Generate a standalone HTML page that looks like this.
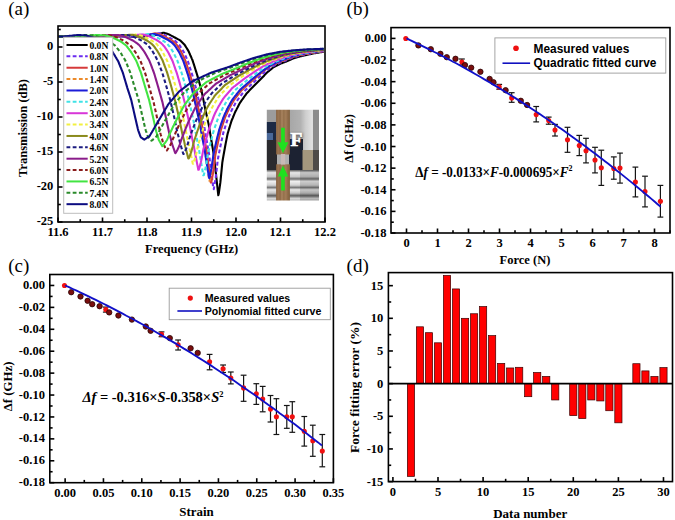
<!DOCTYPE html>
<html><head><meta charset="utf-8"><style>
html,body{margin:0;padding:0;background:#fff;}
svg{display:block;}
</style></head><body>
<svg width="675" height="520" viewBox="0 0 675 520">
<rect width="675" height="520" fill="#fff"/>
<defs><clipPath id="ca"><rect x="58" y="26" width="267" height="196"/></clipPath></defs>
<g clip-path="url(#ca)" fill="none" stroke-width="2.1" stroke-linejoin="round">
<path d="M58.8,36.5 L59.3,36.5 L59.8,36.5 L60.3,36.5 L60.8,36.5 L61.3,36.5 L61.8,36.5 L62.3,36.5 L62.8,36.5 L63.3,36.5 L63.8,36.5 L64.3,36.5 L64.8,36.5 L65.3,36.5 L65.8,36.5 L66.3,36.5 L66.8,36.5 L67.3,36.5 L67.8,36.5 L68.3,36.5 L68.8,36.5 L69.3,36.5 L69.8,36.5 L70.3,36.5 L70.8,36.5 L71.3,36.5 L71.8,36.5 L72.3,36.5 L72.8,36.5 L73.3,36.5 L73.8,36.5 L74.3,36.5 L74.8,36.5 L75.3,36.5 L75.8,36.5 L76.3,36.5 L76.8,36.5 L77.3,36.5 L77.8,36.5 L78.3,36.5 L78.8,36.5 L79.3,36.5 L79.8,36.5 L80.3,36.5 L80.8,36.5 L81.3,36.5 L81.8,36.5 L82.3,36.5 L82.8,36.5 L83.3,36.5 L83.8,36.5 L84.3,36.5 L84.8,36.5 L85.3,36.5 L85.8,36.5 L86.3,36.5 L86.8,36.5 L87.3,36.5 L87.8,36.5 L88.3,36.5 L88.8,36.5 L89.3,36.5 L89.8,36.5 L90.3,36.5 L90.8,36.5 L91.3,36.5 L91.8,36.5 L92.3,36.5 L92.8,36.5 L93.3,36.5 L93.8,36.5 L94.3,36.5 L94.8,36.5 L95.3,36.5 L95.8,36.5 L96.3,36.5 L96.8,36.5 L97.3,36.5 L97.8,36.5 L98.3,36.5 L98.8,36.5 L99.3,36.5 L99.8,36.5 L100.3,36.5 L100.8,36.5 L101.3,36.5 L101.8,36.5 L102.3,36.5 L102.8,36.5 L103.3,36.5 L103.8,36.5 L104.3,36.5 L104.8,36.5 L105.3,36.5 L105.8,36.5 L106.3,36.5 L106.8,36.5 L107.3,36.5 L107.8,36.5 L108.3,36.5 L108.8,36.5 L109.3,36.5 L109.8,36.5 L110.3,36.5 L110.8,36.5 L111.3,36.5 L111.8,36.5 L112.3,36.5 L112.8,36.5 L113.3,36.5 L113.8,36.5 L114.3,36.5 L114.8,36.5 L115.3,36.5 L115.8,36.5 L116.3,36.5 L116.8,36.5 L117.3,36.5 L117.8,36.5 L118.3,36.5 L118.8,36.5 L119.3,36.5 L119.8,36.5 L120.3,36.5 L120.8,36.5 L121.3,36.5 L121.8,36.5 L122.3,36.5 L122.8,36.5 L123.3,36.5 L123.8,36.5 L124.3,36.5 L124.8,36.5 L125.3,36.5 L125.8,36.5 L126.3,36.5 L126.8,36.5 L127.3,36.5 L127.8,36.5 L128.3,36.5 L128.8,36.5 L129.3,36.5 L129.8,36.5 L130.3,36.5 L130.8,36.5 L131.3,36.5 L131.8,36.5 L132.3,36.5 L132.8,36.5 L133.3,36.5 L133.8,36.5 L134.3,36.5 L134.8,36.5 L135.3,36.5 L135.8,36.5 L136.3,36.5 L136.8,36.5 L137.3,36.5 L137.8,36.5 L138.3,36.5 L138.8,36.5 L139.3,36.5 L139.8,36.5 L140.3,36.5 L140.8,36.5 L141.3,36.5 L141.8,36.5 L142.3,36.5 L142.8,36.5 L143.3,36.5 L143.8,36.5 L144.3,36.4 L144.8,36.3 L145.3,36.3 L145.8,36.2 L146.3,36.1 L146.8,36.1 L147.3,36.0 L147.8,36.0 L148.3,35.9 L148.8,35.8 L149.3,35.8 L149.8,35.7 L150.3,35.7 L150.8,35.6 L151.3,35.5 L151.8,35.5 L152.3,35.4 L152.8,35.3 L153.3,35.3 L153.8,35.2 L154.3,35.2 L154.8,35.1 L155.3,35.0 L155.8,35.0 L156.3,34.9 L156.8,34.8 L157.3,34.6 L157.8,34.5 L158.3,34.3 L158.8,34.1 L159.3,34.0 L159.8,33.8 L160.3,33.7 L160.8,33.5 L161.3,33.3 L161.8,33.2 L162.3,33.0 L162.8,32.9 L163.3,32.7 L163.8,32.8 L164.3,32.9 L164.8,33.1 L165.3,33.2 L165.8,33.4 L166.3,33.5 L166.8,33.6 L167.3,33.8 L167.8,33.9 L168.3,34.1 L168.8,34.3 L169.3,34.6 L169.8,34.8 L170.3,35.1 L170.8,35.4 L171.3,35.6 L171.8,35.9 L172.3,36.2 L172.8,36.4 L173.3,36.7 L173.8,37.0 L174.3,37.2 L174.8,37.5 L175.3,37.8 L175.8,38.0 L176.3,38.3 L176.8,38.6 L177.3,38.8 L177.8,39.1 L178.3,39.4 L178.8,39.6 L179.3,39.9 L179.8,40.2 L180.3,40.4 L180.8,40.9 L181.3,41.4 L181.8,41.9 L182.3,42.4 L182.8,42.9 L183.3,43.4 L183.8,43.9 L184.3,44.4 L184.8,45.1 L185.3,45.9 L185.8,46.7 L186.3,47.5 L186.8,48.3 L187.3,49.1 L187.8,49.9 L188.3,50.7 L188.8,51.8 L189.3,52.9 L189.8,54.0 L190.3,55.2 L190.8,56.3 L191.3,57.4 L191.8,58.6 L192.3,59.7 L192.8,61.1 L193.3,62.7 L193.8,64.2 L194.3,65.8 L194.8,67.4 L195.3,69.0 L195.8,70.6 L196.3,72.1 L196.8,73.7 L197.3,75.4 L197.8,77.1 L198.3,78.9 L198.8,80.6 L199.3,82.4 L199.8,84.2 L200.3,86.1 L200.8,87.9 L201.3,89.7 L201.8,92.0 L202.3,94.5 L202.8,97.0 L203.3,99.4 L203.8,101.9 L204.3,104.4 L204.8,106.9 L205.3,109.2 L205.8,111.5 L206.3,113.8 L206.8,116.0 L207.3,118.3 L207.8,120.6 L208.3,122.9 L208.8,125.1 L209.3,128.1 L209.8,131.1 L210.3,134.1 L210.8,137.0 L211.3,140.0 L211.8,143.0 L212.3,146.0 L212.8,148.9 L213.3,151.9 L213.8,154.9 L214.3,159.1 L214.8,163.6 L215.3,168.1 L215.8,172.7 L216.3,177.2 L216.8,181.7 L217.3,186.2 L217.8,190.8 L218.3,195.3 L218.8,193.4 L219.3,189.9 L219.8,186.4 L220.3,182.9 L220.8,178.2 L221.3,173.0 L221.8,167.9 L222.3,162.7 L222.8,159.5 L223.3,156.6 L223.8,153.8 L224.3,151.0 L224.8,148.2 L225.3,145.5 L225.8,142.9 L226.3,140.4 L226.8,137.8 L227.3,135.3 L227.8,133.1 L228.3,131.5 L228.8,129.8 L229.3,128.1 L229.8,126.5 L230.3,124.8 L230.8,123.2 L231.3,121.5 L231.8,120.2 L232.3,119.0 L232.8,117.8 L233.3,116.5 L233.8,115.3 L234.3,114.1 L234.8,112.9 L235.3,111.8 L235.8,110.8 L236.3,109.9 L236.8,108.9 L237.3,107.9 L237.8,107.0 L238.3,106.0 L238.8,105.0 L239.3,104.1 L239.8,103.1 L240.3,102.3 L240.8,101.6 L241.3,100.9 L241.8,100.2 L242.3,99.5 L242.8,98.8 L243.3,98.1 L243.8,97.4 L244.3,96.7 L244.8,96.0 L245.3,95.3 L245.8,94.6 L246.3,93.9 L246.8,93.2 L247.3,92.7 L247.8,92.2 L248.3,91.7 L248.8,91.2 L249.3,90.6 L249.8,90.1 L250.3,89.6 L250.8,89.1 L251.3,88.6 L251.8,88.1 L252.3,87.6 L252.8,87.0 L253.3,86.5 L253.8,86.0 L254.3,85.5 L254.8,85.0 L255.3,84.5 L255.8,84.0 L256.3,83.5 L256.8,83.0 L257.3,82.5 L257.8,82.0 L258.3,81.5 L258.8,81.0 L259.3,80.5 L259.8,80.0 L260.3,79.5 L260.8,79.0 L261.3,78.5 L261.8,78.0 L262.3,77.4 L262.8,76.9 L263.3,76.4 L263.8,75.9 L264.3,75.4 L264.8,74.8 L265.3,74.3 L265.8,73.8 L266.3,73.3 L266.8,72.8 L267.3,72.3 L267.8,71.9 L268.3,71.5 L268.8,71.1 L269.3,70.7 L269.8,70.3 L270.3,69.9 L270.8,69.5 L271.3,69.0 L271.8,68.6 L272.3,68.2 L272.8,67.8 L273.3,67.4 L273.8,67.1 L274.3,66.8 L274.8,66.5 L275.3,66.3 L275.8,66.0 L276.3,65.8 L276.8,65.5 L277.3,65.3 L277.8,65.0 L278.3,64.8 L278.8,64.5 L279.3,64.3 L279.8,64.0 L280.3,63.8 L280.8,63.6 L281.3,63.4 L281.8,63.2 L282.3,63.0 L282.8,62.8 L283.3,62.6 L283.8,62.4 L284.3,62.3 L284.8,62.1 L285.3,61.9 L285.8,61.7 L286.3,61.5 L286.8,61.3 L287.3,61.1 L287.8,60.9 L288.3,60.7 L288.8,60.4 L289.3,60.2 L289.8,60.0 L290.3,59.8 L290.8,59.6 L291.3,59.3 L291.8,59.1 L292.3,58.9 L292.8,58.7 L293.3,58.4 L293.8,58.2 L294.3,58.1 L294.8,57.9 L295.3,57.8 L295.8,57.6 L296.3,57.5 L296.8,57.3 L297.3,57.2 L297.8,57.0 L298.3,56.9 L298.8,56.7 L299.3,56.6 L299.8,56.5 L300.3,56.3 L300.8,56.2 L301.3,56.1 L301.8,56.0 L302.3,55.9 L302.8,55.7 L303.3,55.6 L303.8,55.5 L304.3,55.4 L304.8,55.3 L305.3,55.2 L305.8,55.1 L306.3,55.0 L306.8,54.9 L307.3,54.8 L307.8,54.6 L308.3,54.5 L308.8,54.4 L309.3,54.3 L309.8,54.2 L310.3,54.1 L310.8,54.0 L311.3,53.9 L311.8,53.8 L312.3,53.6 L312.8,53.5 L313.3,53.4 L313.8,53.3 L314.3,53.2 L314.8,53.1 L315.3,53.1 L315.8,53.0 L316.3,52.9 L316.8,52.8 L317.3,52.7 L317.8,52.7 L318.3,52.6 L318.8,52.5 L319.3,52.4 L319.8,52.3 L320.3,52.2 L320.8,52.2 L321.3,52.1 L321.8,52.0 L322.3,51.9 L322.8,51.8 L323.3,51.8 L323.8,51.7" stroke="#000000"/>
<path d="M58.8,36.5 L59.3,36.5 L59.8,36.5 L60.3,36.5 L60.8,36.5 L61.3,36.5 L61.8,36.5 L62.3,36.5 L62.8,36.5 L63.3,36.5 L63.8,36.5 L64.3,36.5 L64.8,36.5 L65.3,36.5 L65.8,36.5 L66.3,36.5 L66.8,36.5 L67.3,36.5 L67.8,36.5 L68.3,36.5 L68.8,36.5 L69.3,36.5 L69.8,36.5 L70.3,36.5 L70.8,36.5 L71.3,36.5 L71.8,36.5 L72.3,36.5 L72.8,36.5 L73.3,36.5 L73.8,36.5 L74.3,36.5 L74.8,36.5 L75.3,36.5 L75.8,36.5 L76.3,36.5 L76.8,36.5 L77.3,36.5 L77.8,36.5 L78.3,36.5 L78.8,36.5 L79.3,36.5 L79.8,36.5 L80.3,36.5 L80.8,36.5 L81.3,36.5 L81.8,36.5 L82.3,36.5 L82.8,36.5 L83.3,36.5 L83.8,36.5 L84.3,36.5 L84.8,36.5 L85.3,36.5 L85.8,36.5 L86.3,36.5 L86.8,36.5 L87.3,36.5 L87.8,36.5 L88.3,36.5 L88.8,36.5 L89.3,36.5 L89.8,36.5 L90.3,36.5 L90.8,36.5 L91.3,36.5 L91.8,36.5 L92.3,36.5 L92.8,36.5 L93.3,36.5 L93.8,36.5 L94.3,36.5 L94.8,36.5 L95.3,36.5 L95.8,36.5 L96.3,36.5 L96.8,36.5 L97.3,36.5 L97.8,36.5 L98.3,36.5 L98.8,36.5 L99.3,36.5 L99.8,36.5 L100.3,36.5 L100.8,36.5 L101.3,36.5 L101.8,36.5 L102.3,36.5 L102.8,36.5 L103.3,36.5 L103.8,36.5 L104.3,36.5 L104.8,36.5 L105.3,36.5 L105.8,36.5 L106.3,36.5 L106.8,36.5 L107.3,36.5 L107.8,36.5 L108.3,36.5 L108.8,36.5 L109.3,36.5 L109.8,36.5 L110.3,36.5 L110.8,36.5 L111.3,36.5 L111.8,36.5 L112.3,36.5 L112.8,36.5 L113.3,36.5 L113.8,36.5 L114.3,36.5 L114.8,36.5 L115.3,36.5 L115.8,36.5 L116.3,36.5 L116.8,36.5 L117.3,36.5 L117.8,36.5 L118.3,36.5 L118.8,36.5 L119.3,36.5 L119.8,36.5 L120.3,36.5 L120.8,36.5 L121.3,36.5 L121.8,36.5 L122.3,36.5 L122.8,36.5 L123.3,36.5 L123.8,36.5 L124.3,36.5 L124.8,36.5 L125.3,36.5 L125.8,36.5 L126.3,36.5 L126.8,36.5 L127.3,36.5 L127.8,36.5 L128.3,36.5 L128.8,36.5 L129.3,36.5 L129.8,36.5 L130.3,36.5 L130.8,36.5 L131.3,36.5 L131.8,36.5 L132.3,36.5 L132.8,36.5 L133.3,36.5 L133.8,36.5 L134.3,36.5 L134.8,36.5 L135.3,36.5 L135.8,36.5 L136.3,36.5 L136.8,36.4 L137.3,36.4 L137.8,36.4 L138.3,36.4 L138.8,36.4 L139.3,36.3 L139.8,36.3 L140.3,36.2 L140.8,36.1 L141.3,36.1 L141.8,36.0 L142.3,36.0 L142.8,35.9 L143.3,35.8 L143.8,35.8 L144.3,35.7 L144.8,35.7 L145.3,35.6 L145.8,35.5 L146.3,35.5 L146.8,35.4 L147.3,35.3 L147.8,35.3 L148.3,35.2 L148.8,35.2 L149.3,35.1 L149.8,35.1 L150.3,35.0 L150.8,35.0 L151.3,35.0 L151.8,34.9 L152.3,34.7 L152.8,34.6 L153.3,34.5 L153.8,34.3 L154.3,34.2 L154.8,34.1 L155.3,33.9 L155.8,33.8 L156.3,33.7 L156.8,33.6 L157.3,33.5 L157.8,33.3 L158.3,33.2 L158.8,33.2 L159.3,33.4 L159.8,33.5 L160.3,33.7 L160.8,33.8 L161.3,34.0 L161.8,34.1 L162.3,34.3 L162.8,34.4 L163.3,34.6 L163.8,34.8 L164.3,35.0 L164.8,35.3 L165.3,35.6 L165.8,35.8 L166.3,36.1 L166.8,36.3 L167.3,36.6 L167.8,36.9 L168.3,37.1 L168.8,37.4 L169.3,37.7 L169.8,37.9 L170.3,38.2 L170.8,38.5 L171.3,38.7 L171.8,39.0 L172.3,39.3 L172.8,39.6 L173.3,39.9 L173.8,40.2 L174.3,40.4 L174.8,40.7 L175.3,41.0 L175.8,41.4 L176.3,41.9 L176.8,42.4 L177.3,42.9 L177.8,43.4 L178.3,43.9 L178.8,44.4 L179.3,45.0 L179.8,45.6 L180.3,46.4 L180.8,47.2 L181.3,48.0 L181.8,48.8 L182.3,49.6 L182.8,50.4 L183.3,51.2 L183.8,52.1 L184.3,53.2 L184.8,54.3 L185.3,55.4 L185.8,56.5 L186.3,57.6 L186.8,58.7 L187.3,59.8 L187.8,61.0 L188.3,62.6 L188.8,64.1 L189.3,65.7 L189.8,67.3 L190.3,68.8 L190.8,70.4 L191.3,71.9 L191.8,73.5 L192.3,75.1 L192.8,76.8 L193.3,78.6 L193.8,80.3 L194.3,82.1 L194.8,84.0 L195.3,85.8 L195.8,87.6 L196.3,89.5 L196.8,91.4 L197.3,93.8 L197.8,96.2 L198.3,98.6 L198.8,101.0 L199.3,103.4 L199.8,105.8 L200.3,108.1 L200.8,110.3 L201.3,112.6 L201.8,114.9 L202.3,117.2 L202.8,119.5 L203.3,121.8 L203.8,124.1 L204.3,126.8 L204.8,129.7 L205.3,132.6 L205.8,135.5 L206.3,138.4 L206.8,141.3 L207.3,144.2 L207.8,147.1 L208.3,149.8 L208.8,152.6 L209.3,155.9 L209.8,160.1 L210.3,164.1 L210.8,168.1 L211.3,172.1 L211.8,176.1 L212.3,180.1 L212.8,184.0 L213.3,188.0 L213.8,189.2 L214.3,186.2 L214.8,183.2 L215.3,180.3 L215.8,177.1 L216.3,172.7 L216.8,168.4 L217.3,163.9 L217.8,159.5 L218.3,157.0 L218.8,154.4 L219.3,151.9 L219.8,149.3 L220.3,146.8 L220.8,144.3 L221.3,142.0 L221.8,139.7 L222.3,137.4 L222.8,135.1 L223.3,132.9 L223.8,131.3 L224.3,129.7 L224.8,128.1 L225.3,126.5 L225.8,125.0 L226.3,123.4 L226.8,121.8 L227.3,120.3 L227.8,119.1 L228.3,117.8 L228.8,116.7 L229.3,115.5 L229.8,114.3 L230.3,113.2 L230.8,112.0 L231.3,111.0 L231.8,110.0 L232.3,109.1 L232.8,108.1 L233.3,107.2 L233.8,106.3 L234.3,105.3 L234.8,104.4 L235.3,103.4 L235.8,102.6 L236.3,101.7 L236.8,101.0 L237.3,100.4 L237.8,99.7 L238.3,99.0 L238.8,98.3 L239.3,97.7 L239.8,97.0 L240.3,96.3 L240.8,95.6 L241.3,95.0 L241.8,94.3 L242.3,93.6 L242.8,92.9 L243.3,92.3 L243.8,91.8 L244.3,91.3 L244.8,90.8 L245.3,90.3 L245.8,89.8 L246.3,89.3 L246.8,88.9 L247.3,88.4 L247.8,87.9 L248.3,87.4 L248.8,86.9 L249.3,86.5 L249.8,86.0 L250.3,85.5 L250.8,85.0 L251.3,84.5 L251.8,84.1 L252.3,83.6 L252.8,83.1 L253.3,82.7 L253.8,82.2 L254.3,81.7 L254.8,81.2 L255.3,80.8 L255.8,80.3 L256.3,79.9 L256.8,79.4 L257.3,79.0 L257.8,78.5 L258.3,78.0 L258.8,77.6 L259.3,77.1 L259.8,76.6 L260.3,76.2 L260.8,75.7 L261.3,75.2 L261.8,74.7 L262.3,74.3 L262.8,73.8 L263.3,73.3 L263.8,72.9 L264.3,72.4 L264.8,72.0 L265.3,71.6 L265.8,71.2 L266.3,70.9 L266.8,70.5 L267.3,70.1 L267.8,69.7 L268.3,69.3 L268.8,68.9 L269.3,68.5 L269.8,68.1 L270.3,67.8 L270.8,67.4 L271.3,67.0 L271.8,66.7 L272.3,66.5 L272.8,66.2 L273.3,66.0 L273.8,65.7 L274.3,65.5 L274.8,65.2 L275.3,65.0 L275.8,64.7 L276.3,64.5 L276.8,64.2 L277.3,64.0 L277.8,63.7 L278.3,63.5 L278.8,63.2 L279.3,63.0 L279.8,62.8 L280.3,62.6 L280.8,62.4 L281.3,62.3 L281.8,62.1 L282.3,61.9 L282.8,61.7 L283.3,61.5 L283.8,61.3 L284.3,61.1 L284.8,60.9 L285.3,60.7 L285.8,60.5 L286.3,60.3 L286.8,60.1 L287.3,59.9 L287.8,59.6 L288.3,59.4 L288.8,59.2 L289.3,59.0 L289.8,58.8 L290.3,58.6 L290.8,58.4 L291.3,58.2 L291.8,57.9 L292.3,57.7 L292.8,57.6 L293.3,57.4 L293.8,57.3 L294.3,57.1 L294.8,57.0 L295.3,56.8 L295.8,56.7 L296.3,56.6 L296.8,56.4 L297.3,56.3 L297.8,56.1 L298.3,56.0 L298.8,55.9 L299.3,55.7 L299.8,55.6 L300.3,55.5 L300.8,55.4 L301.3,55.3 L301.8,55.2 L302.3,55.1 L302.8,55.0 L303.3,54.9 L303.8,54.8 L304.3,54.7 L304.8,54.6 L305.3,54.5 L305.8,54.4 L306.3,54.3 L306.8,54.2 L307.3,54.1 L307.8,54.0 L308.3,53.9 L308.8,53.8 L309.3,53.7 L309.8,53.6 L310.3,53.5 L310.8,53.4 L311.3,53.3 L311.8,53.1 L312.3,53.0 L312.8,52.9 L313.3,52.8 L313.8,52.8 L314.3,52.7 L314.8,52.6 L315.3,52.5 L315.8,52.5 L316.3,52.4 L316.8,52.3 L317.3,52.3 L317.8,52.2 L318.3,52.1 L318.8,52.0 L319.3,52.0 L319.8,51.9 L320.3,51.8 L320.8,51.7 L321.3,51.7 L321.8,51.6 L322.3,51.5 L322.8,51.5 L323.3,51.4 L323.8,51.3" stroke="#6b2cf0" stroke-dasharray="3.8,2.4"/>
<path d="M58.8,36.5 L59.3,36.5 L59.8,36.5 L60.3,36.5 L60.8,36.5 L61.3,36.5 L61.8,36.5 L62.3,36.5 L62.8,36.5 L63.3,36.5 L63.8,36.5 L64.3,36.5 L64.8,36.5 L65.3,36.5 L65.8,36.5 L66.3,36.5 L66.8,36.5 L67.3,36.5 L67.8,36.5 L68.3,36.5 L68.8,36.5 L69.3,36.5 L69.8,36.5 L70.3,36.5 L70.8,36.5 L71.3,36.5 L71.8,36.5 L72.3,36.5 L72.8,36.5 L73.3,36.5 L73.8,36.5 L74.3,36.5 L74.8,36.5 L75.3,36.5 L75.8,36.5 L76.3,36.5 L76.8,36.5 L77.3,36.5 L77.8,36.5 L78.3,36.5 L78.8,36.5 L79.3,36.5 L79.8,36.5 L80.3,36.5 L80.8,36.5 L81.3,36.5 L81.8,36.5 L82.3,36.5 L82.8,36.5 L83.3,36.5 L83.8,36.5 L84.3,36.5 L84.8,36.5 L85.3,36.5 L85.8,36.5 L86.3,36.5 L86.8,36.5 L87.3,36.5 L87.8,36.5 L88.3,36.5 L88.8,36.5 L89.3,36.5 L89.8,36.5 L90.3,36.5 L90.8,36.5 L91.3,36.5 L91.8,36.5 L92.3,36.5 L92.8,36.5 L93.3,36.5 L93.8,36.5 L94.3,36.5 L94.8,36.5 L95.3,36.5 L95.8,36.5 L96.3,36.5 L96.8,36.5 L97.3,36.5 L97.8,36.5 L98.3,36.5 L98.8,36.5 L99.3,36.5 L99.8,36.5 L100.3,36.5 L100.8,36.5 L101.3,36.5 L101.8,36.5 L102.3,36.5 L102.8,36.5 L103.3,36.5 L103.8,36.5 L104.3,36.5 L104.8,36.5 L105.3,36.5 L105.8,36.5 L106.3,36.5 L106.8,36.5 L107.3,36.5 L107.8,36.5 L108.3,36.5 L108.8,36.5 L109.3,36.5 L109.8,36.5 L110.3,36.5 L110.8,36.5 L111.3,36.5 L111.8,36.5 L112.3,36.5 L112.8,36.5 L113.3,36.5 L113.8,36.5 L114.3,36.5 L114.8,36.5 L115.3,36.5 L115.8,36.5 L116.3,36.5 L116.8,36.5 L117.3,36.5 L117.8,36.5 L118.3,36.5 L118.8,36.5 L119.3,36.5 L119.8,36.5 L120.3,36.5 L120.8,36.5 L121.3,36.5 L121.8,36.5 L122.3,36.5 L122.8,36.5 L123.3,36.5 L123.8,36.5 L124.3,36.5 L124.8,36.5 L125.3,36.5 L125.8,36.5 L126.3,36.5 L126.8,36.5 L127.3,36.5 L127.8,36.5 L128.3,36.5 L128.8,36.5 L129.3,36.5 L129.8,36.5 L130.3,36.5 L130.8,36.5 L131.3,36.5 L131.8,36.5 L132.3,36.5 L132.8,36.5 L133.3,36.5 L133.8,36.4 L134.3,36.4 L134.8,36.4 L135.3,36.4 L135.8,36.4 L136.3,36.4 L136.8,36.3 L137.3,36.2 L137.8,36.2 L138.3,36.1 L138.8,36.1 L139.3,36.0 L139.8,35.9 L140.3,35.9 L140.8,35.8 L141.3,35.8 L141.8,35.7 L142.3,35.7 L142.8,35.6 L143.3,35.5 L143.8,35.5 L144.3,35.4 L144.8,35.4 L145.3,35.3 L145.8,35.3 L146.3,35.2 L146.8,35.2 L147.3,35.1 L147.8,35.1 L148.3,35.0 L148.8,35.0 L149.3,34.9 L149.8,34.8 L150.3,34.7 L150.8,34.5 L151.3,34.4 L151.8,34.3 L152.3,34.2 L152.8,34.0 L153.3,33.9 L153.8,33.8 L154.3,33.7 L154.8,33.6 L155.3,33.5 L155.8,33.4 L156.3,33.5 L156.8,33.6 L157.3,33.8 L157.8,33.9 L158.3,34.1 L158.8,34.2 L159.3,34.3 L159.8,34.5 L160.3,34.6 L160.8,34.8 L161.3,35.0 L161.8,35.2 L162.3,35.5 L162.8,35.8 L163.3,36.0 L163.8,36.3 L164.3,36.5 L164.8,36.8 L165.3,37.0 L165.8,37.3 L166.3,37.5 L166.8,37.8 L167.3,38.1 L167.8,38.3 L168.3,38.6 L168.8,38.8 L169.3,39.1 L169.8,39.4 L170.3,39.7 L170.8,40.0 L171.3,40.2 L171.8,40.5 L172.3,40.8 L172.8,41.1 L173.3,41.5 L173.8,42.0 L174.3,42.4 L174.8,42.9 L175.3,43.4 L175.8,43.9 L176.3,44.4 L176.8,45.0 L177.3,45.6 L177.8,46.4 L178.3,47.2 L178.8,47.9 L179.3,48.7 L179.8,49.5 L180.3,50.2 L180.8,51.0 L181.3,52.0 L181.8,53.1 L182.3,54.1 L182.8,55.2 L183.3,56.2 L183.8,57.3 L184.3,58.4 L184.8,59.4 L185.3,60.7 L185.8,62.2 L186.3,63.7 L186.8,65.2 L187.3,66.7 L187.8,68.1 L188.3,69.6 L188.8,71.1 L189.3,72.6 L189.8,74.3 L190.3,75.9 L190.8,77.6 L191.3,79.3 L191.8,81.1 L192.3,82.9 L192.8,84.6 L193.3,86.4 L193.8,88.2 L194.3,90.2 L194.8,92.5 L195.3,94.8 L195.8,97.1 L196.3,99.4 L196.8,101.6 L197.3,103.9 L197.8,106.1 L198.3,108.3 L198.8,110.5 L199.3,112.8 L199.8,115.0 L200.3,117.2 L200.8,119.5 L201.3,121.7 L201.8,124.4 L202.3,127.2 L202.8,130.0 L203.3,132.7 L203.8,135.5 L204.3,138.3 L204.8,141.1 L205.3,143.8 L205.8,146.4 L206.3,149.1 L206.8,152.5 L207.3,156.4 L207.8,160.2 L208.3,163.9 L208.8,167.6 L209.3,171.3 L209.8,175.1 L210.3,178.8 L210.8,182.5 L211.3,182.4 L211.8,179.6 L212.3,176.9 L212.8,174.2 L213.3,171.1 L213.8,167.2 L214.3,163.2 L214.8,159.1 L215.3,155.1 L215.8,152.7 L216.3,150.3 L216.8,148.0 L217.3,145.6 L217.8,143.2 L218.3,140.9 L218.8,138.7 L219.3,136.6 L219.8,134.4 L220.3,132.3 L220.8,130.1 L221.3,128.6 L221.8,127.1 L222.3,125.6 L222.8,124.1 L223.3,122.6 L223.8,121.1 L224.3,119.6 L224.8,118.1 L225.3,116.9 L225.8,115.7 L226.3,114.6 L226.8,113.5 L227.3,112.4 L227.8,111.3 L228.3,110.2 L228.8,109.1 L229.3,108.2 L229.8,107.3 L230.3,106.4 L230.8,105.5 L231.3,104.6 L231.8,103.7 L232.3,102.8 L232.8,101.9 L233.3,101.1 L233.8,100.3 L234.3,99.5 L234.8,98.9 L235.3,98.2 L235.8,97.6 L236.3,96.9 L236.8,96.3 L237.3,95.7 L237.8,95.0 L238.3,94.4 L238.8,93.8 L239.3,93.1 L239.8,92.5 L240.3,91.8 L240.8,91.2 L241.3,90.6 L241.8,90.1 L242.3,89.6 L242.8,89.2 L243.3,88.7 L243.8,88.2 L244.3,87.8 L244.8,87.3 L245.3,86.9 L245.8,86.4 L246.3,86.0 L246.8,85.5 L247.3,85.1 L247.8,84.6 L248.3,84.2 L248.8,83.7 L249.3,83.3 L249.8,82.8 L250.3,82.4 L250.8,82.0 L251.3,81.5 L251.8,81.1 L252.3,80.6 L252.8,80.2 L253.3,79.8 L253.8,79.3 L254.3,78.9 L254.8,78.5 L255.3,78.1 L255.8,77.6 L256.3,77.2 L256.8,76.8 L257.3,76.3 L257.8,75.9 L258.3,75.4 L258.8,75.0 L259.3,74.6 L259.8,74.1 L260.3,73.7 L260.8,73.3 L261.3,72.8 L261.8,72.4 L262.3,71.9 L262.8,71.5 L263.3,71.1 L263.8,70.8 L264.3,70.4 L264.8,70.1 L265.3,69.7 L265.8,69.3 L266.3,69.0 L266.8,68.6 L267.3,68.2 L267.8,67.9 L268.3,67.5 L268.8,67.1 L269.3,66.8 L269.8,66.4 L270.3,66.1 L270.8,65.9 L271.3,65.6 L271.8,65.4 L272.3,65.1 L272.8,64.9 L273.3,64.7 L273.8,64.4 L274.3,64.2 L274.8,64.0 L275.3,63.7 L275.8,63.5 L276.3,63.2 L276.8,63.0 L277.3,62.8 L277.8,62.6 L278.3,62.4 L278.8,62.2 L279.3,62.0 L279.8,61.8 L280.3,61.6 L280.8,61.4 L281.3,61.2 L281.8,61.1 L282.3,60.9 L282.8,60.7 L283.3,60.5 L283.8,60.3 L284.3,60.1 L284.8,60.0 L285.3,59.7 L285.8,59.5 L286.3,59.3 L286.8,59.1 L287.3,58.9 L287.8,58.7 L288.3,58.5 L288.8,58.3 L289.3,58.1 L289.8,57.9 L290.3,57.7 L290.8,57.5 L291.3,57.3 L291.8,57.1 L292.3,57.0 L292.8,56.9 L293.3,56.7 L293.8,56.6 L294.3,56.5 L294.8,56.3 L295.3,56.2 L295.8,56.0 L296.3,55.9 L296.8,55.8 L297.3,55.6 L297.8,55.5 L298.3,55.4 L298.8,55.3 L299.3,55.2 L299.8,55.1 L300.3,55.0 L300.8,54.9 L301.3,54.8 L301.8,54.7 L302.3,54.6 L302.8,54.5 L303.3,54.4 L303.8,54.3 L304.3,54.2 L304.8,54.1 L305.3,54.0 L305.8,53.9 L306.3,53.8 L306.8,53.7 L307.3,53.6 L307.8,53.5 L308.3,53.4 L308.8,53.3 L309.3,53.2 L309.8,53.1 L310.3,53.0 L310.8,53.0 L311.3,52.9 L311.8,52.8 L312.3,52.7 L312.8,52.6 L313.3,52.5 L313.8,52.4 L314.3,52.3 L314.8,52.3 L315.3,52.2 L315.8,52.1 L316.3,52.1 L316.8,52.0 L317.3,51.9 L317.8,51.9 L318.3,51.8 L318.8,51.7 L319.3,51.7 L319.8,51.6 L320.3,51.5 L320.8,51.5 L321.3,51.4 L321.8,51.3 L322.3,51.3 L322.8,51.2 L323.3,51.1 L323.8,51.1" stroke="#d63a3a"/>
<path d="M58.8,36.5 L59.3,36.5 L59.8,36.5 L60.3,36.5 L60.8,36.5 L61.3,36.5 L61.8,36.5 L62.3,36.5 L62.8,36.5 L63.3,36.5 L63.8,36.5 L64.3,36.5 L64.8,36.5 L65.3,36.5 L65.8,36.5 L66.3,36.5 L66.8,36.5 L67.3,36.5 L67.8,36.5 L68.3,36.5 L68.8,36.5 L69.3,36.5 L69.8,36.5 L70.3,36.5 L70.8,36.5 L71.3,36.5 L71.8,36.5 L72.3,36.5 L72.8,36.5 L73.3,36.5 L73.8,36.5 L74.3,36.5 L74.8,36.5 L75.3,36.5 L75.8,36.5 L76.3,36.5 L76.8,36.5 L77.3,36.5 L77.8,36.5 L78.3,36.5 L78.8,36.5 L79.3,36.5 L79.8,36.5 L80.3,36.5 L80.8,36.5 L81.3,36.5 L81.8,36.5 L82.3,36.5 L82.8,36.5 L83.3,36.5 L83.8,36.5 L84.3,36.5 L84.8,36.5 L85.3,36.5 L85.8,36.5 L86.3,36.5 L86.8,36.5 L87.3,36.5 L87.8,36.5 L88.3,36.5 L88.8,36.5 L89.3,36.5 L89.8,36.5 L90.3,36.5 L90.8,36.5 L91.3,36.5 L91.8,36.5 L92.3,36.5 L92.8,36.5 L93.3,36.5 L93.8,36.5 L94.3,36.5 L94.8,36.5 L95.3,36.5 L95.8,36.5 L96.3,36.5 L96.8,36.5 L97.3,36.5 L97.8,36.5 L98.3,36.5 L98.8,36.5 L99.3,36.5 L99.8,36.5 L100.3,36.5 L100.8,36.5 L101.3,36.5 L101.8,36.5 L102.3,36.5 L102.8,36.5 L103.3,36.5 L103.8,36.5 L104.3,36.5 L104.8,36.5 L105.3,36.5 L105.8,36.5 L106.3,36.5 L106.8,36.5 L107.3,36.5 L107.8,36.5 L108.3,36.5 L108.8,36.5 L109.3,36.5 L109.8,36.5 L110.3,36.5 L110.8,36.5 L111.3,36.5 L111.8,36.5 L112.3,36.5 L112.8,36.5 L113.3,36.5 L113.8,36.5 L114.3,36.5 L114.8,36.5 L115.3,36.5 L115.8,36.5 L116.3,36.5 L116.8,36.5 L117.3,36.5 L117.8,36.5 L118.3,36.5 L118.8,36.5 L119.3,36.5 L119.8,36.5 L120.3,36.5 L120.8,36.5 L121.3,36.5 L121.8,36.5 L122.3,36.5 L122.8,36.5 L123.3,36.5 L123.8,36.5 L124.3,36.5 L124.8,36.5 L125.3,36.5 L125.8,36.5 L126.3,36.5 L126.8,36.5 L127.3,36.5 L127.8,36.5 L128.3,36.5 L128.8,36.5 L129.3,36.5 L129.8,36.5 L130.3,36.5 L130.8,36.5 L131.3,36.5 L131.8,36.4 L132.3,36.4 L132.8,36.4 L133.3,36.4 L133.8,36.4 L134.3,36.4 L134.8,36.3 L135.3,36.3 L135.8,36.2 L136.3,36.1 L136.8,36.1 L137.3,36.0 L137.8,36.0 L138.3,35.9 L138.8,35.8 L139.3,35.8 L139.8,35.7 L140.3,35.7 L140.8,35.6 L141.3,35.6 L141.8,35.5 L142.3,35.4 L142.8,35.4 L143.3,35.3 L143.8,35.3 L144.3,35.2 L144.8,35.2 L145.3,35.1 L145.8,35.1 L146.3,35.1 L146.8,35.0 L147.3,35.0 L147.8,34.9 L148.3,34.8 L148.8,34.7 L149.3,34.6 L149.8,34.5 L150.3,34.4 L150.8,34.2 L151.3,34.1 L151.8,34.0 L152.3,34.0 L152.8,33.9 L153.3,33.8 L153.8,33.7 L154.3,33.6 L154.8,33.7 L155.3,33.8 L155.8,34.0 L156.3,34.1 L156.8,34.3 L157.3,34.4 L157.8,34.6 L158.3,34.7 L158.8,34.9 L159.3,35.0 L159.8,35.2 L160.3,35.5 L160.8,35.7 L161.3,36.0 L161.8,36.3 L162.3,36.5 L162.8,36.8 L163.3,37.0 L163.8,37.3 L164.3,37.5 L164.8,37.8 L165.3,38.0 L165.8,38.3 L166.3,38.6 L166.8,38.8 L167.3,39.1 L167.8,39.4 L168.3,39.6 L168.8,39.9 L169.3,40.2 L169.8,40.5 L170.3,40.8 L170.8,41.1 L171.3,41.4 L171.8,41.8 L172.3,42.3 L172.8,42.8 L173.3,43.2 L173.8,43.7 L174.3,44.3 L174.8,44.8 L175.3,45.4 L175.8,46.0 L176.3,46.8 L176.8,47.6 L177.3,48.3 L177.8,49.1 L178.3,49.9 L178.8,50.7 L179.3,51.5 L179.8,52.4 L180.3,53.5 L180.8,54.5 L181.3,55.6 L181.8,56.6 L182.3,57.7 L182.8,58.7 L183.3,59.8 L183.8,61.0 L184.3,62.5 L184.8,64.0 L185.3,65.5 L185.8,67.0 L186.3,68.5 L186.8,70.0 L187.3,71.5 L187.8,73.0 L188.3,74.6 L188.8,76.3 L189.3,78.0 L189.8,79.7 L190.3,81.5 L190.8,83.3 L191.3,85.1 L191.8,86.9 L192.3,88.6 L192.8,90.6 L193.3,92.9 L193.8,95.1 L194.3,97.4 L194.8,99.6 L195.3,101.9 L195.8,104.1 L196.3,106.3 L196.8,108.5 L197.3,110.7 L197.8,113.0 L198.3,115.3 L198.8,117.5 L199.3,119.8 L199.8,122.0 L200.3,124.7 L200.8,127.5 L201.3,130.2 L201.8,133.0 L202.3,135.8 L202.8,138.5 L203.3,141.3 L203.8,143.9 L204.3,146.5 L204.8,149.1 L205.3,152.3 L205.8,156.1 L206.3,159.7 L206.8,163.1 L207.3,166.6 L207.8,170.1 L208.3,173.6 L208.8,177.1 L209.3,180.6 L209.8,180.5 L210.3,177.9 L210.8,175.4 L211.3,172.8 L211.8,170.0 L212.3,166.4 L212.8,162.7 L213.3,158.9 L213.8,155.0 L214.3,152.6 L214.8,150.3 L215.3,148.0 L215.8,145.7 L216.3,143.4 L216.8,141.2 L217.3,139.1 L217.8,137.0 L218.3,134.9 L218.8,132.8 L219.3,130.7 L219.8,129.1 L220.3,127.6 L220.8,126.1 L221.3,124.6 L221.8,123.1 L222.3,121.7 L222.8,120.2 L223.3,118.7 L223.8,117.3 L224.3,116.2 L224.8,115.0 L225.3,113.9 L225.8,112.8 L226.3,111.8 L226.8,110.7 L227.3,109.6 L227.8,108.6 L228.3,107.7 L228.8,106.8 L229.3,105.9 L229.8,105.0 L230.3,104.1 L230.8,103.2 L231.3,102.3 L231.8,101.4 L232.3,100.6 L232.8,99.8 L233.3,99.1 L233.8,98.5 L234.3,97.8 L234.8,97.2 L235.3,96.6 L235.8,95.9 L236.3,95.3 L236.8,94.7 L237.3,94.0 L237.8,93.4 L238.3,92.8 L238.8,92.1 L239.3,91.5 L239.8,90.9 L240.3,90.2 L240.8,89.7 L241.3,89.3 L241.8,88.9 L242.3,88.4 L242.8,88.0 L243.3,87.5 L243.8,87.1 L244.3,86.6 L244.8,86.2 L245.3,85.7 L245.8,85.3 L246.3,84.8 L246.8,84.4 L247.3,84.0 L247.8,83.5 L248.3,83.1 L248.8,82.6 L249.3,82.2 L249.8,81.8 L250.3,81.3 L250.8,80.9 L251.3,80.5 L251.8,80.0 L252.3,79.6 L252.8,79.2 L253.3,78.8 L253.8,78.4 L254.3,78.0 L254.8,77.6 L255.3,77.1 L255.8,76.7 L256.3,76.3 L256.8,75.9 L257.3,75.5 L257.8,75.0 L258.3,74.6 L258.8,74.2 L259.3,73.8 L259.8,73.3 L260.3,72.9 L260.8,72.5 L261.3,72.1 L261.8,71.6 L262.3,71.3 L262.8,70.9 L263.3,70.6 L263.8,70.2 L264.3,69.9 L264.8,69.5 L265.3,69.1 L265.8,68.8 L266.3,68.4 L266.8,68.1 L267.3,67.7 L267.8,67.3 L268.3,67.0 L268.8,66.6 L269.3,66.3 L269.8,66.0 L270.3,65.8 L270.8,65.5 L271.3,65.3 L271.8,65.0 L272.3,64.8 L272.8,64.5 L273.3,64.3 L273.8,64.1 L274.3,63.8 L274.8,63.6 L275.3,63.3 L275.8,63.1 L276.3,62.9 L276.8,62.6 L277.3,62.4 L277.8,62.2 L278.3,62.0 L278.8,61.8 L279.3,61.6 L279.8,61.4 L280.3,61.3 L280.8,61.1 L281.3,60.9 L281.8,60.7 L282.3,60.5 L282.8,60.3 L283.3,60.2 L283.8,60.0 L284.3,59.8 L284.8,59.6 L285.3,59.3 L285.8,59.1 L286.3,58.9 L286.8,58.7 L287.3,58.5 L287.8,58.3 L288.3,58.1 L288.8,57.9 L289.3,57.7 L289.8,57.5 L290.3,57.4 L290.8,57.2 L291.3,57.0 L291.8,56.8 L292.3,56.7 L292.8,56.6 L293.3,56.4 L293.8,56.3 L294.3,56.1 L294.8,56.0 L295.3,55.9 L295.8,55.7 L296.3,55.6 L296.8,55.4 L297.3,55.3 L297.8,55.2 L298.3,55.1 L298.8,55.0 L299.3,54.9 L299.8,54.8 L300.3,54.7 L300.8,54.6 L301.3,54.5 L301.8,54.4 L302.3,54.3 L302.8,54.2 L303.3,54.1 L303.8,54.0 L304.3,53.9 L304.8,53.8 L305.3,53.7 L305.8,53.6 L306.3,53.5 L306.8,53.4 L307.3,53.4 L307.8,53.3 L308.3,53.2 L308.8,53.1 L309.3,53.0 L309.8,52.9 L310.3,52.8 L310.8,52.7 L311.3,52.6 L311.8,52.5 L312.3,52.5 L312.8,52.4 L313.3,52.3 L313.8,52.2 L314.3,52.1 L314.8,52.1 L315.3,52.0 L315.8,52.0 L316.3,51.9 L316.8,51.8 L317.3,51.8 L317.8,51.7 L318.3,51.6 L318.8,51.6 L319.3,51.5 L319.8,51.5 L320.3,51.4 L320.8,51.3 L321.3,51.3 L321.8,51.2 L322.3,51.1 L322.8,51.1 L323.3,51.0 L323.8,50.9" stroke="#ec8a2a" stroke-dasharray="3.8,2.4"/>
<path d="M58.8,36.5 L59.3,36.5 L59.8,36.5 L60.3,36.5 L60.8,36.5 L61.3,36.5 L61.8,36.5 L62.3,36.5 L62.8,36.5 L63.3,36.5 L63.8,36.5 L64.3,36.5 L64.8,36.5 L65.3,36.5 L65.8,36.5 L66.3,36.5 L66.8,36.5 L67.3,36.5 L67.8,36.5 L68.3,36.5 L68.8,36.5 L69.3,36.5 L69.8,36.5 L70.3,36.5 L70.8,36.5 L71.3,36.5 L71.8,36.5 L72.3,36.5 L72.8,36.5 L73.3,36.5 L73.8,36.5 L74.3,36.5 L74.8,36.5 L75.3,36.5 L75.8,36.5 L76.3,36.5 L76.8,36.5 L77.3,36.5 L77.8,36.5 L78.3,36.5 L78.8,36.5 L79.3,36.5 L79.8,36.5 L80.3,36.5 L80.8,36.5 L81.3,36.5 L81.8,36.5 L82.3,36.5 L82.8,36.5 L83.3,36.5 L83.8,36.5 L84.3,36.5 L84.8,36.5 L85.3,36.5 L85.8,36.5 L86.3,36.5 L86.8,36.5 L87.3,36.5 L87.8,36.5 L88.3,36.5 L88.8,36.5 L89.3,36.5 L89.8,36.5 L90.3,36.5 L90.8,36.5 L91.3,36.5 L91.8,36.5 L92.3,36.5 L92.8,36.5 L93.3,36.5 L93.8,36.5 L94.3,36.5 L94.8,36.5 L95.3,36.5 L95.8,36.5 L96.3,36.5 L96.8,36.5 L97.3,36.5 L97.8,36.5 L98.3,36.5 L98.8,36.5 L99.3,36.5 L99.8,36.5 L100.3,36.5 L100.8,36.5 L101.3,36.5 L101.8,36.5 L102.3,36.5 L102.8,36.5 L103.3,36.5 L103.8,36.5 L104.3,36.5 L104.8,36.5 L105.3,36.5 L105.8,36.5 L106.3,36.5 L106.8,36.5 L107.3,36.5 L107.8,36.5 L108.3,36.5 L108.8,36.5 L109.3,36.5 L109.8,36.5 L110.3,36.5 L110.8,36.5 L111.3,36.5 L111.8,36.5 L112.3,36.5 L112.8,36.5 L113.3,36.5 L113.8,36.5 L114.3,36.5 L114.8,36.5 L115.3,36.5 L115.8,36.5 L116.3,36.5 L116.8,36.5 L117.3,36.5 L117.8,36.5 L118.3,36.5 L118.8,36.5 L119.3,36.5 L119.8,36.5 L120.3,36.5 L120.8,36.5 L121.3,36.5 L121.8,36.5 L122.3,36.5 L122.8,36.5 L123.3,36.5 L123.8,36.5 L124.3,36.5 L124.8,36.5 L125.3,36.5 L125.8,36.5 L126.3,36.5 L126.8,36.5 L127.3,36.5 L127.8,36.5 L128.3,36.5 L128.8,36.5 L129.3,36.5 L129.8,36.5 L130.3,36.5 L130.8,36.4 L131.3,36.4 L131.8,36.4 L132.3,36.4 L132.8,36.4 L133.3,36.3 L133.8,36.3 L134.3,36.3 L134.8,36.2 L135.3,36.2 L135.8,36.1 L136.3,36.1 L136.8,36.0 L137.3,35.9 L137.8,35.9 L138.3,35.8 L138.8,35.8 L139.3,35.7 L139.8,35.6 L140.3,35.6 L140.8,35.5 L141.3,35.5 L141.8,35.4 L142.3,35.3 L142.8,35.3 L143.3,35.2 L143.8,35.2 L144.3,35.2 L144.8,35.1 L145.3,35.1 L145.8,35.1 L146.3,35.0 L146.8,35.0 L147.3,35.0 L147.8,34.9 L148.3,34.8 L148.8,34.7 L149.3,34.6 L149.8,34.5 L150.3,34.4 L150.8,34.3 L151.3,34.2 L151.8,34.2 L152.3,34.1 L152.8,34.1 L153.3,34.0 L153.8,34.0 L154.3,33.9 L154.8,34.1 L155.3,34.2 L155.8,34.4 L156.3,34.6 L156.8,34.7 L157.3,34.9 L157.8,35.0 L158.3,35.2 L158.8,35.3 L159.3,35.5 L159.8,35.7 L160.3,36.0 L160.8,36.3 L161.3,36.5 L161.8,36.8 L162.3,37.0 L162.8,37.3 L163.3,37.5 L163.8,37.8 L164.3,38.0 L164.8,38.3 L165.3,38.6 L165.8,38.8 L166.3,39.1 L166.8,39.3 L167.3,39.6 L167.8,39.9 L168.3,40.2 L168.8,40.5 L169.3,40.8 L169.8,41.1 L170.3,41.5 L170.8,41.8 L171.3,42.1 L171.8,42.6 L172.3,43.0 L172.8,43.5 L173.3,44.0 L173.8,44.6 L174.3,45.1 L174.8,45.7 L175.3,46.3 L175.8,47.0 L176.3,47.8 L176.8,48.6 L177.3,49.3 L177.8,50.1 L178.3,50.9 L178.8,51.7 L179.3,52.6 L179.8,53.6 L180.3,54.6 L180.8,55.7 L181.3,56.7 L181.8,57.8 L182.3,58.8 L182.8,59.9 L183.3,60.9 L183.8,62.4 L184.3,63.9 L184.8,65.4 L185.3,66.8 L185.8,68.3 L186.3,69.8 L186.8,71.3 L187.3,72.8 L187.8,74.3 L188.3,76.0 L188.8,77.7 L189.3,79.5 L189.8,81.2 L190.3,83.0 L190.8,84.8 L191.3,86.6 L191.8,88.4 L192.3,90.2 L192.8,92.5 L193.3,94.6 L193.8,96.8 L194.3,99.0 L194.8,101.2 L195.3,103.4 L195.8,105.6 L196.3,107.7 L196.8,110.0 L197.3,112.3 L197.8,114.5 L198.3,116.8 L198.8,119.1 L199.3,121.4 L199.8,123.9 L200.3,126.6 L200.8,129.3 L201.3,132.1 L201.8,134.8 L202.3,137.5 L202.8,140.3 L203.3,142.9 L203.8,145.3 L204.3,147.8 L204.8,150.5 L205.3,154.0 L205.8,157.4 L206.3,160.5 L206.8,163.7 L207.3,166.8 L207.8,170.0 L208.3,173.1 L208.8,176.3 L209.3,178.3 L209.8,176.0 L210.3,173.7 L210.8,171.4 L211.3,169.0 L211.8,165.9 L212.3,162.6 L212.8,159.2 L213.3,155.6 L213.8,152.7 L214.3,150.5 L214.8,148.3 L215.3,146.1 L215.8,143.9 L216.3,141.7 L216.8,139.6 L217.3,137.6 L217.8,135.6 L218.3,133.5 L218.8,131.5 L219.3,129.6 L219.8,128.2 L220.3,126.7 L220.8,125.2 L221.3,123.7 L221.8,122.2 L222.3,120.8 L222.8,119.3 L223.3,117.8 L223.8,116.6 L224.3,115.4 L224.8,114.2 L225.3,113.1 L225.8,112.1 L226.3,111.0 L226.8,109.9 L227.3,108.8 L227.8,107.9 L228.3,107.0 L228.8,106.1 L229.3,105.2 L229.8,104.2 L230.3,103.3 L230.8,102.4 L231.3,101.5 L231.8,100.7 L232.3,99.9 L232.8,99.1 L233.3,98.5 L233.8,97.8 L234.3,97.2 L234.8,96.5 L235.3,95.9 L235.8,95.3 L236.3,94.6 L236.8,94.0 L237.3,93.4 L237.8,92.7 L238.3,92.1 L238.8,91.4 L239.3,90.8 L239.8,90.2 L240.3,89.6 L240.8,89.1 L241.3,88.7 L241.8,88.2 L242.3,87.8 L242.8,87.4 L243.3,86.9 L243.8,86.5 L244.3,86.0 L244.8,85.6 L245.3,85.2 L245.8,84.7 L246.3,84.3 L246.8,83.8 L247.3,83.4 L247.8,83.0 L248.3,82.5 L248.8,82.1 L249.3,81.7 L249.8,81.2 L250.3,80.8 L250.8,80.4 L251.3,79.9 L251.8,79.5 L252.3,79.1 L252.8,78.7 L253.3,78.3 L253.8,77.9 L254.3,77.5 L254.8,77.1 L255.3,76.7 L255.8,76.3 L256.3,75.9 L256.8,75.5 L257.3,75.1 L257.8,74.7 L258.3,74.3 L258.8,73.9 L259.3,73.5 L259.8,73.1 L260.3,72.7 L260.8,72.2 L261.3,71.8 L261.8,71.4 L262.3,71.1 L262.8,70.7 L263.3,70.4 L263.8,70.0 L264.3,69.7 L264.8,69.3 L265.3,69.0 L265.8,68.6 L266.3,68.3 L266.8,67.9 L267.3,67.6 L267.8,67.2 L268.3,66.8 L268.8,66.5 L269.3,66.2 L269.8,65.9 L270.3,65.6 L270.8,65.4 L271.3,65.1 L271.8,64.9 L272.3,64.6 L272.8,64.4 L273.3,64.1 L273.8,63.9 L274.3,63.6 L274.8,63.4 L275.3,63.2 L275.8,62.9 L276.3,62.7 L276.8,62.4 L277.3,62.2 L277.8,62.0 L278.3,61.8 L278.8,61.6 L279.3,61.4 L279.8,61.2 L280.3,61.0 L280.8,60.8 L281.3,60.6 L281.8,60.4 L282.3,60.2 L282.8,60.0 L283.3,59.8 L283.8,59.6 L284.3,59.4 L284.8,59.2 L285.3,59.0 L285.8,58.8 L286.3,58.6 L286.8,58.4 L287.3,58.2 L287.8,58.0 L288.3,57.8 L288.8,57.6 L289.3,57.4 L289.8,57.2 L290.3,57.0 L290.8,56.8 L291.3,56.6 L291.8,56.5 L292.3,56.4 L292.8,56.2 L293.3,56.1 L293.8,55.9 L294.3,55.8 L294.8,55.7 L295.3,55.5 L295.8,55.4 L296.3,55.2 L296.8,55.1 L297.3,55.0 L297.8,54.9 L298.3,54.7 L298.8,54.6 L299.3,54.5 L299.8,54.4 L300.3,54.3 L300.8,54.2 L301.3,54.1 L301.8,54.1 L302.3,54.0 L302.8,53.9 L303.3,53.8 L303.8,53.7 L304.3,53.6 L304.8,53.5 L305.3,53.4 L305.8,53.3 L306.3,53.2 L306.8,53.1 L307.3,53.0 L307.8,52.9 L308.3,52.9 L308.8,52.8 L309.3,52.7 L309.8,52.6 L310.3,52.5 L310.8,52.4 L311.3,52.3 L311.8,52.3 L312.3,52.2 L312.8,52.1 L313.3,52.0 L313.8,51.9 L314.3,51.9 L314.8,51.8 L315.3,51.8 L315.8,51.7 L316.3,51.6 L316.8,51.6 L317.3,51.5 L317.8,51.5 L318.3,51.4 L318.8,51.3 L319.3,51.3 L319.8,51.2 L320.3,51.2 L320.8,51.1 L321.3,51.0 L321.8,51.0 L322.3,50.9 L322.8,50.9 L323.3,50.8 L323.8,50.7" stroke="#1c1cd8"/>
<path d="M58.8,36.5 L59.3,36.5 L59.8,36.5 L60.3,36.5 L60.8,36.5 L61.3,36.5 L61.8,36.5 L62.3,36.5 L62.8,36.5 L63.3,36.5 L63.8,36.5 L64.3,36.5 L64.8,36.5 L65.3,36.5 L65.8,36.5 L66.3,36.5 L66.8,36.5 L67.3,36.5 L67.8,36.5 L68.3,36.5 L68.8,36.5 L69.3,36.5 L69.8,36.5 L70.3,36.5 L70.8,36.5 L71.3,36.5 L71.8,36.5 L72.3,36.5 L72.8,36.5 L73.3,36.5 L73.8,36.5 L74.3,36.5 L74.8,36.5 L75.3,36.5 L75.8,36.5 L76.3,36.5 L76.8,36.5 L77.3,36.5 L77.8,36.5 L78.3,36.5 L78.8,36.5 L79.3,36.5 L79.8,36.5 L80.3,36.5 L80.8,36.5 L81.3,36.5 L81.8,36.5 L82.3,36.5 L82.8,36.5 L83.3,36.5 L83.8,36.5 L84.3,36.5 L84.8,36.5 L85.3,36.5 L85.8,36.5 L86.3,36.5 L86.8,36.5 L87.3,36.5 L87.8,36.5 L88.3,36.5 L88.8,36.5 L89.3,36.5 L89.8,36.5 L90.3,36.5 L90.8,36.5 L91.3,36.5 L91.8,36.5 L92.3,36.5 L92.8,36.5 L93.3,36.5 L93.8,36.5 L94.3,36.5 L94.8,36.5 L95.3,36.5 L95.8,36.5 L96.3,36.5 L96.8,36.5 L97.3,36.5 L97.8,36.5 L98.3,36.5 L98.8,36.5 L99.3,36.5 L99.8,36.5 L100.3,36.5 L100.8,36.5 L101.3,36.5 L101.8,36.5 L102.3,36.5 L102.8,36.5 L103.3,36.5 L103.8,36.5 L104.3,36.5 L104.8,36.5 L105.3,36.5 L105.8,36.5 L106.3,36.5 L106.8,36.5 L107.3,36.5 L107.8,36.5 L108.3,36.5 L108.8,36.5 L109.3,36.5 L109.8,36.5 L110.3,36.5 L110.8,36.5 L111.3,36.5 L111.8,36.5 L112.3,36.5 L112.8,36.5 L113.3,36.5 L113.8,36.5 L114.3,36.5 L114.8,36.5 L115.3,36.5 L115.8,36.5 L116.3,36.5 L116.8,36.5 L117.3,36.5 L117.8,36.5 L118.3,36.5 L118.8,36.5 L119.3,36.5 L119.8,36.5 L120.3,36.5 L120.8,36.5 L121.3,36.5 L121.8,36.5 L122.3,36.5 L122.8,36.5 L123.3,36.5 L123.8,36.5 L124.3,36.5 L124.8,36.4 L125.3,36.4 L125.8,36.4 L126.3,36.4 L126.8,36.4 L127.3,36.3 L127.8,36.3 L128.3,36.3 L128.8,36.2 L129.3,36.2 L129.8,36.1 L130.3,36.1 L130.8,36.0 L131.3,35.9 L131.8,35.9 L132.3,35.8 L132.8,35.8 L133.3,35.7 L133.8,35.6 L134.3,35.6 L134.8,35.5 L135.3,35.5 L135.8,35.4 L136.3,35.3 L136.8,35.3 L137.3,35.2 L137.8,35.2 L138.3,35.2 L138.8,35.1 L139.3,35.1 L139.8,35.1 L140.3,35.1 L140.8,35.0 L141.3,35.0 L141.8,34.9 L142.3,34.9 L142.8,34.8 L143.3,34.7 L143.8,34.6 L144.3,34.5 L144.8,34.4 L145.3,34.4 L145.8,34.3 L146.3,34.3 L146.8,34.2 L147.3,34.2 L147.8,34.2 L148.3,34.1 L148.8,34.2 L149.3,34.4 L149.8,34.5 L150.3,34.7 L150.8,34.8 L151.3,35.0 L151.8,35.1 L152.3,35.3 L152.8,35.4 L153.3,35.6 L153.8,35.8 L154.3,36.1 L154.8,36.3 L155.3,36.6 L155.8,36.8 L156.3,37.1 L156.8,37.3 L157.3,37.6 L157.8,37.9 L158.3,38.1 L158.8,38.4 L159.3,38.6 L159.8,38.9 L160.3,39.1 L160.8,39.4 L161.3,39.6 L161.8,39.9 L162.3,40.3 L162.8,40.6 L163.3,40.9 L163.8,41.2 L164.3,41.5 L164.8,41.9 L165.3,42.2 L165.8,42.6 L166.3,43.0 L166.8,43.5 L167.3,44.0 L167.8,44.5 L168.3,45.1 L168.8,45.7 L169.3,46.2 L169.8,46.9 L170.3,47.7 L170.8,48.4 L171.3,49.2 L171.8,49.9 L172.3,50.7 L172.8,51.5 L173.3,52.4 L173.8,53.3 L174.3,54.3 L174.8,55.4 L175.3,56.4 L175.8,57.4 L176.3,58.5 L176.8,59.5 L177.3,60.5 L177.8,61.8 L178.3,63.2 L178.8,64.7 L179.3,66.2 L179.8,67.6 L180.3,69.1 L180.8,70.6 L181.3,72.0 L181.8,73.5 L182.3,75.1 L182.8,76.9 L183.3,78.6 L183.8,80.3 L184.3,82.1 L184.8,83.9 L185.3,85.7 L185.8,87.6 L186.3,89.4 L186.8,91.3 L187.3,93.5 L187.8,95.6 L188.3,97.8 L188.8,99.9 L189.3,102.1 L189.8,104.3 L190.3,106.3 L190.8,108.5 L191.3,110.8 L191.8,113.1 L192.3,115.4 L192.8,117.7 L193.3,120.0 L193.8,122.3 L194.3,124.9 L194.8,127.6 L195.3,130.3 L195.8,133.0 L196.3,135.7 L196.8,138.4 L197.3,141.1 L197.8,143.6 L198.3,146.0 L198.8,148.3 L199.3,151.3 L199.8,154.6 L200.3,157.7 L200.8,160.6 L201.3,163.5 L201.8,166.5 L202.3,169.4 L202.8,172.3 L203.3,175.2 L203.8,175.2 L204.3,173.1 L204.8,171.0 L205.3,168.9 L205.8,166.8 L206.3,163.9 L206.8,161.0 L207.3,157.9 L207.8,154.6 L208.3,152.0 L208.8,149.9 L209.3,147.9 L209.8,145.8 L210.3,143.8 L210.8,141.8 L211.3,139.8 L211.8,137.9 L212.3,136.0 L212.8,134.1 L213.3,132.2 L213.8,130.4 L214.3,128.8 L214.8,127.4 L215.3,126.0 L215.8,124.6 L216.3,123.2 L216.8,121.7 L217.3,120.3 L217.8,118.9 L218.3,117.5 L218.8,116.3 L219.3,115.2 L219.8,114.0 L220.3,113.0 L220.8,112.0 L221.3,111.0 L221.8,110.0 L222.3,108.9 L222.8,108.0 L223.3,107.1 L223.8,106.2 L224.3,105.3 L224.8,104.5 L225.3,103.6 L225.8,102.7 L226.3,101.8 L226.8,100.9 L227.3,100.2 L227.8,99.4 L228.3,98.7 L228.8,98.1 L229.3,97.5 L229.8,96.9 L230.3,96.3 L230.8,95.7 L231.3,95.0 L231.8,94.4 L232.3,93.8 L232.8,93.2 L233.3,92.6 L233.8,92.0 L234.3,91.4 L234.8,90.8 L235.3,90.2 L235.8,89.6 L236.3,89.0 L236.8,88.6 L237.3,88.2 L237.8,87.8 L238.3,87.4 L238.8,86.9 L239.3,86.5 L239.8,86.1 L240.3,85.7 L240.8,85.3 L241.3,84.9 L241.8,84.5 L242.3,84.0 L242.8,83.6 L243.3,83.2 L243.8,82.8 L244.3,82.4 L244.8,82.0 L245.3,81.6 L245.8,81.2 L246.3,80.8 L246.8,80.3 L247.3,79.9 L247.8,79.5 L248.3,79.1 L248.8,78.7 L249.3,78.4 L249.8,78.0 L250.3,77.6 L250.8,77.3 L251.3,76.9 L251.8,76.5 L252.3,76.2 L252.8,75.8 L253.3,75.4 L253.8,75.0 L254.3,74.6 L254.8,74.3 L255.3,73.9 L255.8,73.5 L256.3,73.1 L256.8,72.7 L257.3,72.4 L257.8,72.0 L258.3,71.6 L258.8,71.2 L259.3,70.9 L259.8,70.6 L260.3,70.3 L260.8,69.9 L261.3,69.6 L261.8,69.3 L262.3,68.9 L262.8,68.6 L263.3,68.3 L263.8,67.9 L264.3,67.6 L264.8,67.2 L265.3,66.9 L265.8,66.6 L266.3,66.2 L266.8,66.0 L267.3,65.7 L267.8,65.5 L268.3,65.2 L268.8,65.0 L269.3,64.7 L269.8,64.5 L270.3,64.3 L270.8,64.0 L271.3,63.8 L271.8,63.5 L272.3,63.3 L272.8,63.1 L273.3,62.8 L273.8,62.6 L274.3,62.3 L274.8,62.1 L275.3,61.9 L275.8,61.7 L276.3,61.5 L276.8,61.3 L277.3,61.1 L277.8,60.9 L278.3,60.7 L278.8,60.6 L279.3,60.4 L279.8,60.2 L280.3,60.0 L280.8,59.8 L281.3,59.6 L281.8,59.4 L282.3,59.2 L282.8,59.0 L283.3,58.8 L283.8,58.6 L284.3,58.4 L284.8,58.2 L285.3,58.0 L285.8,57.8 L286.3,57.6 L286.8,57.4 L287.3,57.3 L287.8,57.1 L288.3,56.9 L288.8,56.7 L289.3,56.5 L289.8,56.4 L290.3,56.2 L290.8,56.1 L291.3,56.0 L291.8,55.8 L292.3,55.7 L292.8,55.6 L293.3,55.4 L293.8,55.3 L294.3,55.1 L294.8,55.0 L295.3,54.9 L295.8,54.8 L296.3,54.7 L296.8,54.5 L297.3,54.4 L297.8,54.4 L298.3,54.3 L298.8,54.2 L299.3,54.1 L299.8,54.0 L300.3,53.9 L300.8,53.8 L301.3,53.7 L301.8,53.6 L302.3,53.5 L302.8,53.4 L303.3,53.3 L303.8,53.2 L304.3,53.2 L304.8,53.1 L305.3,53.0 L305.8,52.9 L306.3,52.8 L306.8,52.8 L307.3,52.7 L307.8,52.6 L308.3,52.5 L308.8,52.4 L309.3,52.4 L309.8,52.3 L310.3,52.2 L310.8,52.1 L311.3,52.0 L311.8,51.9 L312.3,51.9 L312.8,51.8 L313.3,51.7 L313.8,51.7 L314.3,51.6 L314.8,51.6 L315.3,51.5 L315.8,51.5 L316.3,51.4 L316.8,51.4 L317.3,51.3 L317.8,51.2 L318.3,51.2 L318.8,51.1 L319.3,51.1 L319.8,51.0 L320.3,51.0 L320.8,50.9 L321.3,50.9 L321.8,50.8 L322.3,50.8 L322.8,50.7 L323.3,50.6 L323.8,50.6" stroke="#3fe2e6" stroke-dasharray="3.8,2.4"/>
<path d="M58.8,36.5 L59.3,36.5 L59.8,36.5 L60.3,36.5 L60.8,36.5 L61.3,36.5 L61.8,36.5 L62.3,36.5 L62.8,36.5 L63.3,36.5 L63.8,36.5 L64.3,36.5 L64.8,36.5 L65.3,36.5 L65.8,36.5 L66.3,36.5 L66.8,36.5 L67.3,36.5 L67.8,36.5 L68.3,36.5 L68.8,36.5 L69.3,36.5 L69.8,36.5 L70.3,36.5 L70.8,36.5 L71.3,36.5 L71.8,36.5 L72.3,36.5 L72.8,36.5 L73.3,36.5 L73.8,36.5 L74.3,36.5 L74.8,36.5 L75.3,36.5 L75.8,36.5 L76.3,36.5 L76.8,36.5 L77.3,36.5 L77.8,36.5 L78.3,36.5 L78.8,36.5 L79.3,36.5 L79.8,36.5 L80.3,36.5 L80.8,36.5 L81.3,36.5 L81.8,36.5 L82.3,36.5 L82.8,36.5 L83.3,36.5 L83.8,36.5 L84.3,36.5 L84.8,36.5 L85.3,36.5 L85.8,36.5 L86.3,36.5 L86.8,36.5 L87.3,36.5 L87.8,36.5 L88.3,36.5 L88.8,36.5 L89.3,36.5 L89.8,36.5 L90.3,36.5 L90.8,36.5 L91.3,36.5 L91.8,36.5 L92.3,36.5 L92.8,36.5 L93.3,36.5 L93.8,36.5 L94.3,36.5 L94.8,36.5 L95.3,36.5 L95.8,36.5 L96.3,36.5 L96.8,36.5 L97.3,36.5 L97.8,36.5 L98.3,36.5 L98.8,36.5 L99.3,36.5 L99.8,36.5 L100.3,36.5 L100.8,36.5 L101.3,36.5 L101.8,36.5 L102.3,36.5 L102.8,36.5 L103.3,36.5 L103.8,36.5 L104.3,36.5 L104.8,36.5 L105.3,36.5 L105.8,36.5 L106.3,36.5 L106.8,36.5 L107.3,36.5 L107.8,36.5 L108.3,36.5 L108.8,36.5 L109.3,36.5 L109.8,36.5 L110.3,36.5 L110.8,36.5 L111.3,36.5 L111.8,36.5 L112.3,36.5 L112.8,36.5 L113.3,36.5 L113.8,36.5 L114.3,36.5 L114.8,36.5 L115.3,36.5 L115.8,36.5 L116.3,36.5 L116.8,36.5 L117.3,36.5 L117.8,36.5 L118.3,36.5 L118.8,36.5 L119.3,36.5 L119.8,36.4 L120.3,36.4 L120.8,36.4 L121.3,36.3 L121.8,36.3 L122.3,36.3 L122.8,36.3 L123.3,36.2 L123.8,36.2 L124.3,36.1 L124.8,36.1 L125.3,36.0 L125.8,36.0 L126.3,35.9 L126.8,35.8 L127.3,35.8 L127.8,35.7 L128.3,35.7 L128.8,35.6 L129.3,35.5 L129.8,35.5 L130.3,35.4 L130.8,35.4 L131.3,35.3 L131.8,35.2 L132.3,35.2 L132.8,35.2 L133.3,35.1 L133.8,35.1 L134.3,35.1 L134.8,35.1 L135.3,35.1 L135.8,35.1 L136.3,35.0 L136.8,35.0 L137.3,34.9 L137.8,34.9 L138.3,34.8 L138.8,34.7 L139.3,34.7 L139.8,34.6 L140.3,34.5 L140.8,34.5 L141.3,34.5 L141.8,34.5 L142.3,34.5 L142.8,34.5 L143.3,34.5 L143.8,34.5 L144.3,34.7 L144.8,34.9 L145.3,35.0 L145.8,35.2 L146.3,35.3 L146.8,35.5 L147.3,35.6 L147.8,35.8 L148.3,35.9 L148.8,36.1 L149.3,36.4 L149.8,36.6 L150.3,36.9 L150.8,37.1 L151.3,37.4 L151.8,37.6 L152.3,37.9 L152.8,38.1 L153.3,38.4 L153.8,38.6 L154.3,38.9 L154.8,39.1 L155.3,39.4 L155.8,39.6 L156.3,39.9 L156.8,40.2 L157.3,40.5 L157.8,40.8 L158.3,41.2 L158.8,41.5 L159.3,41.8 L159.8,42.2 L160.3,42.5 L160.8,42.9 L161.3,43.3 L161.8,43.8 L162.3,44.2 L162.8,44.8 L163.3,45.4 L163.8,45.9 L164.3,46.5 L164.8,47.2 L165.3,47.9 L165.8,48.7 L166.3,49.4 L166.8,50.2 L167.3,50.9 L167.8,51.7 L168.3,52.6 L168.8,53.5 L169.3,54.5 L169.8,55.5 L170.3,56.5 L170.8,57.5 L171.3,58.5 L171.8,59.5 L172.3,60.5 L172.8,61.7 L173.3,63.1 L173.8,64.5 L174.3,66.0 L174.8,67.4 L175.3,68.8 L175.8,70.3 L176.3,71.7 L176.8,73.1 L177.3,74.7 L177.8,76.4 L178.3,78.2 L178.8,79.9 L179.3,81.6 L179.8,83.4 L180.3,85.2 L180.8,87.0 L181.3,88.8 L181.8,90.7 L182.3,92.7 L182.8,94.8 L183.3,96.9 L183.8,98.9 L184.3,101.0 L184.8,103.1 L185.3,105.1 L185.8,107.2 L186.3,109.5 L186.8,111.7 L187.3,114.0 L187.8,116.3 L188.3,118.6 L188.8,120.8 L189.3,123.4 L189.8,126.0 L190.3,128.6 L190.8,131.3 L191.3,133.9 L191.8,136.5 L192.3,139.1 L192.8,141.4 L193.3,143.6 L193.8,145.8 L194.3,148.6 L194.8,151.6 L195.3,154.3 L195.8,156.9 L196.3,159.5 L196.8,162.0 L197.3,164.6 L197.8,167.1 L198.3,169.7 L198.8,169.6 L199.3,167.9 L199.8,166.1 L200.3,164.3 L200.8,162.5 L201.3,160.2 L201.8,157.7 L202.3,155.2 L202.8,152.4 L203.3,149.6 L203.8,147.8 L204.3,145.9 L204.8,144.1 L205.3,142.2 L205.8,140.4 L206.3,138.5 L206.8,136.8 L207.3,135.1 L207.8,133.3 L208.3,131.6 L208.8,129.9 L209.3,128.2 L209.8,126.8 L210.3,125.5 L210.8,124.1 L211.3,122.8 L211.8,121.5 L212.3,120.1 L212.8,118.8 L213.3,117.5 L213.8,116.2 L214.3,115.0 L214.8,113.8 L215.3,112.7 L215.8,111.7 L216.3,110.8 L216.8,109.8 L217.3,108.9 L217.8,107.9 L218.3,107.0 L218.8,106.1 L219.3,105.3 L219.8,104.4 L220.3,103.6 L220.8,102.7 L221.3,101.9 L221.8,101.0 L222.3,100.2 L222.8,99.4 L223.3,98.7 L223.8,98.0 L224.3,97.3 L224.8,96.7 L225.3,96.1 L225.8,95.6 L226.3,95.0 L226.8,94.4 L227.3,93.8 L227.8,93.3 L228.3,92.7 L228.8,92.1 L229.3,91.5 L229.8,91.0 L230.3,90.4 L230.8,89.8 L231.3,89.2 L231.8,88.6 L232.3,88.1 L232.8,87.6 L233.3,87.2 L233.8,86.8 L234.3,86.4 L234.8,86.1 L235.3,85.7 L235.8,85.3 L236.3,84.9 L236.8,84.5 L237.3,84.1 L237.8,83.7 L238.3,83.3 L238.8,83.0 L239.3,82.6 L239.8,82.2 L240.3,81.8 L240.8,81.4 L241.3,81.0 L241.8,80.6 L242.3,80.3 L242.8,79.9 L243.3,79.5 L243.8,79.1 L244.3,78.7 L244.8,78.4 L245.3,78.0 L245.8,77.7 L246.3,77.3 L246.8,77.0 L247.3,76.7 L247.8,76.3 L248.3,76.0 L248.8,75.6 L249.3,75.3 L249.8,75.0 L250.3,74.6 L250.8,74.3 L251.3,73.9 L251.8,73.6 L252.3,73.2 L252.8,72.9 L253.3,72.5 L253.8,72.2 L254.3,71.9 L254.8,71.5 L255.3,71.2 L255.8,70.8 L256.3,70.5 L256.8,70.2 L257.3,69.9 L257.8,69.6 L258.3,69.3 L258.8,69.0 L259.3,68.7 L259.8,68.4 L260.3,68.0 L260.8,67.7 L261.3,67.4 L261.8,67.1 L262.3,66.8 L262.8,66.5 L263.3,66.2 L263.8,65.8 L264.3,65.6 L264.8,65.3 L265.3,65.1 L265.8,64.8 L266.3,64.6 L266.8,64.4 L267.3,64.1 L267.8,63.9 L268.3,63.7 L268.8,63.4 L269.3,63.2 L269.8,63.0 L270.3,62.8 L270.8,62.5 L271.3,62.3 L271.8,62.1 L272.3,61.8 L272.8,61.6 L273.3,61.4 L273.8,61.2 L274.3,61.0 L274.8,60.8 L275.3,60.6 L275.8,60.4 L276.3,60.3 L276.8,60.1 L277.3,59.9 L277.8,59.7 L278.3,59.5 L278.8,59.4 L279.3,59.2 L279.8,59.0 L280.3,58.8 L280.8,58.6 L281.3,58.4 L281.8,58.2 L282.3,58.0 L282.8,57.8 L283.3,57.6 L283.8,57.4 L284.3,57.2 L284.8,57.1 L285.3,56.9 L285.8,56.7 L286.3,56.6 L286.8,56.4 L287.3,56.2 L287.8,56.1 L288.3,55.9 L288.8,55.8 L289.3,55.7 L289.8,55.5 L290.3,55.4 L290.8,55.3 L291.3,55.1 L291.8,55.0 L292.3,54.9 L292.8,54.7 L293.3,54.6 L293.8,54.5 L294.3,54.4 L294.8,54.3 L295.3,54.2 L295.8,54.1 L296.3,54.0 L296.8,53.9 L297.3,53.8 L297.8,53.7 L298.3,53.6 L298.8,53.5 L299.3,53.4 L299.8,53.4 L300.3,53.3 L300.8,53.2 L301.3,53.1 L301.8,53.0 L302.3,52.9 L302.8,52.8 L303.3,52.7 L303.8,52.7 L304.3,52.6 L304.8,52.5 L305.3,52.5 L305.8,52.4 L306.3,52.3 L306.8,52.2 L307.3,52.2 L307.8,52.1 L308.3,52.0 L308.8,51.9 L309.3,51.9 L309.8,51.8 L310.3,51.7 L310.8,51.7 L311.3,51.6 L311.8,51.5 L312.3,51.4 L312.8,51.4 L313.3,51.3 L313.8,51.3 L314.3,51.2 L314.8,51.2 L315.3,51.1 L315.8,51.1 L316.3,51.0 L316.8,51.0 L317.3,51.0 L317.8,50.9 L318.3,50.9 L318.8,50.8 L319.3,50.8 L319.8,50.7 L320.3,50.7 L320.8,50.6 L321.3,50.6 L321.8,50.5 L322.3,50.5 L322.8,50.4 L323.3,50.4 L323.8,50.3" stroke="#d836d8"/>
<path d="M58.8,36.5 L59.3,36.5 L59.8,36.5 L60.3,36.5 L60.8,36.5 L61.3,36.5 L61.8,36.5 L62.3,36.5 L62.8,36.5 L63.3,36.5 L63.8,36.5 L64.3,36.5 L64.8,36.5 L65.3,36.5 L65.8,36.5 L66.3,36.5 L66.8,36.5 L67.3,36.5 L67.8,36.5 L68.3,36.5 L68.8,36.5 L69.3,36.5 L69.8,36.5 L70.3,36.5 L70.8,36.5 L71.3,36.5 L71.8,36.5 L72.3,36.5 L72.8,36.5 L73.3,36.5 L73.8,36.5 L74.3,36.5 L74.8,36.5 L75.3,36.5 L75.8,36.5 L76.3,36.5 L76.8,36.5 L77.3,36.5 L77.8,36.5 L78.3,36.5 L78.8,36.5 L79.3,36.5 L79.8,36.5 L80.3,36.5 L80.8,36.5 L81.3,36.5 L81.8,36.5 L82.3,36.5 L82.8,36.5 L83.3,36.5 L83.8,36.5 L84.3,36.5 L84.8,36.5 L85.3,36.5 L85.8,36.5 L86.3,36.5 L86.8,36.5 L87.3,36.5 L87.8,36.5 L88.3,36.5 L88.8,36.5 L89.3,36.5 L89.8,36.5 L90.3,36.5 L90.8,36.5 L91.3,36.5 L91.8,36.5 L92.3,36.5 L92.8,36.5 L93.3,36.5 L93.8,36.5 L94.3,36.5 L94.8,36.5 L95.3,36.5 L95.8,36.5 L96.3,36.5 L96.8,36.5 L97.3,36.5 L97.8,36.5 L98.3,36.5 L98.8,36.5 L99.3,36.5 L99.8,36.5 L100.3,36.5 L100.8,36.5 L101.3,36.5 L101.8,36.5 L102.3,36.5 L102.8,36.5 L103.3,36.5 L103.8,36.5 L104.3,36.5 L104.8,36.5 L105.3,36.5 L105.8,36.5 L106.3,36.5 L106.8,36.5 L107.3,36.5 L107.8,36.5 L108.3,36.5 L108.8,36.5 L109.3,36.5 L109.8,36.5 L110.3,36.5 L110.8,36.5 L111.3,36.5 L111.8,36.5 L112.3,36.5 L112.8,36.5 L113.3,36.5 L113.8,36.5 L114.3,36.4 L114.8,36.4 L115.3,36.4 L115.8,36.3 L116.3,36.3 L116.8,36.3 L117.3,36.2 L117.8,36.2 L118.3,36.2 L118.8,36.1 L119.3,36.1 L119.8,36.0 L120.3,35.9 L120.8,35.9 L121.3,35.8 L121.8,35.8 L122.3,35.7 L122.8,35.7 L123.3,35.6 L123.8,35.5 L124.3,35.5 L124.8,35.4 L125.3,35.4 L125.8,35.3 L126.3,35.3 L126.8,35.2 L127.3,35.2 L127.8,35.2 L128.3,35.1 L128.8,35.1 L129.3,35.1 L129.8,35.1 L130.3,35.1 L130.8,35.1 L131.3,35.0 L131.8,35.0 L132.3,34.9 L132.8,34.9 L133.3,34.8 L133.8,34.8 L134.3,34.7 L134.8,34.7 L135.3,34.6 L135.8,34.6 L136.3,34.7 L136.8,34.7 L137.3,34.7 L137.8,34.7 L138.3,34.8 L138.8,34.9 L139.3,35.1 L139.8,35.2 L140.3,35.4 L140.8,35.5 L141.3,35.7 L141.8,35.8 L142.3,36.0 L142.8,36.2 L143.3,36.4 L143.8,36.6 L144.3,36.8 L144.8,37.1 L145.3,37.3 L145.8,37.6 L146.3,37.8 L146.8,38.0 L147.3,38.3 L147.8,38.5 L148.3,38.8 L148.8,39.0 L149.3,39.3 L149.8,39.5 L150.3,39.7 L150.8,40.0 L151.3,40.3 L151.8,40.6 L152.3,40.9 L152.8,41.3 L153.3,41.6 L153.8,41.9 L154.3,42.2 L154.8,42.6 L155.3,43.0 L155.8,43.4 L156.3,43.8 L156.8,44.3 L157.3,44.8 L157.8,45.4 L158.3,45.9 L158.8,46.5 L159.3,47.2 L159.8,47.9 L160.3,48.6 L160.8,49.3 L161.3,50.0 L161.8,50.8 L162.3,51.6 L162.8,52.4 L163.3,53.3 L163.8,54.2 L164.3,55.2 L164.8,56.2 L165.3,57.1 L165.8,58.1 L166.3,59.0 L166.8,60.0 L167.3,61.1 L167.8,62.5 L168.3,63.9 L168.8,65.3 L169.3,66.7 L169.8,68.0 L170.3,69.4 L170.8,70.8 L171.3,72.2 L171.8,73.7 L172.3,75.4 L172.8,77.1 L173.3,78.7 L173.8,80.5 L174.3,82.2 L174.8,83.9 L175.3,85.7 L175.8,87.4 L176.3,89.2 L176.8,91.2 L177.3,93.2 L177.8,95.1 L178.3,97.1 L178.8,99.1 L179.3,101.0 L179.8,102.9 L180.3,105.0 L180.8,107.2 L181.3,109.4 L181.8,111.6 L182.3,113.9 L182.8,116.1 L183.3,118.3 L183.8,120.8 L184.3,123.3 L184.8,125.8 L185.3,128.3 L185.8,130.8 L186.3,133.3 L186.8,135.9 L187.3,138.0 L187.8,140.1 L188.3,142.2 L188.8,144.7 L189.3,147.5 L189.8,150.0 L190.3,152.3 L190.8,154.6 L191.3,156.8 L191.8,159.1 L192.3,161.4 L192.8,163.7 L193.3,163.7 L193.8,162.1 L194.3,160.6 L194.8,159.1 L195.3,157.5 L195.8,155.7 L196.3,153.5 L196.8,151.4 L197.3,149.0 L197.8,146.5 L198.3,144.6 L198.8,142.9 L199.3,141.2 L199.8,139.6 L200.3,137.9 L200.8,136.2 L201.3,134.6 L201.8,133.0 L202.3,131.4 L202.8,129.9 L203.3,128.3 L203.8,126.8 L204.3,125.2 L204.8,123.9 L205.3,122.7 L205.8,121.5 L206.3,120.2 L206.8,119.0 L207.3,117.8 L207.8,116.6 L208.3,115.3 L208.8,114.1 L209.3,112.9 L209.8,111.9 L210.3,110.8 L210.8,109.8 L211.3,108.9 L211.8,108.0 L212.3,107.2 L212.8,106.3 L213.3,105.4 L213.8,104.5 L214.3,103.7 L214.8,103.0 L215.3,102.2 L215.8,101.4 L216.3,100.6 L216.8,99.8 L217.3,99.0 L217.8,98.2 L218.3,97.4 L218.8,96.8 L219.3,96.1 L219.8,95.5 L220.3,95.0 L220.8,94.4 L221.3,93.9 L221.8,93.3 L222.3,92.8 L222.8,92.3 L223.3,91.7 L223.8,91.2 L224.3,90.7 L224.8,90.1 L225.3,89.6 L225.8,89.1 L226.3,88.5 L226.8,88.0 L227.3,87.4 L227.8,86.9 L228.3,86.4 L228.8,85.9 L229.3,85.6 L229.8,85.2 L230.3,84.9 L230.8,84.5 L231.3,84.2 L231.8,83.8 L232.3,83.4 L232.8,83.1 L233.3,82.7 L233.8,82.4 L234.3,82.0 L234.8,81.7 L235.3,81.3 L235.8,81.0 L236.3,80.6 L236.8,80.2 L237.3,79.9 L237.8,79.5 L238.3,79.2 L238.8,78.8 L239.3,78.5 L239.8,78.1 L240.3,77.8 L240.8,77.4 L241.3,77.1 L241.8,76.7 L242.3,76.4 L242.8,76.1 L243.3,75.8 L243.8,75.5 L244.3,75.2 L244.8,74.9 L245.3,74.6 L245.8,74.3 L246.3,74.0 L246.8,73.7 L247.3,73.4 L247.8,73.1 L248.3,72.7 L248.8,72.4 L249.3,72.1 L249.8,71.8 L250.3,71.5 L250.8,71.2 L251.3,70.9 L251.8,70.6 L252.3,70.3 L252.8,70.0 L253.3,69.7 L253.8,69.4 L254.3,69.1 L254.8,68.8 L255.3,68.6 L255.8,68.3 L256.3,68.0 L256.8,67.7 L257.3,67.4 L257.8,67.1 L258.3,66.8 L258.8,66.5 L259.3,66.2 L259.8,65.9 L260.3,65.7 L260.8,65.4 L261.3,65.1 L261.8,64.8 L262.3,64.6 L262.8,64.4 L263.3,64.2 L263.8,63.9 L264.3,63.7 L264.8,63.5 L265.3,63.3 L265.8,63.1 L266.3,62.8 L266.8,62.6 L267.3,62.4 L267.8,62.2 L268.3,62.0 L268.8,61.8 L269.3,61.5 L269.8,61.3 L270.3,61.1 L270.8,60.9 L271.3,60.7 L271.8,60.5 L272.3,60.3 L272.8,60.1 L273.3,60.0 L273.8,59.8 L274.3,59.6 L274.8,59.5 L275.3,59.3 L275.8,59.1 L276.3,58.9 L276.8,58.8 L277.3,58.6 L277.8,58.4 L278.3,58.3 L278.8,58.1 L279.3,57.9 L279.8,57.7 L280.3,57.5 L280.8,57.3 L281.3,57.2 L281.8,57.0 L282.3,56.8 L282.8,56.6 L283.3,56.5 L283.8,56.3 L284.3,56.2 L284.8,56.0 L285.3,55.9 L285.8,55.7 L286.3,55.6 L286.8,55.4 L287.3,55.3 L287.8,55.2 L288.3,55.1 L288.8,54.9 L289.3,54.8 L289.8,54.7 L290.3,54.6 L290.8,54.4 L291.3,54.3 L291.8,54.2 L292.3,54.1 L292.8,54.0 L293.3,53.9 L293.8,53.8 L294.3,53.7 L294.8,53.6 L295.3,53.5 L295.8,53.4 L296.3,53.3 L296.8,53.3 L297.3,53.2 L297.8,53.1 L298.3,53.0 L298.8,52.9 L299.3,52.9 L299.8,52.8 L300.3,52.7 L300.8,52.6 L301.3,52.5 L301.8,52.4 L302.3,52.4 L302.8,52.3 L303.3,52.2 L303.8,52.2 L304.3,52.1 L304.8,52.0 L305.3,52.0 L305.8,51.9 L306.3,51.8 L306.8,51.8 L307.3,51.7 L307.8,51.6 L308.3,51.6 L308.8,51.5 L309.3,51.5 L309.8,51.4 L310.3,51.3 L310.8,51.3 L311.3,51.2 L311.8,51.1 L312.3,51.1 L312.8,51.0 L313.3,51.0 L313.8,50.9 L314.3,50.9 L314.8,50.9 L315.3,50.8 L315.8,50.8 L316.3,50.7 L316.8,50.7 L317.3,50.6 L317.8,50.6 L318.3,50.6 L318.8,50.5 L319.3,50.5 L319.8,50.4 L320.3,50.4 L320.8,50.3 L321.3,50.3 L321.8,50.3 L322.3,50.2 L322.8,50.2 L323.3,50.1 L323.8,50.1" stroke="#f2f040" stroke-dasharray="3.8,2.4"/>
<path d="M58.8,36.5 L59.3,36.5 L59.8,36.5 L60.3,36.5 L60.8,36.5 L61.3,36.5 L61.8,36.5 L62.3,36.5 L62.8,36.5 L63.3,36.5 L63.8,36.5 L64.3,36.5 L64.8,36.5 L65.3,36.5 L65.8,36.5 L66.3,36.5 L66.8,36.5 L67.3,36.5 L67.8,36.5 L68.3,36.5 L68.8,36.5 L69.3,36.5 L69.8,36.5 L70.3,36.5 L70.8,36.5 L71.3,36.5 L71.8,36.5 L72.3,36.5 L72.8,36.5 L73.3,36.5 L73.8,36.5 L74.3,36.5 L74.8,36.5 L75.3,36.5 L75.8,36.5 L76.3,36.5 L76.8,36.5 L77.3,36.5 L77.8,36.5 L78.3,36.5 L78.8,36.5 L79.3,36.5 L79.8,36.5 L80.3,36.5 L80.8,36.5 L81.3,36.5 L81.8,36.5 L82.3,36.5 L82.8,36.5 L83.3,36.5 L83.8,36.5 L84.3,36.5 L84.8,36.5 L85.3,36.5 L85.8,36.5 L86.3,36.5 L86.8,36.5 L87.3,36.5 L87.8,36.5 L88.3,36.5 L88.8,36.5 L89.3,36.5 L89.8,36.5 L90.3,36.5 L90.8,36.5 L91.3,36.5 L91.8,36.5 L92.3,36.5 L92.8,36.5 L93.3,36.5 L93.8,36.5 L94.3,36.5 L94.8,36.5 L95.3,36.5 L95.8,36.5 L96.3,36.5 L96.8,36.5 L97.3,36.5 L97.8,36.5 L98.3,36.5 L98.8,36.5 L99.3,36.5 L99.8,36.5 L100.3,36.5 L100.8,36.5 L101.3,36.5 L101.8,36.5 L102.3,36.5 L102.8,36.5 L103.3,36.5 L103.8,36.5 L104.3,36.5 L104.8,36.5 L105.3,36.5 L105.8,36.5 L106.3,36.5 L106.8,36.5 L107.3,36.5 L107.8,36.5 L108.3,36.5 L108.8,36.5 L109.3,36.4 L109.8,36.4 L110.3,36.4 L110.8,36.3 L111.3,36.3 L111.8,36.3 L112.3,36.3 L112.8,36.2 L113.3,36.2 L113.8,36.1 L114.3,36.1 L114.8,36.0 L115.3,36.0 L115.8,35.9 L116.3,35.9 L116.8,35.8 L117.3,35.7 L117.8,35.7 L118.3,35.6 L118.8,35.6 L119.3,35.5 L119.8,35.5 L120.3,35.4 L120.8,35.3 L121.3,35.3 L121.8,35.2 L122.3,35.2 L122.8,35.2 L123.3,35.1 L123.8,35.1 L124.3,35.1 L124.8,35.1 L125.3,35.1 L125.8,35.1 L126.3,35.1 L126.8,35.1 L127.3,35.1 L127.8,35.0 L128.3,35.0 L128.8,34.9 L129.3,34.9 L129.8,34.8 L130.3,34.8 L130.8,34.8 L131.3,34.8 L131.8,34.9 L132.3,34.9 L132.8,34.9 L133.3,35.0 L133.8,35.1 L134.3,35.2 L134.8,35.4 L135.3,35.5 L135.8,35.7 L136.3,35.8 L136.8,36.0 L137.3,36.1 L137.8,36.3 L138.3,36.4 L138.8,36.6 L139.3,36.9 L139.8,37.1 L140.3,37.4 L140.8,37.6 L141.3,37.8 L141.8,38.1 L142.3,38.3 L142.8,38.5 L143.3,38.8 L143.8,39.0 L144.3,39.2 L144.8,39.5 L145.3,39.7 L145.8,40.0 L146.3,40.2 L146.8,40.5 L147.3,40.8 L147.8,41.1 L148.3,41.5 L148.8,41.8 L149.3,42.1 L149.8,42.5 L150.3,42.8 L150.8,43.2 L151.3,43.6 L151.8,44.0 L152.3,44.5 L152.8,45.0 L153.3,45.6 L153.8,46.1 L154.3,46.7 L154.8,47.4 L155.3,48.1 L155.8,48.8 L156.3,49.5 L156.8,50.2 L157.3,50.9 L157.8,51.7 L158.3,52.5 L158.8,53.4 L159.3,54.3 L159.8,55.2 L160.3,56.1 L160.8,57.1 L161.3,58.0 L161.8,58.9 L162.3,59.8 L162.8,61.0 L163.3,62.3 L163.8,63.7 L164.3,65.0 L164.8,66.3 L165.3,67.7 L165.8,69.0 L166.3,70.4 L166.8,71.7 L167.3,73.2 L167.8,74.9 L168.3,76.5 L168.8,78.2 L169.3,79.9 L169.8,81.6 L170.3,83.3 L170.8,85.0 L171.3,86.7 L171.8,88.5 L172.3,90.4 L172.8,92.2 L173.3,94.1 L173.8,96.0 L174.3,97.9 L174.8,99.7 L175.3,101.6 L175.8,103.6 L176.3,105.8 L176.8,108.0 L177.3,110.2 L177.8,112.3 L178.3,114.5 L178.8,116.7 L179.3,119.1 L179.8,121.6 L180.3,124.0 L180.8,126.4 L181.3,128.8 L181.8,131.3 L182.3,133.7 L182.8,135.7 L183.3,137.7 L183.8,139.6 L184.3,141.9 L184.8,144.5 L185.3,146.7 L185.8,148.6 L186.3,150.6 L186.8,152.5 L187.3,154.5 L187.8,156.5 L188.3,158.4 L188.8,158.4 L189.3,157.1 L189.8,155.8 L190.3,154.5 L190.8,153.2 L191.3,151.7 L191.8,149.9 L192.3,148.1 L192.8,146.2 L193.3,144.0 L193.8,142.0 L194.3,140.5 L194.8,139.0 L195.3,137.5 L195.8,136.0 L196.3,134.5 L196.8,132.9 L197.3,131.5 L197.8,130.0 L198.3,128.6 L198.8,127.2 L199.3,125.7 L199.8,124.3 L200.3,122.9 L200.8,121.8 L201.3,120.6 L201.8,119.4 L202.3,118.3 L202.8,117.1 L203.3,115.9 L203.8,114.8 L204.3,113.6 L204.8,112.5 L205.3,111.3 L205.8,110.3 L206.3,109.3 L206.8,108.3 L207.3,107.5 L207.8,106.6 L208.3,105.8 L208.8,105.0 L209.3,104.1 L209.8,103.3 L210.3,102.5 L210.8,101.8 L211.3,101.0 L211.8,100.2 L212.3,99.5 L212.8,98.7 L213.3,98.0 L213.8,97.2 L214.3,96.4 L214.8,95.7 L215.3,95.1 L215.8,94.5 L216.3,94.0 L216.8,93.4 L217.3,92.9 L217.8,92.4 L218.3,91.9 L218.8,91.4 L219.3,90.9 L219.8,90.4 L220.3,89.9 L220.8,89.4 L221.3,88.9 L221.8,88.4 L222.3,87.8 L222.8,87.3 L223.3,86.8 L223.8,86.3 L224.3,85.8 L224.8,85.3 L225.3,84.8 L225.8,84.5 L226.3,84.1 L226.8,83.8 L227.3,83.5 L227.8,83.1 L228.3,82.8 L228.8,82.5 L229.3,82.1 L229.8,81.8 L230.3,81.5 L230.8,81.1 L231.3,80.8 L231.8,80.5 L232.3,80.1 L232.8,79.8 L233.3,79.5 L233.8,79.1 L234.3,78.8 L234.8,78.5 L235.3,78.1 L235.8,77.8 L236.3,77.5 L236.8,77.1 L237.3,76.8 L237.8,76.5 L238.3,76.2 L238.8,75.8 L239.3,75.5 L239.8,75.3 L240.3,75.0 L240.8,74.7 L241.3,74.4 L241.8,74.2 L242.3,73.9 L242.8,73.6 L243.3,73.3 L243.8,73.0 L244.3,72.7 L244.8,72.5 L245.3,72.2 L245.8,71.9 L246.3,71.6 L246.8,71.3 L247.3,71.0 L247.8,70.8 L248.3,70.5 L248.8,70.2 L249.3,69.9 L249.8,69.6 L250.3,69.3 L250.8,69.1 L251.3,68.8 L251.8,68.6 L252.3,68.3 L252.8,68.1 L253.3,67.8 L253.8,67.5 L254.3,67.2 L254.8,67.0 L255.3,66.7 L255.8,66.4 L256.3,66.1 L256.8,65.9 L257.3,65.6 L257.8,65.3 L258.3,65.1 L258.8,64.8 L259.3,64.5 L259.8,64.3 L260.3,64.1 L260.8,63.9 L261.3,63.6 L261.8,63.4 L262.3,63.2 L262.8,63.0 L263.3,62.8 L263.8,62.6 L264.3,62.4 L264.8,62.2 L265.3,62.0 L265.8,61.7 L266.3,61.5 L266.8,61.3 L267.3,61.1 L267.8,60.9 L268.3,60.7 L268.8,60.5 L269.3,60.3 L269.8,60.1 L270.3,59.9 L270.8,59.7 L271.3,59.6 L271.8,59.4 L272.3,59.2 L272.8,59.1 L273.3,58.9 L273.8,58.7 L274.3,58.6 L274.8,58.4 L275.3,58.2 L275.8,58.1 L276.3,57.9 L276.8,57.7 L277.3,57.6 L277.8,57.4 L278.3,57.2 L278.8,57.0 L279.3,56.8 L279.8,56.7 L280.3,56.5 L280.8,56.3 L281.3,56.2 L281.8,56.0 L282.3,55.9 L282.8,55.7 L283.3,55.6 L283.8,55.4 L284.3,55.3 L284.8,55.2 L285.3,55.0 L285.8,54.9 L286.3,54.8 L286.8,54.7 L287.3,54.6 L287.8,54.4 L288.3,54.3 L288.8,54.2 L289.3,54.1 L289.8,54.0 L290.3,53.8 L290.8,53.7 L291.3,53.6 L291.8,53.5 L292.3,53.4 L292.8,53.3 L293.3,53.2 L293.8,53.2 L294.3,53.1 L294.8,53.0 L295.3,52.9 L295.8,52.9 L296.3,52.8 L296.8,52.7 L297.3,52.6 L297.8,52.5 L298.3,52.5 L298.8,52.4 L299.3,52.3 L299.8,52.2 L300.3,52.2 L300.8,52.1 L301.3,52.0 L301.8,51.9 L302.3,51.9 L302.8,51.8 L303.3,51.8 L303.8,51.7 L304.3,51.6 L304.8,51.6 L305.3,51.5 L305.8,51.5 L306.3,51.4 L306.8,51.3 L307.3,51.3 L307.8,51.2 L308.3,51.2 L308.8,51.1 L309.3,51.0 L309.8,51.0 L310.3,50.9 L310.8,50.9 L311.3,50.8 L311.8,50.8 L312.3,50.7 L312.8,50.7 L313.3,50.7 L313.8,50.6 L314.3,50.6 L314.8,50.5 L315.3,50.5 L315.8,50.5 L316.3,50.4 L316.8,50.4 L317.3,50.3 L317.8,50.3 L318.3,50.3 L318.8,50.2 L319.3,50.2 L319.8,50.2 L320.3,50.1 L320.8,50.1 L321.3,50.0 L321.8,50.0 L322.3,50.0 L322.8,49.9 L323.3,49.9 L323.8,49.8" stroke="#8a8a1c"/>
<path d="M58.8,36.5 L59.3,36.5 L59.8,36.5 L60.3,36.5 L60.8,36.5 L61.3,36.5 L61.8,36.5 L62.3,36.5 L62.8,36.5 L63.3,36.5 L63.8,36.5 L64.3,36.5 L64.8,36.5 L65.3,36.5 L65.8,36.5 L66.3,36.5 L66.8,36.5 L67.3,36.5 L67.8,36.5 L68.3,36.5 L68.8,36.5 L69.3,36.5 L69.8,36.5 L70.3,36.5 L70.8,36.5 L71.3,36.5 L71.8,36.5 L72.3,36.5 L72.8,36.5 L73.3,36.5 L73.8,36.5 L74.3,36.5 L74.8,36.5 L75.3,36.5 L75.8,36.5 L76.3,36.5 L76.8,36.5 L77.3,36.5 L77.8,36.5 L78.3,36.5 L78.8,36.5 L79.3,36.5 L79.8,36.5 L80.3,36.5 L80.8,36.5 L81.3,36.5 L81.8,36.5 L82.3,36.5 L82.8,36.5 L83.3,36.5 L83.8,36.5 L84.3,36.5 L84.8,36.5 L85.3,36.5 L85.8,36.5 L86.3,36.5 L86.8,36.5 L87.3,36.5 L87.8,36.5 L88.3,36.5 L88.8,36.5 L89.3,36.5 L89.8,36.5 L90.3,36.5 L90.8,36.5 L91.3,36.5 L91.8,36.5 L92.3,36.5 L92.8,36.5 L93.3,36.5 L93.8,36.5 L94.3,36.5 L94.8,36.5 L95.3,36.5 L95.8,36.5 L96.3,36.5 L96.8,36.5 L97.3,36.5 L97.8,36.5 L98.3,36.5 L98.8,36.5 L99.3,36.5 L99.8,36.5 L100.3,36.5 L100.8,36.5 L101.3,36.5 L101.8,36.5 L102.3,36.5 L102.8,36.5 L103.3,36.5 L103.8,36.5 L104.3,36.4 L104.8,36.4 L105.3,36.4 L105.8,36.3 L106.3,36.3 L106.8,36.3 L107.3,36.2 L107.8,36.2 L108.3,36.2 L108.8,36.1 L109.3,36.0 L109.8,36.0 L110.3,35.9 L110.8,35.9 L111.3,35.8 L111.8,35.8 L112.3,35.7 L112.8,35.7 L113.3,35.6 L113.8,35.5 L114.3,35.5 L114.8,35.4 L115.3,35.4 L115.8,35.3 L116.3,35.3 L116.8,35.2 L117.3,35.2 L117.8,35.1 L118.3,35.1 L118.8,35.1 L119.3,35.1 L119.8,35.1 L120.3,35.1 L120.8,35.1 L121.3,35.1 L121.8,35.1 L122.3,35.1 L122.8,35.1 L123.3,35.0 L123.8,35.0 L124.3,35.0 L124.8,35.0 L125.3,34.9 L125.8,35.0 L126.3,35.0 L126.8,35.1 L127.3,35.1 L127.8,35.2 L128.3,35.2 L128.8,35.3 L129.3,35.5 L129.8,35.6 L130.3,35.8 L130.8,35.9 L131.3,36.1 L131.8,36.3 L132.3,36.4 L132.8,36.6 L133.3,36.7 L133.8,36.9 L134.3,37.1 L134.8,37.4 L135.3,37.6 L135.8,37.8 L136.3,38.1 L136.8,38.3 L137.3,38.5 L137.8,38.8 L138.3,39.0 L138.8,39.2 L139.3,39.5 L139.8,39.7 L140.3,39.9 L140.8,40.2 L141.3,40.4 L141.8,40.7 L142.3,41.0 L142.8,41.4 L143.3,41.7 L143.8,42.0 L144.3,42.4 L144.8,42.7 L145.3,43.1 L145.8,43.4 L146.3,43.8 L146.8,44.3 L147.3,44.7 L147.8,45.2 L148.3,45.8 L148.8,46.4 L149.3,47.0 L149.8,47.6 L150.3,48.3 L150.8,49.0 L151.3,49.7 L151.8,50.3 L152.3,51.0 L152.8,51.8 L153.3,52.6 L153.8,53.5 L154.3,54.4 L154.8,55.3 L155.3,56.2 L155.8,57.1 L156.3,58.0 L156.8,58.9 L157.3,59.8 L157.8,60.9 L158.3,62.2 L158.8,63.5 L159.3,64.8 L159.8,66.1 L160.3,67.5 L160.8,68.8 L161.3,70.1 L161.8,71.4 L162.3,72.8 L162.8,74.5 L163.3,76.1 L163.8,77.8 L164.3,79.5 L164.8,81.1 L165.3,82.8 L165.8,84.5 L166.3,86.2 L166.8,87.9 L167.3,89.7 L167.8,91.5 L168.3,93.3 L168.8,95.1 L169.3,96.9 L169.8,98.7 L170.3,100.5 L170.8,102.5 L171.3,104.7 L171.8,106.8 L172.3,109.0 L172.8,111.2 L173.3,113.3 L173.8,115.5 L174.3,117.8 L174.8,120.2 L175.3,122.6 L175.8,124.9 L176.3,127.3 L176.8,129.7 L177.3,132.0 L177.8,134.0 L178.3,135.8 L178.8,137.6 L179.3,139.7 L179.8,142.0 L180.3,143.9 L180.8,145.6 L181.3,147.3 L181.8,148.9 L182.3,150.6 L182.8,152.3 L183.3,153.9 L183.8,153.9 L184.3,152.8 L184.8,151.7 L185.3,150.6 L185.8,149.5 L186.3,148.4 L186.8,146.9 L187.3,145.4 L187.8,143.9 L188.3,142.0 L188.8,140.0 L189.3,138.6 L189.8,137.3 L190.3,135.9 L190.8,134.5 L191.3,133.1 L191.8,131.7 L192.3,130.3 L192.8,129.0 L193.3,127.7 L193.8,126.4 L194.3,125.1 L194.8,123.8 L195.3,122.5 L195.8,121.2 L196.3,120.1 L196.8,119.0 L197.3,117.9 L197.8,116.8 L198.3,115.7 L198.8,114.6 L199.3,113.5 L199.8,112.4 L200.3,111.3 L200.8,110.2 L201.3,109.2 L201.8,108.2 L202.3,107.2 L202.8,106.4 L203.3,105.6 L203.8,104.8 L204.3,104.0 L204.8,103.2 L205.3,102.4 L205.8,101.7 L206.3,100.9 L206.8,100.2 L207.3,99.5 L207.8,98.8 L208.3,98.0 L208.8,97.3 L209.3,96.6 L209.8,95.8 L210.3,95.1 L210.8,94.4 L211.3,93.9 L211.8,93.3 L212.3,92.8 L212.8,92.3 L213.3,91.8 L213.8,91.3 L214.3,90.9 L214.8,90.4 L215.3,89.9 L215.8,89.4 L216.3,88.9 L216.8,88.4 L217.3,87.9 L217.8,87.5 L218.3,87.0 L218.8,86.5 L219.3,86.0 L219.8,85.5 L220.3,85.0 L220.8,84.5 L221.3,84.1 L221.8,83.6 L222.3,83.3 L222.8,83.0 L223.3,82.7 L223.8,82.4 L224.3,82.1 L224.8,81.7 L225.3,81.4 L225.8,81.1 L226.3,80.8 L226.8,80.5 L227.3,80.2 L227.8,79.9 L228.3,79.6 L228.8,79.2 L229.3,78.9 L229.8,78.6 L230.3,78.3 L230.8,78.0 L231.3,77.7 L231.8,77.4 L232.3,77.1 L232.8,76.8 L233.3,76.4 L233.8,76.1 L234.3,75.8 L234.8,75.5 L235.3,75.2 L235.8,74.9 L236.3,74.7 L236.8,74.4 L237.3,74.1 L237.8,73.9 L238.3,73.6 L238.8,73.4 L239.3,73.1 L239.8,72.9 L240.3,72.6 L240.8,72.3 L241.3,72.1 L241.8,71.8 L242.3,71.6 L242.8,71.3 L243.3,71.1 L243.8,70.8 L244.3,70.5 L244.8,70.3 L245.3,70.0 L245.8,69.8 L246.3,69.5 L246.8,69.2 L247.3,69.0 L247.8,68.7 L248.3,68.5 L248.8,68.3 L249.3,68.0 L249.8,67.8 L250.3,67.5 L250.8,67.3 L251.3,67.0 L251.8,66.8 L252.3,66.5 L252.8,66.2 L253.3,66.0 L253.8,65.7 L254.3,65.5 L254.8,65.2 L255.3,65.0 L255.8,64.7 L256.3,64.4 L256.8,64.2 L257.3,64.0 L257.8,63.8 L258.3,63.5 L258.8,63.3 L259.3,63.1 L259.8,62.9 L260.3,62.7 L260.8,62.5 L261.3,62.3 L261.8,62.1 L262.3,61.9 L262.8,61.7 L263.3,61.5 L263.8,61.3 L264.3,61.1 L264.8,60.9 L265.3,60.7 L265.8,60.5 L266.3,60.3 L266.8,60.1 L267.3,59.9 L267.8,59.7 L268.3,59.5 L268.8,59.3 L269.3,59.2 L269.8,59.0 L270.3,58.8 L270.8,58.7 L271.3,58.5 L271.8,58.4 L272.3,58.2 L272.8,58.0 L273.3,57.9 L273.8,57.7 L274.3,57.5 L274.8,57.4 L275.3,57.2 L275.8,57.0 L276.3,56.9 L276.8,56.7 L277.3,56.5 L277.8,56.4 L278.3,56.2 L278.8,56.0 L279.3,55.9 L279.8,55.7 L280.3,55.6 L280.8,55.5 L281.3,55.3 L281.8,55.2 L282.3,55.1 L282.8,54.9 L283.3,54.8 L283.8,54.7 L284.3,54.5 L284.8,54.4 L285.3,54.3 L285.8,54.2 L286.3,54.1 L286.8,54.0 L287.3,53.9 L287.8,53.7 L288.3,53.6 L288.8,53.5 L289.3,53.4 L289.8,53.3 L290.3,53.2 L290.8,53.1 L291.3,53.0 L291.8,52.9 L292.3,52.9 L292.8,52.8 L293.3,52.7 L293.8,52.6 L294.3,52.6 L294.8,52.5 L295.3,52.4 L295.8,52.3 L296.3,52.3 L296.8,52.2 L297.3,52.1 L297.8,52.0 L298.3,52.0 L298.8,51.9 L299.3,51.8 L299.8,51.8 L300.3,51.7 L300.8,51.6 L301.3,51.6 L301.8,51.5 L302.3,51.5 L302.8,51.4 L303.3,51.4 L303.8,51.3 L304.3,51.2 L304.8,51.2 L305.3,51.1 L305.8,51.1 L306.3,51.0 L306.8,51.0 L307.3,50.9 L307.8,50.9 L308.3,50.8 L308.8,50.7 L309.3,50.7 L309.8,50.6 L310.3,50.6 L310.8,50.5 L311.3,50.5 L311.8,50.5 L312.3,50.4 L312.8,50.4 L313.3,50.4 L313.8,50.3 L314.3,50.3 L314.8,50.3 L315.3,50.2 L315.8,50.2 L316.3,50.1 L316.8,50.1 L317.3,50.1 L317.8,50.0 L318.3,50.0 L318.8,50.0 L319.3,49.9 L319.8,49.9 L320.3,49.9 L320.8,49.8 L321.3,49.8 L321.8,49.8 L322.3,49.7 L322.8,49.7 L323.3,49.7 L323.8,49.6" stroke="#1c1c80" stroke-dasharray="3.8,2.4"/>
<path d="M58.8,36.5 L59.3,36.5 L59.8,36.5 L60.3,36.5 L60.8,36.5 L61.3,36.5 L61.8,36.5 L62.3,36.5 L62.8,36.5 L63.3,36.5 L63.8,36.5 L64.3,36.5 L64.8,36.5 L65.3,36.5 L65.8,36.5 L66.3,36.5 L66.8,36.5 L67.3,36.5 L67.8,36.5 L68.3,36.5 L68.8,36.5 L69.3,36.5 L69.8,36.5 L70.3,36.5 L70.8,36.5 L71.3,36.5 L71.8,36.5 L72.3,36.5 L72.8,36.5 L73.3,36.5 L73.8,36.5 L74.3,36.5 L74.8,36.5 L75.3,36.5 L75.8,36.5 L76.3,36.5 L76.8,36.5 L77.3,36.5 L77.8,36.5 L78.3,36.5 L78.8,36.5 L79.3,36.5 L79.8,36.5 L80.3,36.5 L80.8,36.5 L81.3,36.5 L81.8,36.5 L82.3,36.5 L82.8,36.5 L83.3,36.5 L83.8,36.5 L84.3,36.5 L84.8,36.5 L85.3,36.5 L85.8,36.5 L86.3,36.5 L86.8,36.5 L87.3,36.5 L87.8,36.5 L88.3,36.5 L88.8,36.5 L89.3,36.5 L89.8,36.5 L90.3,36.5 L90.8,36.5 L91.3,36.5 L91.8,36.5 L92.3,36.5 L92.8,36.5 L93.3,36.5 L93.8,36.5 L94.3,36.5 L94.8,36.5 L95.3,36.5 L95.8,36.5 L96.3,36.4 L96.8,36.4 L97.3,36.3 L97.8,36.3 L98.3,36.3 L98.8,36.2 L99.3,36.2 L99.8,36.1 L100.3,36.1 L100.8,36.0 L101.3,36.0 L101.8,35.9 L102.3,35.9 L102.8,35.8 L103.3,35.8 L103.8,35.7 L104.3,35.7 L104.8,35.6 L105.3,35.5 L105.8,35.5 L106.3,35.4 L106.8,35.4 L107.3,35.3 L107.8,35.3 L108.3,35.2 L108.8,35.1 L109.3,35.1 L109.8,35.1 L110.3,35.1 L110.8,35.1 L111.3,35.1 L111.8,35.1 L112.3,35.1 L112.8,35.1 L113.3,35.1 L113.8,35.1 L114.3,35.1 L114.8,35.1 L115.3,35.1 L115.8,35.1 L116.3,35.0 L116.8,35.0 L117.3,35.0 L117.8,35.1 L118.3,35.1 L118.8,35.2 L119.3,35.3 L119.8,35.4 L120.3,35.5 L120.8,35.6 L121.3,35.7 L121.8,35.9 L122.3,36.1 L122.8,36.2 L123.3,36.4 L123.8,36.5 L124.3,36.7 L124.8,36.8 L125.3,37.0 L125.8,37.2 L126.3,37.4 L126.8,37.7 L127.3,37.9 L127.8,38.2 L128.3,38.4 L128.8,38.6 L129.3,38.9 L129.8,39.1 L130.3,39.3 L130.8,39.6 L131.3,39.8 L131.8,40.0 L132.3,40.3 L132.8,40.5 L133.3,40.7 L133.8,41.1 L134.3,41.4 L134.8,41.8 L135.3,42.1 L135.8,42.5 L136.3,42.8 L136.8,43.2 L137.3,43.5 L137.8,43.9 L138.3,44.4 L138.8,44.8 L139.3,45.2 L139.8,45.8 L140.3,46.4 L140.8,47.0 L141.3,47.6 L141.8,48.3 L142.3,49.0 L142.8,49.6 L143.3,50.3 L143.8,51.0 L144.3,51.8 L144.8,52.6 L145.3,53.4 L145.8,54.3 L146.3,55.2 L146.8,56.1 L147.3,57.0 L147.8,57.9 L148.3,58.8 L148.8,59.7 L149.3,60.6 L149.8,61.8 L150.3,63.1 L150.8,64.4 L151.3,65.7 L151.8,67.0 L152.3,68.4 L152.8,69.7 L153.3,71.0 L153.8,72.3 L154.3,73.8 L154.8,75.5 L155.3,77.2 L155.8,78.9 L156.3,80.6 L156.8,82.3 L157.3,84.0 L157.8,85.7 L158.3,87.4 L158.8,89.2 L159.3,91.0 L159.8,92.8 L160.3,94.5 L160.8,96.3 L161.3,98.1 L161.8,99.9 L162.3,101.6 L162.8,103.7 L163.3,105.9 L163.8,108.2 L164.3,110.4 L164.8,112.6 L165.3,114.8 L165.8,117.0 L166.3,119.4 L166.8,121.7 L167.3,124.1 L167.8,126.5 L168.3,128.8 L168.8,131.2 L169.3,133.5 L169.8,135.3 L170.3,137.1 L170.8,138.8 L171.3,140.9 L171.8,143.0 L172.3,144.6 L172.8,146.1 L173.3,147.5 L173.8,148.9 L174.3,150.3 L174.8,151.8 L175.3,153.2 L175.8,152.8 L176.3,151.8 L176.8,150.9 L177.3,150.0 L177.8,149.0 L178.3,148.1 L178.8,146.8 L179.3,145.6 L179.8,144.4 L180.3,142.8 L180.8,141.1 L181.3,139.6 L181.8,138.4 L182.3,137.1 L182.8,135.8 L183.3,134.5 L183.8,133.3 L184.3,132.0 L184.8,130.7 L185.3,129.5 L185.8,128.2 L186.3,127.0 L186.8,125.8 L187.3,124.6 L187.8,123.4 L188.3,122.2 L188.8,121.1 L189.3,120.1 L189.8,119.0 L190.3,117.9 L190.8,116.9 L191.3,115.8 L191.8,114.8 L192.3,113.7 L192.8,112.7 L193.3,111.6 L193.8,110.6 L194.3,109.6 L194.8,108.6 L195.3,107.7 L195.8,106.9 L196.3,106.2 L196.8,105.4 L197.3,104.6 L197.8,103.9 L198.3,103.1 L198.8,102.4 L199.3,101.7 L199.8,101.0 L200.3,100.3 L200.8,99.5 L201.3,98.8 L201.8,98.1 L202.3,97.4 L202.8,96.7 L203.3,96.0 L203.8,95.3 L204.3,94.7 L204.8,94.1 L205.3,93.6 L205.8,93.1 L206.3,92.6 L206.8,92.2 L207.3,91.7 L207.8,91.2 L208.3,90.8 L208.8,90.3 L209.3,89.8 L209.8,89.4 L210.3,88.9 L210.8,88.4 L211.3,88.0 L211.8,87.5 L212.3,87.0 L212.8,86.6 L213.3,86.1 L213.8,85.6 L214.3,85.2 L214.8,84.7 L215.3,84.2 L215.8,83.8 L216.3,83.5 L216.8,83.2 L217.3,82.9 L217.8,82.6 L218.3,82.3 L218.8,82.0 L219.3,81.7 L219.8,81.4 L220.3,81.1 L220.8,80.8 L221.3,80.5 L221.8,80.2 L222.3,79.9 L222.8,79.6 L223.3,79.3 L223.8,79.0 L224.3,78.7 L224.8,78.4 L225.3,78.1 L225.8,77.8 L226.3,77.5 L226.8,77.2 L227.3,77.0 L227.8,76.7 L228.3,76.4 L228.8,76.1 L229.3,75.8 L229.8,75.5 L230.3,75.2 L230.8,74.9 L231.3,74.7 L231.8,74.4 L232.3,74.2 L232.8,74.0 L233.3,73.7 L233.8,73.5 L234.3,73.3 L234.8,73.0 L235.3,72.8 L235.8,72.5 L236.3,72.3 L236.8,72.1 L237.3,71.8 L237.8,71.6 L238.3,71.3 L238.8,71.1 L239.3,70.9 L239.8,70.6 L240.3,70.4 L240.8,70.1 L241.3,69.9 L241.8,69.7 L242.3,69.4 L242.8,69.2 L243.3,68.9 L243.8,68.7 L244.3,68.5 L244.8,68.3 L245.3,68.1 L245.8,67.8 L246.3,67.6 L246.8,67.3 L247.3,67.1 L247.8,66.8 L248.3,66.6 L248.8,66.4 L249.3,66.1 L249.8,65.9 L250.3,65.6 L250.8,65.4 L251.3,65.1 L251.8,64.9 L252.3,64.7 L252.8,64.4 L253.3,64.2 L253.8,64.0 L254.3,63.8 L254.8,63.5 L255.3,63.3 L255.8,63.2 L256.3,63.0 L256.8,62.8 L257.3,62.6 L257.8,62.4 L258.3,62.2 L258.8,62.0 L259.3,61.8 L259.8,61.6 L260.3,61.4 L260.8,61.2 L261.3,61.0 L261.8,60.8 L262.3,60.6 L262.8,60.4 L263.3,60.2 L263.8,60.0 L264.3,59.8 L264.8,59.6 L265.3,59.4 L265.8,59.2 L266.3,59.1 L266.8,58.9 L267.3,58.8 L267.8,58.6 L268.3,58.5 L268.8,58.3 L269.3,58.1 L269.8,58.0 L270.3,57.8 L270.8,57.7 L271.3,57.5 L271.8,57.3 L272.3,57.2 L272.8,57.0 L273.3,56.9 L273.8,56.7 L274.3,56.5 L274.8,56.4 L275.3,56.2 L275.8,56.0 L276.3,55.9 L276.8,55.7 L277.3,55.6 L277.8,55.4 L278.3,55.3 L278.8,55.2 L279.3,55.1 L279.8,54.9 L280.3,54.8 L280.8,54.7 L281.3,54.6 L281.8,54.4 L282.3,54.3 L282.8,54.2 L283.3,54.1 L283.8,54.0 L284.3,53.9 L284.8,53.8 L285.3,53.7 L285.8,53.5 L286.3,53.4 L286.8,53.3 L287.3,53.2 L287.8,53.1 L288.3,53.0 L288.8,52.9 L289.3,52.9 L289.8,52.8 L290.3,52.7 L290.8,52.6 L291.3,52.6 L291.8,52.5 L292.3,52.4 L292.8,52.3 L293.3,52.3 L293.8,52.2 L294.3,52.1 L294.8,52.1 L295.3,52.0 L295.8,51.9 L296.3,51.9 L296.8,51.8 L297.3,51.7 L297.8,51.7 L298.3,51.6 L298.8,51.5 L299.3,51.5 L299.8,51.4 L300.3,51.4 L300.8,51.3 L301.3,51.3 L301.8,51.2 L302.3,51.1 L302.8,51.1 L303.3,51.0 L303.8,51.0 L304.3,50.9 L304.8,50.9 L305.3,50.8 L305.8,50.8 L306.3,50.7 L306.8,50.7 L307.3,50.6 L307.8,50.6 L308.3,50.5 L308.8,50.5 L309.3,50.4 L309.8,50.4 L310.3,50.3 L310.8,50.3 L311.3,50.3 L311.8,50.3 L312.3,50.2 L312.8,50.2 L313.3,50.2 L313.8,50.1 L314.3,50.1 L314.8,50.1 L315.3,50.0 L315.8,50.0 L316.3,50.0 L316.8,49.9 L317.3,49.9 L317.8,49.9 L318.3,49.8 L318.8,49.8 L319.3,49.8 L319.8,49.8 L320.3,49.7 L320.8,49.7 L321.3,49.7 L321.8,49.6 L322.3,49.6 L322.8,49.6 L323.3,49.5 L323.8,49.5" stroke="#8a1c8a"/>
<path d="M58.8,36.5 L59.3,36.5 L59.8,36.5 L60.3,36.5 L60.8,36.5 L61.3,36.5 L61.8,36.5 L62.3,36.5 L62.8,36.5 L63.3,36.5 L63.8,36.5 L64.3,36.5 L64.8,36.5 L65.3,36.5 L65.8,36.5 L66.3,36.5 L66.8,36.5 L67.3,36.5 L67.8,36.5 L68.3,36.5 L68.8,36.5 L69.3,36.5 L69.8,36.5 L70.3,36.5 L70.8,36.5 L71.3,36.5 L71.8,36.5 L72.3,36.5 L72.8,36.5 L73.3,36.5 L73.8,36.5 L74.3,36.5 L74.8,36.5 L75.3,36.5 L75.8,36.5 L76.3,36.5 L76.8,36.5 L77.3,36.5 L77.8,36.5 L78.3,36.5 L78.8,36.5 L79.3,36.5 L79.8,36.5 L80.3,36.5 L80.8,36.5 L81.3,36.5 L81.8,36.5 L82.3,36.5 L82.8,36.5 L83.3,36.5 L83.8,36.5 L84.3,36.5 L84.8,36.5 L85.3,36.5 L85.8,36.5 L86.3,36.5 L86.8,36.5 L87.3,36.4 L87.8,36.4 L88.3,36.3 L88.8,36.3 L89.3,36.3 L89.8,36.2 L90.3,36.2 L90.8,36.1 L91.3,36.1 L91.8,36.0 L92.3,36.0 L92.8,35.9 L93.3,35.8 L93.8,35.8 L94.3,35.7 L94.8,35.7 L95.3,35.6 L95.8,35.6 L96.3,35.5 L96.8,35.4 L97.3,35.4 L97.8,35.3 L98.3,35.3 L98.8,35.2 L99.3,35.2 L99.8,35.1 L100.3,35.1 L100.8,35.0 L101.3,35.0 L101.8,35.1 L102.3,35.1 L102.8,35.1 L103.3,35.1 L103.8,35.1 L104.3,35.1 L104.8,35.1 L105.3,35.1 L105.8,35.1 L106.3,35.1 L106.8,35.1 L107.3,35.1 L107.8,35.1 L108.3,35.1 L108.8,35.2 L109.3,35.3 L109.8,35.4 L110.3,35.5 L110.8,35.6 L111.3,35.7 L111.8,35.8 L112.3,36.0 L112.8,36.1 L113.3,36.3 L113.8,36.5 L114.3,36.6 L114.8,36.8 L115.3,36.9 L115.8,37.1 L116.3,37.3 L116.8,37.5 L117.3,37.7 L117.8,37.9 L118.3,38.2 L118.8,38.4 L119.3,38.6 L119.8,38.9 L120.3,39.1 L120.8,39.3 L121.3,39.6 L121.8,39.8 L122.3,40.0 L122.8,40.3 L123.3,40.5 L123.8,40.7 L124.3,41.0 L124.8,41.3 L125.3,41.6 L125.8,42.0 L126.3,42.4 L126.8,42.7 L127.3,43.1 L127.8,43.5 L128.3,43.9 L128.8,44.2 L129.3,44.6 L129.8,45.1 L130.3,45.5 L130.8,46.0 L131.3,46.6 L131.8,47.2 L132.3,47.9 L132.8,48.5 L133.3,49.2 L133.8,49.9 L134.3,50.6 L134.8,51.3 L135.3,52.0 L135.8,52.8 L136.3,53.6 L136.8,54.5 L137.3,55.4 L137.8,56.3 L138.3,57.2 L138.8,58.1 L139.3,58.9 L139.8,59.8 L140.3,60.7 L140.8,61.8 L141.3,63.1 L141.8,64.4 L142.3,65.7 L142.8,67.0 L143.3,68.3 L143.8,69.6 L144.3,70.9 L144.8,72.2 L145.3,73.6 L145.8,75.3 L146.3,77.0 L146.8,78.7 L147.3,80.5 L147.8,82.2 L148.3,83.9 L148.8,85.6 L149.3,87.4 L149.8,89.1 L150.3,90.8 L150.8,92.6 L151.3,94.3 L151.8,96.0 L152.3,97.8 L152.8,99.5 L153.3,101.2 L153.8,103.1 L154.3,105.4 L154.8,107.6 L155.3,109.9 L155.8,112.1 L156.3,114.3 L156.8,116.6 L157.3,118.9 L157.8,121.2 L158.3,123.6 L158.8,125.9 L159.3,128.2 L159.8,130.6 L160.3,132.9 L160.8,134.8 L161.3,136.5 L161.8,138.1 L162.3,139.9 L162.8,141.8 L163.3,143.4 L163.8,144.6 L164.3,145.7 L164.8,146.8 L165.3,147.9 L165.8,149.0 L166.3,150.1 L166.8,150.5 L167.3,149.8 L167.8,149.0 L168.3,148.3 L168.8,147.6 L169.3,146.8 L169.8,146.0 L170.3,145.1 L170.8,144.1 L171.3,143.2 L171.8,141.8 L172.3,140.4 L172.8,139.1 L173.3,138.0 L173.8,136.8 L174.3,135.7 L174.8,134.5 L175.3,133.4 L175.8,132.2 L176.3,131.1 L176.8,129.9 L177.3,128.8 L177.8,127.7 L178.3,126.6 L178.8,125.5 L179.3,124.4 L179.8,123.3 L180.3,122.2 L180.8,121.2 L181.3,120.2 L181.8,119.2 L182.3,118.2 L182.8,117.2 L183.3,116.2 L183.8,115.2 L184.3,114.2 L184.8,113.1 L185.3,112.1 L185.8,111.1 L186.3,110.2 L186.8,109.2 L187.3,108.3 L187.8,107.4 L188.3,106.7 L188.8,106.0 L189.3,105.3 L189.8,104.5 L190.3,103.8 L190.8,103.1 L191.3,102.4 L191.8,101.7 L192.3,101.0 L192.8,100.4 L193.3,99.7 L193.8,99.0 L194.3,98.3 L194.8,97.6 L195.3,96.9 L195.8,96.3 L196.3,95.6 L196.8,94.9 L197.3,94.3 L197.8,93.8 L198.3,93.4 L198.8,92.9 L199.3,92.4 L199.8,92.0 L200.3,91.6 L200.8,91.1 L201.3,90.7 L201.8,90.2 L202.3,89.8 L202.8,89.3 L203.3,88.9 L203.8,88.4 L204.3,88.0 L204.8,87.5 L205.3,87.1 L205.8,86.7 L206.3,86.2 L206.8,85.8 L207.3,85.3 L207.8,84.9 L208.3,84.4 L208.8,84.0 L209.3,83.6 L209.8,83.2 L210.3,82.9 L210.8,82.7 L211.3,82.4 L211.8,82.1 L212.3,81.8 L212.8,81.5 L213.3,81.3 L213.8,81.0 L214.3,80.7 L214.8,80.4 L215.3,80.2 L215.8,79.9 L216.3,79.6 L216.8,79.3 L217.3,79.0 L217.8,78.8 L218.3,78.5 L218.8,78.2 L219.3,77.9 L219.8,77.6 L220.3,77.4 L220.8,77.1 L221.3,76.8 L221.8,76.5 L222.3,76.3 L222.8,76.0 L223.3,75.7 L223.8,75.4 L224.3,75.2 L224.8,74.9 L225.3,74.6 L225.8,74.4 L226.3,74.2 L226.8,74.0 L227.3,73.8 L227.8,73.6 L228.3,73.3 L228.8,73.1 L229.3,72.9 L229.8,72.7 L230.3,72.5 L230.8,72.3 L231.3,72.0 L231.8,71.8 L232.3,71.6 L232.8,71.4 L233.3,71.2 L233.8,71.0 L234.3,70.7 L234.8,70.5 L235.3,70.3 L235.8,70.1 L236.3,69.9 L236.8,69.7 L237.3,69.4 L237.8,69.2 L238.3,69.0 L238.8,68.8 L239.3,68.6 L239.8,68.4 L240.3,68.2 L240.8,68.0 L241.3,67.7 L241.8,67.5 L242.3,67.3 L242.8,67.1 L243.3,66.8 L243.8,66.6 L244.3,66.4 L244.8,66.1 L245.3,65.9 L245.8,65.7 L246.3,65.4 L246.8,65.2 L247.3,65.0 L247.8,64.8 L248.3,64.5 L248.8,64.3 L249.3,64.1 L249.8,63.9 L250.3,63.7 L250.8,63.5 L251.3,63.3 L251.8,63.1 L252.3,62.9 L252.8,62.7 L253.3,62.5 L253.8,62.3 L254.3,62.1 L254.8,61.9 L255.3,61.7 L255.8,61.5 L256.3,61.4 L256.8,61.2 L257.3,61.0 L257.8,60.8 L258.3,60.6 L258.8,60.4 L259.3,60.2 L259.8,60.0 L260.3,59.8 L260.8,59.6 L261.3,59.5 L261.8,59.3 L262.3,59.1 L262.8,58.9 L263.3,58.8 L263.8,58.6 L264.3,58.5 L264.8,58.3 L265.3,58.2 L265.8,58.0 L266.3,57.8 L266.8,57.7 L267.3,57.5 L267.8,57.4 L268.3,57.2 L268.8,57.1 L269.3,56.9 L269.8,56.8 L270.3,56.6 L270.8,56.4 L271.3,56.3 L271.8,56.1 L272.3,56.0 L272.8,55.8 L273.3,55.6 L273.8,55.5 L274.3,55.3 L274.8,55.2 L275.3,55.1 L275.8,55.0 L276.3,54.9 L276.8,54.8 L277.3,54.6 L277.8,54.5 L278.3,54.4 L278.8,54.3 L279.3,54.2 L279.8,54.1 L280.3,54.0 L280.8,53.9 L281.3,53.7 L281.8,53.6 L282.3,53.5 L282.8,53.4 L283.3,53.3 L283.8,53.2 L284.3,53.1 L284.8,53.0 L285.3,52.9 L285.8,52.8 L286.3,52.7 L286.8,52.6 L287.3,52.5 L287.8,52.5 L288.3,52.4 L288.8,52.3 L289.3,52.3 L289.8,52.2 L290.3,52.1 L290.8,52.1 L291.3,52.0 L291.8,51.9 L292.3,51.9 L292.8,51.8 L293.3,51.7 L293.8,51.7 L294.3,51.6 L294.8,51.5 L295.3,51.5 L295.8,51.4 L296.3,51.4 L296.8,51.3 L297.3,51.2 L297.8,51.2 L298.3,51.1 L298.8,51.1 L299.3,51.0 L299.8,51.0 L300.3,50.9 L300.8,50.9 L301.3,50.8 L301.8,50.8 L302.3,50.8 L302.8,50.7 L303.3,50.7 L303.8,50.6 L304.3,50.6 L304.8,50.5 L305.3,50.5 L305.8,50.4 L306.3,50.4 L306.8,50.3 L307.3,50.3 L307.8,50.2 L308.3,50.2 L308.8,50.2 L309.3,50.1 L309.8,50.1 L310.3,50.1 L310.8,50.0 L311.3,50.0 L311.8,50.0 L312.3,49.9 L312.8,49.9 L313.3,49.9 L313.8,49.9 L314.3,49.8 L314.8,49.8 L315.3,49.8 L315.8,49.8 L316.3,49.7 L316.8,49.7 L317.3,49.7 L317.8,49.6 L318.3,49.6 L318.8,49.6 L319.3,49.6 L319.8,49.5 L320.3,49.5 L320.8,49.5 L321.3,49.5 L321.8,49.4 L322.3,49.4 L322.8,49.4 L323.3,49.3 L323.8,49.3" stroke="#8a1c1c" stroke-dasharray="3.8,2.4"/>
<path d="M58.8,36.5 L59.3,36.5 L59.8,36.5 L60.3,36.5 L60.8,36.5 L61.3,36.5 L61.8,36.5 L62.3,36.5 L62.8,36.5 L63.3,36.5 L63.8,36.5 L64.3,36.5 L64.8,36.5 L65.3,36.5 L65.8,36.5 L66.3,36.5 L66.8,36.5 L67.3,36.5 L67.8,36.5 L68.3,36.5 L68.8,36.5 L69.3,36.5 L69.8,36.5 L70.3,36.5 L70.8,36.5 L71.3,36.5 L71.8,36.5 L72.3,36.5 L72.8,36.5 L73.3,36.5 L73.8,36.5 L74.3,36.5 L74.8,36.5 L75.3,36.5 L75.8,36.5 L76.3,36.5 L76.8,36.5 L77.3,36.5 L77.8,36.5 L78.3,36.5 L78.8,36.5 L79.3,36.5 L79.8,36.5 L80.3,36.5 L80.8,36.5 L81.3,36.5 L81.8,36.5 L82.3,36.5 L82.8,36.5 L83.3,36.4 L83.8,36.4 L84.3,36.3 L84.8,36.3 L85.3,36.2 L85.8,36.2 L86.3,36.1 L86.8,36.1 L87.3,36.0 L87.8,36.0 L88.3,35.9 L88.8,35.9 L89.3,35.8 L89.8,35.7 L90.3,35.7 L90.8,35.6 L91.3,35.6 L91.8,35.5 L92.3,35.5 L92.8,35.4 L93.3,35.4 L93.8,35.3 L94.3,35.2 L94.8,35.2 L95.3,35.1 L95.8,35.1 L96.3,35.0 L96.8,35.0 L97.3,35.1 L97.8,35.1 L98.3,35.1 L98.8,35.1 L99.3,35.1 L99.8,35.2 L100.3,35.2 L100.8,35.2 L101.3,35.2 L101.8,35.2 L102.3,35.2 L102.8,35.2 L103.3,35.2 L103.8,35.2 L104.3,35.2 L104.8,35.4 L105.3,35.5 L105.8,35.6 L106.3,35.7 L106.8,35.8 L107.3,36.0 L107.8,36.1 L108.3,36.3 L108.8,36.4 L109.3,36.6 L109.8,36.7 L110.3,36.9 L110.8,37.1 L111.3,37.2 L111.8,37.4 L112.3,37.5 L112.8,37.8 L113.3,38.0 L113.8,38.2 L114.3,38.4 L114.8,38.7 L115.3,38.9 L115.8,39.1 L116.3,39.4 L116.8,39.6 L117.3,39.8 L117.8,40.1 L118.3,40.3 L118.8,40.5 L119.3,40.7 L119.8,41.0 L120.3,41.2 L120.8,41.6 L121.3,41.9 L121.8,42.3 L122.3,42.7 L122.8,43.0 L123.3,43.4 L123.8,43.8 L124.3,44.1 L124.8,44.5 L125.3,44.9 L125.8,45.3 L126.3,45.7 L126.8,46.4 L127.3,47.0 L127.8,47.6 L128.3,48.3 L128.8,48.9 L129.3,49.6 L129.8,50.3 L130.3,51.0 L130.8,51.6 L131.3,52.4 L131.8,53.2 L132.3,54.0 L132.8,54.9 L133.3,55.7 L133.8,56.6 L134.3,57.5 L134.8,58.3 L135.3,59.2 L135.8,60.0 L136.3,60.9 L136.8,62.2 L137.3,63.4 L137.8,64.7 L138.3,66.0 L138.8,67.2 L139.3,68.5 L139.8,69.8 L140.3,71.0 L140.8,72.3 L141.3,73.9 L141.8,75.6 L142.3,77.3 L142.8,78.9 L143.3,80.6 L143.8,82.3 L144.3,84.0 L144.8,85.7 L145.3,87.4 L145.8,89.1 L146.3,90.7 L146.8,92.4 L147.3,94.0 L147.8,95.7 L148.3,97.4 L148.8,99.0 L149.3,100.7 L149.8,102.9 L150.3,105.1 L150.8,107.3 L151.3,109.5 L151.8,111.7 L152.3,113.9 L152.8,116.1 L153.3,118.4 L153.8,120.6 L154.3,122.9 L154.8,125.1 L155.3,127.4 L155.8,129.6 L156.3,131.7 L156.8,133.3 L157.3,134.8 L157.8,136.4 L158.3,138.1 L158.8,139.9 L159.3,140.8 L159.8,141.7 L160.3,142.6 L160.8,143.5 L161.3,144.4 L161.8,145.3 L162.3,146.2 L162.8,145.6 L163.3,145.0 L163.8,144.4 L164.3,143.7 L164.8,143.1 L165.3,142.5 L165.8,141.8 L166.3,141.0 L166.8,140.3 L167.3,139.4 L167.8,138.2 L168.3,136.9 L168.8,135.8 L169.3,134.8 L169.8,133.7 L170.3,132.6 L170.8,131.6 L171.3,130.5 L171.8,129.5 L172.3,128.4 L172.8,127.3 L173.3,126.3 L173.8,125.3 L174.3,124.2 L174.8,123.2 L175.3,122.2 L175.8,121.2 L176.3,120.1 L176.8,119.2 L177.3,118.2 L177.8,117.3 L178.3,116.3 L178.8,115.4 L179.3,114.5 L179.8,113.5 L180.3,112.6 L180.8,111.6 L181.3,110.7 L181.8,109.7 L182.3,108.8 L182.8,107.9 L183.3,106.9 L183.8,106.0 L184.3,105.3 L184.8,104.6 L185.3,103.9 L185.8,103.3 L186.3,102.6 L186.8,101.9 L187.3,101.2 L187.8,100.6 L188.3,99.9 L188.8,99.3 L189.3,98.6 L189.8,98.0 L190.3,97.3 L190.8,96.6 L191.3,96.0 L191.8,95.3 L192.3,94.7 L192.8,94.0 L193.3,93.4 L193.8,92.8 L194.3,92.4 L194.8,91.9 L195.3,91.5 L195.8,91.1 L196.3,90.6 L196.8,90.2 L197.3,89.8 L197.8,89.4 L198.3,89.0 L198.8,88.5 L199.3,88.1 L199.8,87.7 L200.3,87.3 L200.8,86.8 L201.3,86.4 L201.8,86.0 L202.3,85.6 L202.8,85.1 L203.3,84.7 L203.8,84.3 L204.3,83.9 L204.8,83.4 L205.3,83.0 L205.8,82.6 L206.3,82.2 L206.8,81.9 L207.3,81.6 L207.8,81.4 L208.3,81.1 L208.8,80.9 L209.3,80.6 L209.8,80.3 L210.3,80.1 L210.8,79.8 L211.3,79.5 L211.8,79.3 L212.3,79.0 L212.8,78.8 L213.3,78.5 L213.8,78.2 L214.3,78.0 L214.8,77.7 L215.3,77.5 L215.8,77.2 L216.3,76.9 L216.8,76.7 L217.3,76.4 L217.8,76.1 L218.3,75.9 L218.8,75.6 L219.3,75.4 L219.8,75.1 L220.3,74.8 L220.8,74.6 L221.3,74.3 L221.8,74.1 L222.3,73.8 L222.8,73.6 L223.3,73.4 L223.8,73.2 L224.3,73.0 L224.8,72.8 L225.3,72.6 L225.8,72.4 L226.3,72.2 L226.8,72.0 L227.3,71.8 L227.8,71.6 L228.3,71.4 L228.8,71.2 L229.3,71.0 L229.8,70.8 L230.3,70.6 L230.8,70.4 L231.3,70.2 L231.8,70.0 L232.3,69.8 L232.8,69.6 L233.3,69.4 L233.8,69.2 L234.3,69.0 L234.8,68.8 L235.3,68.6 L235.8,68.4 L236.3,68.2 L236.8,68.0 L237.3,67.8 L237.8,67.6 L238.3,67.4 L238.8,67.2 L239.3,67.0 L239.8,66.8 L240.3,66.6 L240.8,66.4 L241.3,66.2 L241.8,65.9 L242.3,65.7 L242.8,65.5 L243.3,65.3 L243.8,65.1 L244.3,64.9 L244.8,64.6 L245.3,64.4 L245.8,64.2 L246.3,64.0 L246.8,63.8 L247.3,63.6 L247.8,63.4 L248.3,63.2 L248.8,63.0 L249.3,62.8 L249.8,62.6 L250.3,62.4 L250.8,62.2 L251.3,62.1 L251.8,61.9 L252.3,61.7 L252.8,61.5 L253.3,61.3 L253.8,61.1 L254.3,60.9 L254.8,60.8 L255.3,60.6 L255.8,60.4 L256.3,60.2 L256.8,60.0 L257.3,59.8 L257.8,59.6 L258.3,59.5 L258.8,59.3 L259.3,59.1 L259.8,58.9 L260.3,58.7 L260.8,58.6 L261.3,58.4 L261.8,58.3 L262.3,58.1 L262.8,58.0 L263.3,57.8 L263.8,57.7 L264.3,57.5 L264.8,57.4 L265.3,57.2 L265.8,57.1 L266.3,56.9 L266.8,56.8 L267.3,56.6 L267.8,56.5 L268.3,56.3 L268.8,56.2 L269.3,56.0 L269.8,55.9 L270.3,55.7 L270.8,55.6 L271.3,55.4 L271.8,55.3 L272.3,55.1 L272.8,55.0 L273.3,54.9 L273.8,54.8 L274.3,54.6 L274.8,54.5 L275.3,54.4 L275.8,54.3 L276.3,54.2 L276.8,54.1 L277.3,54.0 L277.8,53.9 L278.3,53.8 L278.8,53.7 L279.3,53.6 L279.8,53.5 L280.3,53.4 L280.8,53.2 L281.3,53.1 L281.8,53.0 L282.3,52.9 L282.8,52.8 L283.3,52.7 L283.8,52.6 L284.3,52.5 L284.8,52.4 L285.3,52.3 L285.8,52.3 L286.3,52.2 L286.8,52.2 L287.3,52.1 L287.8,52.0 L288.3,52.0 L288.8,51.9 L289.3,51.8 L289.8,51.8 L290.3,51.7 L290.8,51.6 L291.3,51.6 L291.8,51.5 L292.3,51.5 L292.8,51.4 L293.3,51.3 L293.8,51.3 L294.3,51.2 L294.8,51.1 L295.3,51.1 L295.8,51.0 L296.3,51.0 L296.8,50.9 L297.3,50.9 L297.8,50.8 L298.3,50.8 L298.8,50.7 L299.3,50.7 L299.8,50.6 L300.3,50.6 L300.8,50.6 L301.3,50.5 L301.8,50.5 L302.3,50.4 L302.8,50.4 L303.3,50.3 L303.8,50.3 L304.3,50.3 L304.8,50.2 L305.3,50.2 L305.8,50.1 L306.3,50.1 L306.8,50.1 L307.3,50.0 L307.8,50.0 L308.3,49.9 L308.8,49.9 L309.3,49.9 L309.8,49.8 L310.3,49.8 L310.8,49.8 L311.3,49.8 L311.8,49.7 L312.3,49.7 L312.8,49.7 L313.3,49.7 L313.8,49.6 L314.3,49.6 L314.8,49.6 L315.3,49.6 L315.8,49.5 L316.3,49.5 L316.8,49.5 L317.3,49.5 L317.8,49.4 L318.3,49.4 L318.8,49.4 L319.3,49.4 L319.8,49.3 L320.3,49.3 L320.8,49.3 L321.3,49.3 L321.8,49.2 L322.3,49.2 L322.8,49.2 L323.3,49.2 L323.8,49.1" stroke="#42e442"/>
<path d="M58.8,36.5 L59.3,36.5 L59.8,36.5 L60.3,36.5 L60.8,36.5 L61.3,36.5 L61.8,36.5 L62.3,36.5 L62.8,36.5 L63.3,36.5 L63.8,36.5 L64.3,36.5 L64.8,36.5 L65.3,36.5 L65.8,36.5 L66.3,36.5 L66.8,36.5 L67.3,36.5 L67.8,36.5 L68.3,36.5 L68.8,36.5 L69.3,36.5 L69.8,36.5 L70.3,36.5 L70.8,36.5 L71.3,36.5 L71.8,36.5 L72.3,36.4 L72.8,36.4 L73.3,36.3 L73.8,36.3 L74.3,36.2 L74.8,36.2 L75.3,36.1 L75.8,36.1 L76.3,36.0 L76.8,36.0 L77.3,35.9 L77.8,35.8 L78.3,35.8 L78.8,35.7 L79.3,35.7 L79.8,35.6 L80.3,35.6 L80.8,35.5 L81.3,35.5 L81.8,35.4 L82.3,35.3 L82.8,35.3 L83.3,35.2 L83.8,35.2 L84.3,35.1 L84.8,35.1 L85.3,35.0 L85.8,35.0 L86.3,35.0 L86.8,35.1 L87.3,35.1 L87.8,35.1 L88.3,35.2 L88.8,35.2 L89.3,35.2 L89.8,35.2 L90.3,35.3 L90.8,35.3 L91.3,35.3 L91.8,35.3 L92.3,35.3 L92.8,35.4 L93.3,35.4 L93.8,35.5 L94.3,35.6 L94.8,35.8 L95.3,35.9 L95.8,36.1 L96.3,36.2 L96.8,36.3 L97.3,36.5 L97.8,36.7 L98.3,36.8 L98.8,37.0 L99.3,37.1 L99.8,37.3 L100.3,37.5 L100.8,37.6 L101.3,37.8 L101.8,38.0 L102.3,38.2 L102.8,38.4 L103.3,38.6 L103.8,38.9 L104.3,39.1 L104.8,39.3 L105.3,39.5 L105.8,39.8 L106.3,40.0 L106.8,40.2 L107.3,40.4 L107.8,40.7 L108.3,40.9 L108.8,41.1 L109.3,41.3 L109.8,41.6 L110.3,42.0 L110.8,42.4 L111.3,42.8 L111.8,43.1 L112.3,43.5 L112.8,43.9 L113.3,44.3 L113.8,44.6 L114.3,45.0 L114.8,45.4 L115.3,45.8 L115.8,46.3 L116.3,47.0 L116.8,47.6 L117.3,48.3 L117.8,48.9 L118.3,49.6 L118.8,50.2 L119.3,50.9 L119.8,51.5 L120.3,52.2 L120.8,53.0 L121.3,53.8 L121.8,54.7 L122.3,55.5 L122.8,56.3 L123.3,57.2 L123.8,58.0 L124.3,58.8 L124.8,59.6 L125.3,60.5 L125.8,61.5 L126.3,62.8 L126.8,64.0 L127.3,65.2 L127.8,66.5 L128.3,67.7 L128.8,68.9 L129.3,70.2 L129.8,71.4 L130.3,72.8 L130.8,74.4 L131.3,76.1 L131.8,77.8 L132.3,79.4 L132.8,81.1 L133.3,82.7 L133.8,84.4 L134.3,86.1 L134.8,87.7 L135.3,89.3 L135.8,90.9 L136.3,92.4 L136.8,94.0 L137.3,95.6 L137.8,97.1 L138.3,98.7 L138.8,100.6 L139.3,102.8 L139.8,105.0 L140.3,107.2 L140.8,109.3 L141.3,111.5 L141.8,113.7 L142.3,115.9 L142.8,118.1 L143.3,120.2 L143.8,122.4 L144.3,124.6 L144.8,126.8 L145.3,128.9 L145.8,130.5 L146.3,131.9 L146.8,133.3 L147.3,134.8 L147.8,136.2 L148.3,137.2 L148.8,137.7 L149.3,138.3 L149.8,138.9 L150.3,139.4 L150.8,140.0 L151.3,140.6 L151.8,140.5 L152.3,140.1 L152.8,139.7 L153.3,139.2 L153.8,138.8 L154.3,138.4 L154.8,137.9 L155.3,137.4 L155.8,137.0 L156.3,136.5 L156.8,135.9 L157.3,134.9 L157.8,133.9 L158.3,133.0 L158.8,132.1 L159.3,131.1 L159.8,130.2 L160.3,129.3 L160.8,128.4 L161.3,127.5 L161.8,126.6 L162.3,125.6 L162.8,124.7 L163.3,123.8 L163.8,122.9 L164.3,122.0 L164.8,121.1 L165.3,120.2 L165.8,119.3 L166.3,118.4 L166.8,117.5 L167.3,116.7 L167.8,115.8 L168.3,114.9 L168.8,114.1 L169.3,113.2 L169.8,112.3 L170.3,111.4 L170.8,110.6 L171.3,109.7 L171.8,108.8 L172.3,108.0 L172.8,107.1 L173.3,106.3 L173.8,105.4 L174.3,104.5 L174.8,103.8 L175.3,103.2 L175.8,102.6 L176.3,101.9 L176.8,101.3 L177.3,100.7 L177.8,100.1 L178.3,99.5 L178.8,98.9 L179.3,98.3 L179.8,97.7 L180.3,97.0 L180.8,96.4 L181.3,95.8 L181.8,95.2 L182.3,94.6 L182.8,94.0 L183.3,93.4 L183.8,92.8 L184.3,92.2 L184.8,91.6 L185.3,91.2 L185.8,90.8 L186.3,90.4 L186.8,90.0 L187.3,89.6 L187.8,89.2 L188.3,88.8 L188.8,88.4 L189.3,88.0 L189.8,87.6 L190.3,87.2 L190.8,86.8 L191.3,86.5 L191.8,86.1 L192.3,85.7 L192.8,85.3 L193.3,84.9 L193.8,84.5 L194.3,84.1 L194.8,83.7 L195.3,83.3 L195.8,82.9 L196.3,82.5 L196.8,82.2 L197.3,81.8 L197.8,81.4 L198.3,81.0 L198.8,80.7 L199.3,80.5 L199.8,80.2 L200.3,80.0 L200.8,79.7 L201.3,79.5 L201.8,79.3 L202.3,79.0 L202.8,78.8 L203.3,78.6 L203.8,78.3 L204.3,78.1 L204.8,77.8 L205.3,77.6 L205.8,77.4 L206.3,77.1 L206.8,76.9 L207.3,76.7 L207.8,76.4 L208.3,76.2 L208.8,76.0 L209.3,75.7 L209.8,75.5 L210.3,75.2 L210.8,75.0 L211.3,74.8 L211.8,74.5 L212.3,74.3 L212.8,74.1 L213.3,73.8 L213.8,73.6 L214.3,73.4 L214.8,73.1 L215.3,72.9 L215.8,72.7 L216.3,72.5 L216.8,72.3 L217.3,72.2 L217.8,72.0 L218.3,71.8 L218.8,71.6 L219.3,71.5 L219.8,71.3 L220.3,71.1 L220.8,70.9 L221.3,70.8 L221.8,70.6 L222.3,70.4 L222.8,70.2 L223.3,70.1 L223.8,69.9 L224.3,69.7 L224.8,69.5 L225.3,69.4 L225.8,69.2 L226.3,69.0 L226.8,68.9 L227.3,68.7 L227.8,68.5 L228.3,68.3 L228.8,68.2 L229.3,68.0 L229.8,67.8 L230.3,67.6 L230.8,67.5 L231.3,67.3 L231.8,67.1 L232.3,66.9 L232.8,66.8 L233.3,66.6 L233.8,66.4 L234.3,66.2 L234.8,66.0 L235.3,65.8 L235.8,65.6 L236.3,65.4 L236.8,65.2 L237.3,65.0 L237.8,64.8 L238.3,64.6 L238.8,64.4 L239.3,64.2 L239.8,64.0 L240.3,63.8 L240.8,63.6 L241.3,63.4 L241.8,63.2 L242.3,63.0 L242.8,62.9 L243.3,62.7 L243.8,62.5 L244.3,62.3 L244.8,62.1 L245.3,62.0 L245.8,61.8 L246.3,61.6 L246.8,61.4 L247.3,61.3 L247.8,61.1 L248.3,60.9 L248.8,60.8 L249.3,60.6 L249.8,60.4 L250.3,60.2 L250.8,60.1 L251.3,59.9 L251.8,59.7 L252.3,59.5 L252.8,59.4 L253.3,59.2 L253.8,59.0 L254.3,58.8 L254.8,58.7 L255.3,58.5 L255.8,58.3 L256.3,58.2 L256.8,58.0 L257.3,57.9 L257.8,57.7 L258.3,57.6 L258.8,57.5 L259.3,57.3 L259.8,57.2 L260.3,57.0 L260.8,56.9 L261.3,56.7 L261.8,56.6 L262.3,56.5 L262.8,56.3 L263.3,56.2 L263.8,56.0 L264.3,55.9 L264.8,55.8 L265.3,55.6 L265.8,55.5 L266.3,55.3 L266.8,55.2 L267.3,55.1 L267.8,54.9 L268.3,54.8 L268.8,54.6 L269.3,54.5 L269.8,54.4 L270.3,54.3 L270.8,54.2 L271.3,54.1 L271.8,54.0 L272.3,53.9 L272.8,53.8 L273.3,53.7 L273.8,53.6 L274.3,53.5 L274.8,53.4 L275.3,53.3 L275.8,53.2 L276.3,53.1 L276.8,53.0 L277.3,52.9 L277.8,52.8 L278.3,52.7 L278.8,52.6 L279.3,52.5 L279.8,52.4 L280.3,52.3 L280.8,52.2 L281.3,52.1 L281.8,52.0 L282.3,52.0 L282.8,51.9 L283.3,51.8 L283.8,51.8 L284.3,51.7 L284.8,51.7 L285.3,51.6 L285.8,51.5 L286.3,51.5 L286.8,51.4 L287.3,51.4 L287.8,51.3 L288.3,51.3 L288.8,51.2 L289.3,51.1 L289.8,51.1 L290.3,51.0 L290.8,51.0 L291.3,50.9 L291.8,50.9 L292.3,50.8 L292.8,50.7 L293.3,50.7 L293.8,50.6 L294.3,50.6 L294.8,50.5 L295.3,50.5 L295.8,50.4 L296.3,50.4 L296.8,50.4 L297.3,50.3 L297.8,50.3 L298.3,50.3 L298.8,50.2 L299.3,50.2 L299.8,50.1 L300.3,50.1 L300.8,50.1 L301.3,50.0 L301.8,50.0 L302.3,50.0 L302.8,49.9 L303.3,49.9 L303.8,49.9 L304.3,49.8 L304.8,49.8 L305.3,49.7 L305.8,49.7 L306.3,49.7 L306.8,49.6 L307.3,49.6 L307.8,49.6 L308.3,49.5 L308.8,49.5 L309.3,49.5 L309.8,49.5 L310.3,49.5 L310.8,49.4 L311.3,49.4 L311.8,49.4 L312.3,49.4 L312.8,49.4 L313.3,49.3 L313.8,49.3 L314.3,49.3 L314.8,49.3 L315.3,49.3 L315.8,49.2 L316.3,49.2 L316.8,49.2 L317.3,49.2 L317.8,49.2 L318.3,49.1 L318.8,49.1 L319.3,49.1 L319.8,49.1 L320.3,49.0 L320.8,49.0 L321.3,49.0 L321.8,49.0 L322.3,49.0 L322.8,48.9 L323.3,48.9 L323.8,48.9" stroke="#2a8a2a" stroke-dasharray="3.8,2.4"/>
<path d="M58.8,36.5 L59.3,36.5 L59.8,36.5 L60.3,36.5 L60.8,36.5 L61.3,36.5 L61.8,36.5 L62.3,36.5 L62.8,36.5 L63.3,36.5 L63.8,36.5 L64.3,36.5 L64.8,36.4 L65.3,36.4 L65.8,36.3 L66.3,36.3 L66.8,36.2 L67.3,36.2 L67.8,36.1 L68.3,36.0 L68.8,36.0 L69.3,35.9 L69.8,35.9 L70.3,35.8 L70.8,35.8 L71.3,35.7 L71.8,35.7 L72.3,35.6 L72.8,35.5 L73.3,35.5 L73.8,35.4 L74.3,35.4 L74.8,35.3 L75.3,35.3 L75.8,35.2 L76.3,35.2 L76.8,35.1 L77.3,35.1 L77.8,35.0 L78.3,35.0 L78.8,35.0 L79.3,35.0 L79.8,35.1 L80.3,35.1 L80.8,35.1 L81.3,35.2 L81.8,35.2 L82.3,35.2 L82.8,35.2 L83.3,35.3 L83.8,35.3 L84.3,35.3 L84.8,35.4 L85.3,35.4 L85.8,35.4 L86.3,35.5 L86.8,35.7 L87.3,35.8 L87.8,36.0 L88.3,36.1 L88.8,36.3 L89.3,36.5 L89.8,36.6 L90.3,36.8 L90.8,37.0 L91.3,37.1 L91.8,37.3 L92.3,37.4 L92.8,37.6 L93.3,37.8 L93.8,37.9 L94.3,38.1 L94.8,38.3 L95.3,38.5 L95.8,38.8 L96.3,39.0 L96.8,39.2 L97.3,39.4 L97.8,39.7 L98.3,39.9 L98.8,40.1 L99.3,40.4 L99.8,40.6 L100.3,40.8 L100.8,41.0 L101.3,41.3 L101.8,41.5 L102.3,41.7 L102.8,42.1 L103.3,42.5 L103.8,42.9 L104.3,43.3 L104.8,43.7 L105.3,44.1 L105.8,44.4 L106.3,44.8 L106.8,45.2 L107.3,45.6 L107.8,46.0 L108.3,46.4 L108.8,47.1 L109.3,47.8 L109.8,48.4 L110.3,49.1 L110.8,49.7 L111.3,50.4 L111.8,51.0 L112.3,51.7 L112.8,52.4 L113.3,53.2 L113.8,54.0 L114.3,54.8 L114.8,55.6 L115.3,56.5 L115.8,57.3 L116.3,58.1 L116.8,59.0 L117.3,59.8 L117.8,60.6 L118.3,61.5 L118.8,62.7 L119.3,64.0 L119.8,65.2 L120.3,66.5 L120.8,67.7 L121.3,68.9 L121.8,70.2 L122.3,71.4 L122.8,72.6 L123.3,74.3 L123.8,76.0 L124.3,77.7 L124.8,79.4 L125.3,81.0 L125.8,82.7 L126.3,84.4 L126.8,86.1 L127.3,87.8 L127.8,89.3 L128.3,90.9 L128.8,92.4 L129.3,94.0 L129.8,95.5 L130.3,97.1 L130.8,98.6 L131.3,100.3 L131.8,102.5 L132.3,104.7 L132.8,106.9 L133.3,109.1 L133.8,111.4 L134.3,113.6 L134.8,115.8 L135.3,118.0 L135.8,120.1 L136.3,122.3 L136.8,124.5 L137.3,126.6 L137.8,128.8 L138.3,130.6 L138.8,132.0 L139.3,133.3 L139.8,134.7 L140.3,136.0 L140.8,137.2 L141.3,137.6 L141.8,137.9 L142.3,138.3 L142.8,138.7 L143.3,139.0 L143.8,139.4 L144.3,139.6 L144.8,139.3 L145.3,138.9 L145.8,138.6 L146.3,138.3 L146.8,137.9 L147.3,137.6 L147.8,137.2 L148.3,136.9 L148.8,136.6 L149.3,136.2 L149.8,135.7 L150.3,134.8 L150.8,134.0 L151.3,133.1 L151.8,132.3 L152.3,131.4 L152.8,130.5 L153.3,129.7 L153.8,128.8 L154.3,128.0 L154.8,127.1 L155.3,126.2 L155.8,125.4 L156.3,124.5 L156.8,123.7 L157.3,122.8 L157.8,122.0 L158.3,121.1 L158.8,120.3 L159.3,119.4 L159.8,118.6 L160.3,117.8 L160.8,116.9 L161.3,116.1 L161.8,115.2 L162.3,114.4 L162.8,113.5 L163.3,112.7 L163.8,111.9 L164.3,111.0 L164.8,110.2 L165.3,109.3 L165.8,108.5 L166.3,107.7 L166.8,106.8 L167.3,106.0 L167.8,105.1 L168.3,104.3 L168.8,103.7 L169.3,103.1 L169.8,102.5 L170.3,101.9 L170.8,101.3 L171.3,100.7 L171.8,100.2 L172.3,99.6 L172.8,99.0 L173.3,98.4 L173.8,97.8 L174.3,97.2 L174.8,96.6 L175.3,96.0 L175.8,95.4 L176.3,94.8 L176.8,94.2 L177.3,93.6 L177.8,93.0 L178.3,92.4 L178.8,91.8 L179.3,91.4 L179.8,91.0 L180.3,90.6 L180.8,90.2 L181.3,89.9 L181.8,89.5 L182.3,89.1 L182.8,88.7 L183.3,88.4 L183.8,88.0 L184.3,87.6 L184.8,87.2 L185.3,86.8 L185.8,86.5 L186.3,86.1 L186.8,85.7 L187.3,85.3 L187.8,84.9 L188.3,84.6 L188.8,84.2 L189.3,83.8 L189.8,83.4 L190.3,83.0 L190.8,82.7 L191.3,82.3 L191.8,81.9 L192.3,81.5 L192.8,81.1 L193.3,80.8 L193.8,80.6 L194.3,80.3 L194.8,80.1 L195.3,79.9 L195.8,79.7 L196.3,79.4 L196.8,79.2 L197.3,79.0 L197.8,78.7 L198.3,78.5 L198.8,78.3 L199.3,78.1 L199.8,77.8 L200.3,77.6 L200.8,77.4 L201.3,77.1 L201.8,76.9 L202.3,76.7 L202.8,76.5 L203.3,76.2 L203.8,76.0 L204.3,75.8 L204.8,75.6 L205.3,75.3 L205.8,75.1 L206.3,74.9 L206.8,74.6 L207.3,74.4 L207.8,74.2 L208.3,74.0 L208.8,73.7 L209.3,73.5 L209.8,73.3 L210.3,73.1 L210.8,72.8 L211.3,72.6 L211.8,72.5 L212.3,72.3 L212.8,72.2 L213.3,72.0 L213.8,71.8 L214.3,71.7 L214.8,71.5 L215.3,71.3 L215.8,71.2 L216.3,71.0 L216.8,70.9 L217.3,70.7 L217.8,70.5 L218.3,70.4 L218.8,70.2 L219.3,70.0 L219.8,69.9 L220.3,69.7 L220.8,69.5 L221.3,69.4 L221.8,69.2 L222.3,69.1 L222.8,68.9 L223.3,68.7 L223.8,68.6 L224.3,68.4 L224.8,68.2 L225.3,68.1 L225.8,67.9 L226.3,67.8 L226.8,67.6 L227.3,67.4 L227.8,67.3 L228.3,67.1 L228.8,66.9 L229.3,66.7 L229.8,66.6 L230.3,66.4 L230.8,66.2 L231.3,66.0 L231.8,65.8 L232.3,65.6 L232.8,65.4 L233.3,65.2 L233.8,65.0 L234.3,64.9 L234.8,64.7 L235.3,64.5 L235.8,64.3 L236.3,64.1 L236.8,63.9 L237.3,63.7 L237.8,63.5 L238.3,63.3 L238.8,63.2 L239.3,63.0 L239.8,62.8 L240.3,62.6 L240.8,62.4 L241.3,62.3 L241.8,62.1 L242.3,61.9 L242.8,61.7 L243.3,61.6 L243.8,61.4 L244.3,61.2 L244.8,61.1 L245.3,60.9 L245.8,60.7 L246.3,60.6 L246.8,60.4 L247.3,60.2 L247.8,60.0 L248.3,59.9 L248.8,59.7 L249.3,59.5 L249.8,59.4 L250.3,59.2 L250.8,59.0 L251.3,58.8 L251.8,58.7 L252.3,58.5 L252.8,58.3 L253.3,58.2 L253.8,58.0 L254.3,57.9 L254.8,57.7 L255.3,57.6 L255.8,57.5 L256.3,57.3 L256.8,57.2 L257.3,57.0 L257.8,56.9 L258.3,56.8 L258.8,56.6 L259.3,56.5 L259.8,56.4 L260.3,56.2 L260.8,56.1 L261.3,55.9 L261.8,55.8 L262.3,55.7 L262.8,55.5 L263.3,55.4 L263.8,55.2 L264.3,55.1 L264.8,55.0 L265.3,54.8 L265.8,54.7 L266.3,54.5 L266.8,54.4 L267.3,54.3 L267.8,54.2 L268.3,54.1 L268.8,54.0 L269.3,53.9 L269.8,53.8 L270.3,53.7 L270.8,53.6 L271.3,53.6 L271.8,53.5 L272.3,53.4 L272.8,53.3 L273.3,53.2 L273.8,53.1 L274.3,53.0 L274.8,52.9 L275.3,52.8 L275.8,52.7 L276.3,52.6 L276.8,52.5 L277.3,52.4 L277.8,52.3 L278.3,52.2 L278.8,52.1 L279.3,52.0 L279.8,51.9 L280.3,51.8 L280.8,51.8 L281.3,51.7 L281.8,51.7 L282.3,51.6 L282.8,51.5 L283.3,51.5 L283.8,51.4 L284.3,51.4 L284.8,51.3 L285.3,51.3 L285.8,51.2 L286.3,51.2 L286.8,51.1 L287.3,51.0 L287.8,51.0 L288.3,50.9 L288.8,50.9 L289.3,50.8 L289.8,50.8 L290.3,50.7 L290.8,50.7 L291.3,50.6 L291.8,50.6 L292.3,50.5 L292.8,50.4 L293.3,50.4 L293.8,50.3 L294.3,50.3 L294.8,50.3 L295.3,50.2 L295.8,50.2 L296.3,50.2 L296.8,50.1 L297.3,50.1 L297.8,50.1 L298.3,50.0 L298.8,50.0 L299.3,50.0 L299.8,49.9 L300.3,49.9 L300.8,49.9 L301.3,49.8 L301.8,49.8 L302.3,49.8 L302.8,49.7 L303.3,49.7 L303.8,49.6 L304.3,49.6 L304.8,49.6 L305.3,49.5 L305.8,49.5 L306.3,49.5 L306.8,49.4 L307.3,49.4 L307.8,49.4 L308.3,49.4 L308.8,49.4 L309.3,49.3 L309.8,49.3 L310.3,49.3 L310.8,49.3 L311.3,49.3 L311.8,49.2 L312.3,49.2 L312.8,49.2 L313.3,49.2 L313.8,49.2 L314.3,49.2 L314.8,49.1 L315.3,49.1 L315.8,49.1 L316.3,49.1 L316.8,49.1 L317.3,49.0 L317.8,49.0 L318.3,49.0 L318.8,49.0 L319.3,49.0 L319.8,49.0 L320.3,48.9 L320.8,48.9 L321.3,48.9 L321.8,48.9 L322.3,48.9 L322.8,48.8 L323.3,48.8 L323.8,48.8" stroke="#0c0c80"/>
</g>
<rect x="63.7" y="37.3" width="49" height="176" fill="#fff" stroke="#bdbdbd" stroke-width="1"/>
<line x1="66.5" y1="45.00" x2="87.7" y2="45.00" stroke="#000000" stroke-width="2.0"/>
<text x="89.40" y="48.80" font-family="'Liberation Serif', serif" font-size="9.6" font-weight="bold" text-anchor="start" >0.0N</text>
<line x1="66.5" y1="56.37" x2="87.7" y2="56.37" stroke="#6b2cf0" stroke-width="2.0" stroke-dasharray="3.8,2.4"/>
<text x="89.40" y="60.17" font-family="'Liberation Serif', serif" font-size="9.6" font-weight="bold" text-anchor="start" >0.8N</text>
<line x1="66.5" y1="67.74" x2="87.7" y2="67.74" stroke="#d63a3a" stroke-width="2.0"/>
<text x="89.40" y="71.54" font-family="'Liberation Serif', serif" font-size="9.6" font-weight="bold" text-anchor="start" >1.0N</text>
<line x1="66.5" y1="79.11" x2="87.7" y2="79.11" stroke="#ec8a2a" stroke-width="2.0" stroke-dasharray="3.8,2.4"/>
<text x="89.40" y="82.91" font-family="'Liberation Serif', serif" font-size="9.6" font-weight="bold" text-anchor="start" >1.4N</text>
<line x1="66.5" y1="90.48" x2="87.7" y2="90.48" stroke="#1c1cd8" stroke-width="2.0"/>
<text x="89.40" y="94.28" font-family="'Liberation Serif', serif" font-size="9.6" font-weight="bold" text-anchor="start" >2.0N</text>
<line x1="66.5" y1="101.85" x2="87.7" y2="101.85" stroke="#3fe2e6" stroke-width="2.0" stroke-dasharray="3.8,2.4"/>
<text x="89.40" y="105.65" font-family="'Liberation Serif', serif" font-size="9.6" font-weight="bold" text-anchor="start" >2.4N</text>
<line x1="66.5" y1="113.22" x2="87.7" y2="113.22" stroke="#d836d8" stroke-width="2.0"/>
<text x="89.40" y="117.02" font-family="'Liberation Serif', serif" font-size="9.6" font-weight="bold" text-anchor="start" >3.0N</text>
<line x1="66.5" y1="124.59" x2="87.7" y2="124.59" stroke="#f2f040" stroke-width="2.0" stroke-dasharray="3.8,2.4"/>
<text x="89.40" y="128.39" font-family="'Liberation Serif', serif" font-size="9.6" font-weight="bold" text-anchor="start" >3.4N</text>
<line x1="66.5" y1="135.96" x2="87.7" y2="135.96" stroke="#8a8a1c" stroke-width="2.0"/>
<text x="89.40" y="139.76" font-family="'Liberation Serif', serif" font-size="9.6" font-weight="bold" text-anchor="start" >4.0N</text>
<line x1="66.5" y1="147.33" x2="87.7" y2="147.33" stroke="#1c1c80" stroke-width="2.0" stroke-dasharray="3.8,2.4"/>
<text x="89.40" y="151.13" font-family="'Liberation Serif', serif" font-size="9.6" font-weight="bold" text-anchor="start" >4.6N</text>
<line x1="66.5" y1="158.70" x2="87.7" y2="158.70" stroke="#8a1c8a" stroke-width="2.0"/>
<text x="89.40" y="162.50" font-family="'Liberation Serif', serif" font-size="9.6" font-weight="bold" text-anchor="start" >5.2N</text>
<line x1="66.5" y1="170.07" x2="87.7" y2="170.07" stroke="#8a1c1c" stroke-width="2.0" stroke-dasharray="3.8,2.4"/>
<text x="89.40" y="173.87" font-family="'Liberation Serif', serif" font-size="9.6" font-weight="bold" text-anchor="start" >6.0N</text>
<line x1="66.5" y1="181.44" x2="87.7" y2="181.44" stroke="#42e442" stroke-width="2.0"/>
<text x="89.40" y="185.24" font-family="'Liberation Serif', serif" font-size="9.6" font-weight="bold" text-anchor="start" >6.5N</text>
<line x1="66.5" y1="192.81" x2="87.7" y2="192.81" stroke="#2a8a2a" stroke-width="2.0" stroke-dasharray="3.8,2.4"/>
<text x="89.40" y="196.61" font-family="'Liberation Serif', serif" font-size="9.6" font-weight="bold" text-anchor="start" >7.4N</text>
<line x1="66.5" y1="204.18" x2="87.7" y2="204.18" stroke="#0c0c80" stroke-width="2.0"/>
<text x="89.40" y="207.98" font-family="'Liberation Serif', serif" font-size="9.6" font-weight="bold" text-anchor="start" >8.0N</text>
<defs>
<filter id="blr" x="0" y="0" width="1" height="1"><feGaussianBlur stdDeviation="0.7"/></filter>
<clipPath id="cin"><rect x="266.8" y="109.8" width="52.2" height="90.8"/></clipPath>
<linearGradient id="wood" x1="0" y1="0" x2="1" y2="0">
<stop offset="0" stop-color="#86603e"/><stop offset="0.15" stop-color="#9a7450"/><stop offset="0.3" stop-color="#8e6a48"/><stop offset="0.42" stop-color="#a98460"/>
<stop offset="0.55" stop-color="#94704c"/><stop offset="0.7" stop-color="#a27c58"/><stop offset="0.85" stop-color="#8e6a48"/><stop offset="1" stop-color="#80603e"/></linearGradient>
<linearGradient id="metal" x1="0" y1="0" x2="0" y2="1">
<stop offset="0" stop-color="#5a5a5a"/><stop offset="0.08" stop-color="#e6e6e6"/><stop offset="0.2" stop-color="#cacaca"/>
<stop offset="0.27" stop-color="#6e6e6e"/><stop offset="0.34" stop-color="#f0f0f0"/><stop offset="0.46" stop-color="#d2d2d2"/>
<stop offset="0.53" stop-color="#7a7a7a"/><stop offset="0.6" stop-color="#e8e8e8"/><stop offset="0.7" stop-color="#c4c4c4"/>
<stop offset="0.78" stop-color="#5e5e5e"/><stop offset="0.86" stop-color="#d6d6d6"/><stop offset="1" stop-color="#9a9a9a"/></linearGradient>
<linearGradient id="rbg" x1="0" y1="0" x2="1" y2="0">
<stop offset="0" stop-color="#a6a6a6"/><stop offset="0.35" stop-color="#b2b2b2"/><stop offset="0.5" stop-color="#cdcdcd"/><stop offset="0.7" stop-color="#e2e2e2"/><stop offset="0.85" stop-color="#c4c4c4"/><stop offset="1" stop-color="#8c8c8c"/></linearGradient>
</defs>
<g clip-path="url(#cin)"><g filter="url(#blr)">
<rect x="264" y="107" width="58" height="96" fill="#b0b0b0"/>
<rect x="264" y="107" width="13" height="17" fill="#9c9c9c"/>
<rect x="264" y="122" width="12" height="19" fill="#1e2a44"/>
<rect x="264" y="133" width="9" height="9" fill="#4a6898"/>
<rect x="264" y="140" width="13" height="32" fill="#2c2c2e"/>
<rect x="289" y="107" width="33" height="45" fill="url(#rbg)"/>
<rect x="313" y="107" width="9" height="60" fill="#8c8c8c"/>
<rect x="289" y="139" width="14" height="33" fill="#1f2130"/>
<rect x="302.5" y="150" width="11" height="22" fill="#a4977e"/>
<rect x="313" y="150" width="9" height="22" fill="#4f4b46"/>
<rect x="264" y="170" width="58" height="33" fill="url(#metal)"/>
<rect x="300" y="170" width="22" height="33" fill="#303030" opacity="0.18"/>
<rect x="276.1" y="107" width="13.8" height="47.5" fill="url(#wood)"/>
<rect x="276.1" y="164.3" width="13.8" height="38" fill="url(#wood)"/>
<rect x="280.9" y="154" width="4.3" height="10.5" fill="#c9b9b7"/>
</g>
<path d="M281.1,127.8 h3.7 v14.4 h3.7 l-5.55,11 l-5.55,-11 h3.7 z" fill="#1fe01f"/>
<path d="M281.1,190.5 h3.7 v-14 h3.4 l-5.25,-11 l-5.25,11 h3.4 z" fill="#1fe01f"/>
</g>
<filter id="fsh" x="-0.5" y="-0.5" width="2" height="2"><feGaussianBlur stdDeviation="0.8"/></filter>
<text x="290.8" y="146.6" font-family="'Liberation Serif', serif" font-size="19.5" font-weight="bold" fill="#2a2a2a" stroke="#2a2a2a" stroke-width="1.6" opacity="0.6" filter="url(#fsh)">F</text>
<text x="290.4" y="146.3" font-family="'Liberation Serif', serif" font-size="19.5" font-weight="bold" fill="#fff" stroke="#fff" stroke-width="0.7">F</text>
<rect x="58" y="26" width="267" height="196" fill="none" stroke="#000" stroke-width="1.6"/>
<line x1="58.00" y1="222.00" x2="58.00" y2="217.50" stroke="#000" stroke-width="1.6" />
<line x1="102.50" y1="222.00" x2="102.50" y2="217.50" stroke="#000" stroke-width="1.6" />
<line x1="147.00" y1="222.00" x2="147.00" y2="217.50" stroke="#000" stroke-width="1.6" />
<line x1="191.50" y1="222.00" x2="191.50" y2="217.50" stroke="#000" stroke-width="1.6" />
<line x1="236.00" y1="222.00" x2="236.00" y2="217.50" stroke="#000" stroke-width="1.6" />
<line x1="280.50" y1="222.00" x2="280.50" y2="217.50" stroke="#000" stroke-width="1.6" />
<line x1="325.00" y1="222.00" x2="325.00" y2="217.50" stroke="#000" stroke-width="1.6" />
<line x1="80.25" y1="222.00" x2="80.25" y2="219.20" stroke="#000" stroke-width="1.6" />
<line x1="124.75" y1="222.00" x2="124.75" y2="219.20" stroke="#000" stroke-width="1.6" />
<line x1="169.25" y1="222.00" x2="169.25" y2="219.20" stroke="#000" stroke-width="1.6" />
<line x1="213.75" y1="222.00" x2="213.75" y2="219.20" stroke="#000" stroke-width="1.6" />
<line x1="258.25" y1="222.00" x2="258.25" y2="219.20" stroke="#000" stroke-width="1.6" />
<line x1="302.75" y1="222.00" x2="302.75" y2="219.20" stroke="#000" stroke-width="1.6" />
<text x="58.00" y="235.50" font-family="'Liberation Serif', serif" font-size="12.5" font-weight="bold" text-anchor="middle" >11.6</text>
<text x="102.50" y="235.50" font-family="'Liberation Serif', serif" font-size="12.5" font-weight="bold" text-anchor="middle" >11.7</text>
<text x="147.00" y="235.50" font-family="'Liberation Serif', serif" font-size="12.5" font-weight="bold" text-anchor="middle" >11.8</text>
<text x="191.50" y="235.50" font-family="'Liberation Serif', serif" font-size="12.5" font-weight="bold" text-anchor="middle" >11.9</text>
<text x="236.00" y="235.50" font-family="'Liberation Serif', serif" font-size="12.5" font-weight="bold" text-anchor="middle" >12.0</text>
<text x="280.50" y="235.50" font-family="'Liberation Serif', serif" font-size="12.5" font-weight="bold" text-anchor="middle" >12.1</text>
<text x="325.00" y="235.50" font-family="'Liberation Serif', serif" font-size="12.5" font-weight="bold" text-anchor="middle" >12.2</text>
<line x1="58.00" y1="47.00" x2="62.50" y2="47.00" stroke="#000" stroke-width="1.6" />
<line x1="58.00" y1="82.00" x2="62.50" y2="82.00" stroke="#000" stroke-width="1.6" />
<line x1="58.00" y1="117.00" x2="62.50" y2="117.00" stroke="#000" stroke-width="1.6" />
<line x1="58.00" y1="152.00" x2="62.50" y2="152.00" stroke="#000" stroke-width="1.6" />
<line x1="58.00" y1="187.00" x2="62.50" y2="187.00" stroke="#000" stroke-width="1.6" />
<line x1="58.00" y1="222.00" x2="62.50" y2="222.00" stroke="#000" stroke-width="1.6" />
<line x1="58.00" y1="64.50" x2="60.80" y2="64.50" stroke="#000" stroke-width="1.6" />
<line x1="58.00" y1="99.50" x2="60.80" y2="99.50" stroke="#000" stroke-width="1.6" />
<line x1="58.00" y1="134.50" x2="60.80" y2="134.50" stroke="#000" stroke-width="1.6" />
<line x1="58.00" y1="169.50" x2="60.80" y2="169.50" stroke="#000" stroke-width="1.6" />
<line x1="58.00" y1="204.50" x2="60.80" y2="204.50" stroke="#000" stroke-width="1.6" />
<line x1="58.00" y1="29.50" x2="60.80" y2="29.50" stroke="#000" stroke-width="1.6" />
<text x="53.30" y="50.00" font-family="'Liberation Serif', serif" font-size="12.5" font-weight="bold" text-anchor="end" >0</text>
<text x="53.30" y="85.00" font-family="'Liberation Serif', serif" font-size="12.5" font-weight="bold" text-anchor="end" >-5</text>
<text x="53.30" y="120.00" font-family="'Liberation Serif', serif" font-size="12.5" font-weight="bold" text-anchor="end" >-10</text>
<text x="53.30" y="155.00" font-family="'Liberation Serif', serif" font-size="12.5" font-weight="bold" text-anchor="end" >-15</text>
<text x="53.30" y="190.00" font-family="'Liberation Serif', serif" font-size="12.5" font-weight="bold" text-anchor="end" >-20</text>
<text x="53.30" y="225.00" font-family="'Liberation Serif', serif" font-size="12.5" font-weight="bold" text-anchor="end" >-25</text>
<text x="191.70" y="252.60" font-family="'Liberation Serif', serif" font-size="12.5" font-weight="bold" text-anchor="middle" >Frequency (GHz)</text>
<text x="27.30" y="128.00" font-family="'Liberation Serif', serif" font-size="12.5" font-weight="bold" text-anchor="middle" transform="rotate(-90 27.3 128)">Transmission (dB)</text>
<text x="8.20" y="14.80" font-family="'Liberation Serif', serif" font-size="19" font-weight="normal" text-anchor="start" >(a)</text>
<rect x="391" y="27.6" width="279" height="205.4" fill="none" stroke="#000" stroke-width="1.6"/>
<line x1="406.50" y1="233.00" x2="406.50" y2="228.50" stroke="#000" stroke-width="1.6" />
<line x1="437.50" y1="233.00" x2="437.50" y2="228.50" stroke="#000" stroke-width="1.6" />
<line x1="468.50" y1="233.00" x2="468.50" y2="228.50" stroke="#000" stroke-width="1.6" />
<line x1="499.50" y1="233.00" x2="499.50" y2="228.50" stroke="#000" stroke-width="1.6" />
<line x1="530.50" y1="233.00" x2="530.50" y2="228.50" stroke="#000" stroke-width="1.6" />
<line x1="561.50" y1="233.00" x2="561.50" y2="228.50" stroke="#000" stroke-width="1.6" />
<line x1="592.50" y1="233.00" x2="592.50" y2="228.50" stroke="#000" stroke-width="1.6" />
<line x1="623.50" y1="233.00" x2="623.50" y2="228.50" stroke="#000" stroke-width="1.6" />
<line x1="654.50" y1="233.00" x2="654.50" y2="228.50" stroke="#000" stroke-width="1.6" />
<line x1="422.00" y1="233.00" x2="422.00" y2="230.20" stroke="#000" stroke-width="1.6" />
<line x1="453.00" y1="233.00" x2="453.00" y2="230.20" stroke="#000" stroke-width="1.6" />
<line x1="484.00" y1="233.00" x2="484.00" y2="230.20" stroke="#000" stroke-width="1.6" />
<line x1="515.00" y1="233.00" x2="515.00" y2="230.20" stroke="#000" stroke-width="1.6" />
<line x1="546.00" y1="233.00" x2="546.00" y2="230.20" stroke="#000" stroke-width="1.6" />
<line x1="577.00" y1="233.00" x2="577.00" y2="230.20" stroke="#000" stroke-width="1.6" />
<line x1="608.00" y1="233.00" x2="608.00" y2="230.20" stroke="#000" stroke-width="1.6" />
<line x1="639.00" y1="233.00" x2="639.00" y2="230.20" stroke="#000" stroke-width="1.6" />
<line x1="670.00" y1="233.00" x2="670.00" y2="230.20" stroke="#000" stroke-width="1.6" />
<text x="406.50" y="246.60" font-family="'Liberation Serif', serif" font-size="12.5" font-weight="bold" text-anchor="middle" >0</text>
<text x="437.50" y="246.60" font-family="'Liberation Serif', serif" font-size="12.5" font-weight="bold" text-anchor="middle" >1</text>
<text x="468.50" y="246.60" font-family="'Liberation Serif', serif" font-size="12.5" font-weight="bold" text-anchor="middle" >2</text>
<text x="499.50" y="246.60" font-family="'Liberation Serif', serif" font-size="12.5" font-weight="bold" text-anchor="middle" >3</text>
<text x="530.50" y="246.60" font-family="'Liberation Serif', serif" font-size="12.5" font-weight="bold" text-anchor="middle" >4</text>
<text x="561.50" y="246.60" font-family="'Liberation Serif', serif" font-size="12.5" font-weight="bold" text-anchor="middle" >5</text>
<text x="592.50" y="246.60" font-family="'Liberation Serif', serif" font-size="12.5" font-weight="bold" text-anchor="middle" >6</text>
<text x="623.50" y="246.60" font-family="'Liberation Serif', serif" font-size="12.5" font-weight="bold" text-anchor="middle" >7</text>
<text x="654.50" y="246.60" font-family="'Liberation Serif', serif" font-size="12.5" font-weight="bold" text-anchor="middle" >8</text>
<line x1="391.00" y1="38.41" x2="395.50" y2="38.41" stroke="#000" stroke-width="1.6" />
<line x1="391.00" y1="60.03" x2="395.50" y2="60.03" stroke="#000" stroke-width="1.6" />
<line x1="391.00" y1="81.65" x2="395.50" y2="81.65" stroke="#000" stroke-width="1.6" />
<line x1="391.00" y1="103.27" x2="395.50" y2="103.27" stroke="#000" stroke-width="1.6" />
<line x1="391.00" y1="124.89" x2="395.50" y2="124.89" stroke="#000" stroke-width="1.6" />
<line x1="391.00" y1="146.52" x2="395.50" y2="146.52" stroke="#000" stroke-width="1.6" />
<line x1="391.00" y1="168.14" x2="395.50" y2="168.14" stroke="#000" stroke-width="1.6" />
<line x1="391.00" y1="189.76" x2="395.50" y2="189.76" stroke="#000" stroke-width="1.6" />
<line x1="391.00" y1="211.38" x2="395.50" y2="211.38" stroke="#000" stroke-width="1.6" />
<line x1="391.00" y1="233.00" x2="395.50" y2="233.00" stroke="#000" stroke-width="1.6" />
<line x1="391.00" y1="49.22" x2="393.80" y2="49.22" stroke="#000" stroke-width="1.6" />
<line x1="391.00" y1="70.84" x2="393.80" y2="70.84" stroke="#000" stroke-width="1.6" />
<line x1="391.00" y1="92.46" x2="393.80" y2="92.46" stroke="#000" stroke-width="1.6" />
<line x1="391.00" y1="114.08" x2="393.80" y2="114.08" stroke="#000" stroke-width="1.6" />
<line x1="391.00" y1="135.71" x2="393.80" y2="135.71" stroke="#000" stroke-width="1.6" />
<line x1="391.00" y1="157.33" x2="393.80" y2="157.33" stroke="#000" stroke-width="1.6" />
<line x1="391.00" y1="178.95" x2="393.80" y2="178.95" stroke="#000" stroke-width="1.6" />
<line x1="391.00" y1="200.57" x2="393.80" y2="200.57" stroke="#000" stroke-width="1.6" />
<line x1="391.00" y1="222.19" x2="393.80" y2="222.19" stroke="#000" stroke-width="1.6" />
<text x="386.50" y="42.41" font-family="'Liberation Serif', serif" font-size="12.5" font-weight="bold" text-anchor="end" >0.00</text>
<text x="386.50" y="64.03" font-family="'Liberation Serif', serif" font-size="12.5" font-weight="bold" text-anchor="end" >-0.02</text>
<text x="386.50" y="85.65" font-family="'Liberation Serif', serif" font-size="12.5" font-weight="bold" text-anchor="end" >-0.04</text>
<text x="386.50" y="107.27" font-family="'Liberation Serif', serif" font-size="12.5" font-weight="bold" text-anchor="end" >-0.06</text>
<text x="386.50" y="128.89" font-family="'Liberation Serif', serif" font-size="12.5" font-weight="bold" text-anchor="end" >-0.08</text>
<text x="386.50" y="150.52" font-family="'Liberation Serif', serif" font-size="12.5" font-weight="bold" text-anchor="end" >-0.10</text>
<text x="386.50" y="172.14" font-family="'Liberation Serif', serif" font-size="12.5" font-weight="bold" text-anchor="end" >-0.12</text>
<text x="386.50" y="193.76" font-family="'Liberation Serif', serif" font-size="12.5" font-weight="bold" text-anchor="end" >-0.14</text>
<text x="386.50" y="215.38" font-family="'Liberation Serif', serif" font-size="12.5" font-weight="bold" text-anchor="end" >-0.16</text>
<text x="386.50" y="237.00" font-family="'Liberation Serif', serif" font-size="12.5" font-weight="bold" text-anchor="end" >-0.18</text>
<text x="525.00" y="264.20" font-family="'Liberation Serif', serif" font-size="12.5" font-weight="bold" text-anchor="middle" >Force (N)</text>
<text x="353.30" y="138.40" font-family="'Liberation Serif', serif" font-size="12.5" font-weight="bold" text-anchor="middle" transform="rotate(-90 353.3 138.4)">&#916;f (GHz)</text>
<text x="346.60" y="14.80" font-family="'Liberation Serif', serif" font-size="19" font-weight="normal" text-anchor="start" >(b)</text>
<line x1="461.90" y1="59.00" x2="461.90" y2="65.00" stroke="#141414" stroke-width="1.2" />
<line x1="459.00" y1="59.00" x2="464.80" y2="59.00" stroke="#141414" stroke-width="1.2" />
<line x1="459.00" y1="65.00" x2="464.80" y2="65.00" stroke="#141414" stroke-width="1.2" />
<line x1="499.20" y1="84.40" x2="499.20" y2="89.20" stroke="#141414" stroke-width="1.2" />
<line x1="496.30" y1="84.40" x2="502.10" y2="84.40" stroke="#141414" stroke-width="1.2" />
<line x1="496.30" y1="89.20" x2="502.10" y2="89.20" stroke="#141414" stroke-width="1.2" />
<line x1="511.70" y1="92.70" x2="511.70" y2="102.30" stroke="#141414" stroke-width="1.2" />
<line x1="508.80" y1="92.70" x2="514.60" y2="92.70" stroke="#141414" stroke-width="1.2" />
<line x1="508.80" y1="102.30" x2="514.60" y2="102.30" stroke="#141414" stroke-width="1.2" />
<line x1="536.20" y1="106.50" x2="536.20" y2="121.90" stroke="#141414" stroke-width="1.2" />
<line x1="533.30" y1="106.50" x2="539.10" y2="106.50" stroke="#141414" stroke-width="1.2" />
<line x1="533.30" y1="121.90" x2="539.10" y2="121.90" stroke="#141414" stroke-width="1.2" />
<line x1="548.70" y1="117.10" x2="548.70" y2="124.20" stroke="#141414" stroke-width="1.2" />
<line x1="545.80" y1="117.10" x2="551.60" y2="117.10" stroke="#141414" stroke-width="1.2" />
<line x1="545.80" y1="124.20" x2="551.60" y2="124.20" stroke="#141414" stroke-width="1.2" />
<line x1="555.00" y1="124.40" x2="555.00" y2="136.00" stroke="#141414" stroke-width="1.2" />
<line x1="552.10" y1="124.40" x2="557.90" y2="124.40" stroke="#141414" stroke-width="1.2" />
<line x1="552.10" y1="136.00" x2="557.90" y2="136.00" stroke="#141414" stroke-width="1.2" />
<line x1="567.50" y1="127.30" x2="567.50" y2="152.30" stroke="#141414" stroke-width="1.2" />
<line x1="564.60" y1="127.30" x2="570.40" y2="127.30" stroke="#141414" stroke-width="1.2" />
<line x1="564.60" y1="152.30" x2="570.40" y2="152.30" stroke="#141414" stroke-width="1.2" />
<line x1="579.30" y1="135.40" x2="579.30" y2="155.60" stroke="#141414" stroke-width="1.2" />
<line x1="576.40" y1="135.40" x2="582.20" y2="135.40" stroke="#141414" stroke-width="1.2" />
<line x1="576.40" y1="155.60" x2="582.20" y2="155.60" stroke="#141414" stroke-width="1.2" />
<line x1="586.00" y1="138.30" x2="586.00" y2="162.90" stroke="#141414" stroke-width="1.2" />
<line x1="583.10" y1="138.30" x2="588.90" y2="138.30" stroke="#141414" stroke-width="1.2" />
<line x1="583.10" y1="162.90" x2="588.90" y2="162.90" stroke="#141414" stroke-width="1.2" />
<line x1="595.00" y1="147.30" x2="595.00" y2="172.90" stroke="#141414" stroke-width="1.2" />
<line x1="592.10" y1="147.30" x2="597.90" y2="147.30" stroke="#141414" stroke-width="1.2" />
<line x1="592.10" y1="172.90" x2="597.90" y2="172.90" stroke="#141414" stroke-width="1.2" />
<line x1="601.30" y1="150.20" x2="601.30" y2="185.40" stroke="#141414" stroke-width="1.2" />
<line x1="598.40" y1="150.20" x2="604.20" y2="150.20" stroke="#141414" stroke-width="1.2" />
<line x1="598.40" y1="185.40" x2="604.20" y2="185.40" stroke="#141414" stroke-width="1.2" />
<line x1="613.80" y1="156.90" x2="613.80" y2="179.20" stroke="#141414" stroke-width="1.2" />
<line x1="610.90" y1="156.90" x2="616.70" y2="156.90" stroke="#141414" stroke-width="1.2" />
<line x1="610.90" y1="179.20" x2="616.70" y2="179.20" stroke="#141414" stroke-width="1.2" />
<line x1="620.00" y1="153.10" x2="620.00" y2="183.10" stroke="#141414" stroke-width="1.2" />
<line x1="617.10" y1="153.10" x2="622.90" y2="153.10" stroke="#141414" stroke-width="1.2" />
<line x1="617.10" y1="183.10" x2="622.90" y2="183.10" stroke="#141414" stroke-width="1.2" />
<line x1="635.40" y1="167.10" x2="635.40" y2="196.90" stroke="#141414" stroke-width="1.2" />
<line x1="632.50" y1="167.10" x2="638.30" y2="167.10" stroke="#141414" stroke-width="1.2" />
<line x1="632.50" y1="196.90" x2="638.30" y2="196.90" stroke="#141414" stroke-width="1.2" />
<line x1="645.00" y1="176.20" x2="645.00" y2="206.90" stroke="#141414" stroke-width="1.2" />
<line x1="642.10" y1="176.20" x2="647.90" y2="176.20" stroke="#141414" stroke-width="1.2" />
<line x1="642.10" y1="206.90" x2="647.90" y2="206.90" stroke="#141414" stroke-width="1.2" />
<line x1="660.40" y1="185.40" x2="660.40" y2="217.10" stroke="#141414" stroke-width="1.2" />
<line x1="657.50" y1="185.40" x2="663.30" y2="185.40" stroke="#141414" stroke-width="1.2" />
<line x1="657.50" y1="217.10" x2="663.30" y2="217.10" stroke="#141414" stroke-width="1.2" />
<circle cx="405.8" cy="38.5" r="2.55" fill="#f01010"/>
<circle cx="418.4" cy="45.4" r="2.7" fill="#7a0e0e" stroke="#2a0404" stroke-width="0.8"/>
<circle cx="430.8" cy="49.2" r="2.7" fill="#7a0e0e" stroke="#2a0404" stroke-width="0.8"/>
<circle cx="440.4" cy="53.8" r="2.7" fill="#7a0e0e" stroke="#2a0404" stroke-width="0.8"/>
<circle cx="446.8" cy="57.2" r="2.7" fill="#7a0e0e" stroke="#2a0404" stroke-width="0.8"/>
<circle cx="455.5" cy="58.8" r="2.7" fill="#7a0e0e" stroke="#2a0404" stroke-width="0.8"/>
<circle cx="461.9" cy="62.0" r="2.55" fill="#f01010"/>
<circle cx="465" cy="65.1" r="2.7" fill="#7a0e0e" stroke="#2a0404" stroke-width="0.8"/>
<circle cx="471.2" cy="67.7" r="2.7" fill="#7a0e0e" stroke="#2a0404" stroke-width="0.8"/>
<circle cx="480.4" cy="71.8" r="2.7" fill="#7a0e0e" stroke="#2a0404" stroke-width="0.8"/>
<circle cx="489.6" cy="78.9" r="2.7" fill="#7a0e0e" stroke="#2a0404" stroke-width="0.8"/>
<circle cx="493.5" cy="82.3" r="2.7" fill="#7a0e0e" stroke="#2a0404" stroke-width="0.8"/>
<circle cx="499.2" cy="86.9" r="2.55" fill="#f01010"/>
<circle cx="505.6" cy="90.2" r="2.7" fill="#7a0e0e" stroke="#2a0404" stroke-width="0.8"/>
<circle cx="511.7" cy="97.9" r="2.55" fill="#f01010"/>
<circle cx="520.8" cy="100.8" r="2.7" fill="#7a0e0e" stroke="#2a0404" stroke-width="0.8"/>
<circle cx="527.1" cy="105" r="2.7" fill="#7a0e0e" stroke="#2a0404" stroke-width="0.8"/>
<circle cx="536.2" cy="114.6" r="2.55" fill="#f01010"/>
<circle cx="548.7" cy="120.6" r="2.55" fill="#f01010"/>
<circle cx="555" cy="130" r="2.55" fill="#f01010"/>
<circle cx="567.5" cy="139.8" r="2.55" fill="#f01010"/>
<circle cx="579.3" cy="145.6" r="2.55" fill="#f01010"/>
<circle cx="586" cy="150.8" r="2.55" fill="#f01010"/>
<circle cx="595" cy="160" r="2.55" fill="#f01010"/>
<circle cx="601.3" cy="167.7" r="2.55" fill="#f01010"/>
<circle cx="613.8" cy="168.5" r="2.55" fill="#f01010"/>
<circle cx="620" cy="168.1" r="2.55" fill="#f01010"/>
<circle cx="635.4" cy="182.1" r="2.55" fill="#f01010"/>
<circle cx="645" cy="191.5" r="2.55" fill="#f01010"/>
<circle cx="660.4" cy="201.3" r="2.55" fill="#f01010"/>
<path d="M406.5,38.4 L409.6,39.9 L412.7,41.3 L415.8,42.8 L418.9,44.3 L422.0,45.8 L425.1,47.3 L428.2,48.8 L431.3,50.4 L434.4,52.0 L437.5,53.5 L440.6,55.1 L443.7,56.7 L446.8,58.4 L449.9,60.0 L453.0,61.7 L456.1,63.3 L459.2,65.0 L462.3,66.7 L465.4,68.4 L468.5,70.2 L471.6,71.9 L474.7,73.7 L477.8,75.5 L480.9,77.2 L484.0,79.1 L487.1,80.9 L490.2,82.7 L493.3,84.6 L496.4,86.4 L499.5,88.3 L502.6,90.2 L505.7,92.1 L508.8,94.0 L511.9,96.0 L515.0,97.9 L518.1,99.9 L521.2,101.9 L524.3,103.9 L527.4,105.9 L530.5,107.9 L533.6,110.0 L536.7,112.1 L539.8,114.1 L542.9,116.2 L546.0,118.3 L549.1,120.4 L552.2,122.6 L555.3,124.7 L558.4,126.9 L561.5,129.1 L564.6,131.3 L567.7,133.5 L570.8,135.7 L573.9,138.0 L577.0,140.2 L580.1,142.5 L583.2,144.8 L586.3,147.1 L589.4,149.4 L592.5,151.7 L595.6,154.1 L598.7,156.4 L601.8,158.8 L604.9,161.2 L608.0,163.6 L611.1,166.0 L614.2,168.5 L617.3,170.9 L620.4,173.4 L623.5,175.9 L626.6,178.4 L629.7,180.9 L632.8,183.4 L635.9,186.0 L639.0,188.5 L642.1,191.1 L645.2,193.7 L648.3,196.3 L651.4,198.9 L654.5,201.5 L657.6,204.2 L660.7,206.8" stroke="#1010c8" stroke-width="1.85" fill="none"/>
<rect x="494.9" y="37.9" width="170.9" height="35.2" fill="#fff" stroke="#9a9a9a" stroke-width="0.9"/>
<circle cx="516" cy="48.3" r="2.8" fill="#ee1111"/>
<line x1="502.50" y1="63.20" x2="530.10" y2="63.20" stroke="#1010c0" stroke-width="1.6" />
<text x="533.50" y="52.50" font-family="'Liberation Sans', sans-serif" font-size="11.9" font-weight="bold" text-anchor="start" >Measured values</text>
<text x="533.50" y="67.40" font-family="'Liberation Sans', sans-serif" font-size="11.9" font-weight="bold" text-anchor="start" >Quadratic fitted curve</text>
<text x="415.30" y="176.90" font-family="'Liberation Serif', serif" font-size="14" font-weight="bold" text-anchor="start" textLength="157.3" lengthAdjust="spacingAndGlyphs">&#916;<tspan font-style="italic">f</tspan> = -0.0133&#215;<tspan font-style="italic">F</tspan>-0.000695&#215;<tspan font-style="italic">F</tspan><tspan font-size="8.5" dy="-5.5">2</tspan></text>
<rect x="49.8" y="274.5" width="283.59999999999997" height="208.2" fill="none" stroke="#000" stroke-width="1.6"/>
<line x1="65.13" y1="482.70" x2="65.13" y2="478.20" stroke="#000" stroke-width="1.6" />
<line x1="103.45" y1="482.70" x2="103.45" y2="478.20" stroke="#000" stroke-width="1.6" />
<line x1="141.78" y1="482.70" x2="141.78" y2="478.20" stroke="#000" stroke-width="1.6" />
<line x1="180.10" y1="482.70" x2="180.10" y2="478.20" stroke="#000" stroke-width="1.6" />
<line x1="218.43" y1="482.70" x2="218.43" y2="478.20" stroke="#000" stroke-width="1.6" />
<line x1="256.75" y1="482.70" x2="256.75" y2="478.20" stroke="#000" stroke-width="1.6" />
<line x1="295.08" y1="482.70" x2="295.08" y2="478.20" stroke="#000" stroke-width="1.6" />
<line x1="333.40" y1="482.70" x2="333.40" y2="478.20" stroke="#000" stroke-width="1.6" />
<line x1="84.29" y1="482.70" x2="84.29" y2="479.90" stroke="#000" stroke-width="1.6" />
<line x1="122.62" y1="482.70" x2="122.62" y2="479.90" stroke="#000" stroke-width="1.6" />
<line x1="160.94" y1="482.70" x2="160.94" y2="479.90" stroke="#000" stroke-width="1.6" />
<line x1="199.26" y1="482.70" x2="199.26" y2="479.90" stroke="#000" stroke-width="1.6" />
<line x1="237.59" y1="482.70" x2="237.59" y2="479.90" stroke="#000" stroke-width="1.6" />
<line x1="275.91" y1="482.70" x2="275.91" y2="479.90" stroke="#000" stroke-width="1.6" />
<line x1="314.24" y1="482.70" x2="314.24" y2="479.90" stroke="#000" stroke-width="1.6" />
<text x="65.13" y="496.80" font-family="'Liberation Serif', serif" font-size="12.5" font-weight="bold" text-anchor="middle" >0.00</text>
<text x="103.45" y="496.80" font-family="'Liberation Serif', serif" font-size="12.5" font-weight="bold" text-anchor="middle" >0.05</text>
<text x="141.78" y="496.80" font-family="'Liberation Serif', serif" font-size="12.5" font-weight="bold" text-anchor="middle" >0.10</text>
<text x="180.10" y="496.80" font-family="'Liberation Serif', serif" font-size="12.5" font-weight="bold" text-anchor="middle" >0.15</text>
<text x="218.43" y="496.80" font-family="'Liberation Serif', serif" font-size="12.5" font-weight="bold" text-anchor="middle" >0.20</text>
<text x="256.75" y="496.80" font-family="'Liberation Serif', serif" font-size="12.5" font-weight="bold" text-anchor="middle" >0.25</text>
<text x="295.08" y="496.80" font-family="'Liberation Serif', serif" font-size="12.5" font-weight="bold" text-anchor="middle" >0.30</text>
<text x="333.40" y="496.80" font-family="'Liberation Serif', serif" font-size="12.5" font-weight="bold" text-anchor="middle" >0.35</text>
<line x1="49.80" y1="285.46" x2="54.30" y2="285.46" stroke="#000" stroke-width="1.6" />
<line x1="49.80" y1="307.37" x2="54.30" y2="307.37" stroke="#000" stroke-width="1.6" />
<line x1="49.80" y1="329.29" x2="54.30" y2="329.29" stroke="#000" stroke-width="1.6" />
<line x1="49.80" y1="351.21" x2="54.30" y2="351.21" stroke="#000" stroke-width="1.6" />
<line x1="49.80" y1="373.12" x2="54.30" y2="373.12" stroke="#000" stroke-width="1.6" />
<line x1="49.80" y1="395.04" x2="54.30" y2="395.04" stroke="#000" stroke-width="1.6" />
<line x1="49.80" y1="416.95" x2="54.30" y2="416.95" stroke="#000" stroke-width="1.6" />
<line x1="49.80" y1="438.87" x2="54.30" y2="438.87" stroke="#000" stroke-width="1.6" />
<line x1="49.80" y1="460.78" x2="54.30" y2="460.78" stroke="#000" stroke-width="1.6" />
<line x1="49.80" y1="482.70" x2="54.30" y2="482.70" stroke="#000" stroke-width="1.6" />
<line x1="49.80" y1="296.42" x2="52.60" y2="296.42" stroke="#000" stroke-width="1.6" />
<line x1="49.80" y1="318.33" x2="52.60" y2="318.33" stroke="#000" stroke-width="1.6" />
<line x1="49.80" y1="340.25" x2="52.60" y2="340.25" stroke="#000" stroke-width="1.6" />
<line x1="49.80" y1="362.16" x2="52.60" y2="362.16" stroke="#000" stroke-width="1.6" />
<line x1="49.80" y1="384.08" x2="52.60" y2="384.08" stroke="#000" stroke-width="1.6" />
<line x1="49.80" y1="405.99" x2="52.60" y2="405.99" stroke="#000" stroke-width="1.6" />
<line x1="49.80" y1="427.91" x2="52.60" y2="427.91" stroke="#000" stroke-width="1.6" />
<line x1="49.80" y1="449.83" x2="52.60" y2="449.83" stroke="#000" stroke-width="1.6" />
<line x1="49.80" y1="471.74" x2="52.60" y2="471.74" stroke="#000" stroke-width="1.6" />
<text x="44.90" y="289.06" font-family="'Liberation Serif', serif" font-size="12.5" font-weight="bold" text-anchor="end" >0.00</text>
<text x="44.90" y="310.97" font-family="'Liberation Serif', serif" font-size="12.5" font-weight="bold" text-anchor="end" >-0.02</text>
<text x="44.90" y="332.89" font-family="'Liberation Serif', serif" font-size="12.5" font-weight="bold" text-anchor="end" >-0.04</text>
<text x="44.90" y="354.81" font-family="'Liberation Serif', serif" font-size="12.5" font-weight="bold" text-anchor="end" >-0.06</text>
<text x="44.90" y="376.72" font-family="'Liberation Serif', serif" font-size="12.5" font-weight="bold" text-anchor="end" >-0.08</text>
<text x="44.90" y="398.64" font-family="'Liberation Serif', serif" font-size="12.5" font-weight="bold" text-anchor="end" >-0.10</text>
<text x="44.90" y="420.55" font-family="'Liberation Serif', serif" font-size="12.5" font-weight="bold" text-anchor="end" >-0.12</text>
<text x="44.90" y="442.47" font-family="'Liberation Serif', serif" font-size="12.5" font-weight="bold" text-anchor="end" >-0.14</text>
<text x="44.90" y="464.38" font-family="'Liberation Serif', serif" font-size="12.5" font-weight="bold" text-anchor="end" >-0.16</text>
<text x="44.90" y="486.30" font-family="'Liberation Serif', serif" font-size="12.5" font-weight="bold" text-anchor="end" >-0.18</text>
<text x="196.50" y="516.20" font-family="'Liberation Serif', serif" font-size="12.9" font-weight="bold" text-anchor="middle" >Strain</text>
<text x="11.90" y="386.60" font-family="'Liberation Serif', serif" font-size="12.8" font-weight="bold" text-anchor="middle" transform="rotate(-90 11.7 386.6)">&#916;f (GHz)</text>
<text x="8.20" y="272.30" font-family="'Liberation Serif', serif" font-size="19" font-weight="normal" text-anchor="start" >(c)</text>
<line x1="105.80" y1="307.10" x2="105.80" y2="312.10" stroke="#141414" stroke-width="1.2" />
<line x1="102.90" y1="307.10" x2="108.70" y2="307.10" stroke="#141414" stroke-width="1.2" />
<line x1="102.90" y1="312.10" x2="108.70" y2="312.10" stroke="#141414" stroke-width="1.2" />
<line x1="161.50" y1="331.90" x2="161.50" y2="336.70" stroke="#141414" stroke-width="1.2" />
<line x1="158.60" y1="331.90" x2="164.40" y2="331.90" stroke="#141414" stroke-width="1.2" />
<line x1="158.60" y1="336.70" x2="164.40" y2="336.70" stroke="#141414" stroke-width="1.2" />
<line x1="178.10" y1="340.00" x2="178.10" y2="350.00" stroke="#141414" stroke-width="1.2" />
<line x1="175.20" y1="340.00" x2="181.00" y2="340.00" stroke="#141414" stroke-width="1.2" />
<line x1="175.20" y1="350.00" x2="181.00" y2="350.00" stroke="#141414" stroke-width="1.2" />
<line x1="209.60" y1="354.40" x2="209.60" y2="369.80" stroke="#141414" stroke-width="1.2" />
<line x1="206.70" y1="354.40" x2="212.50" y2="354.40" stroke="#141414" stroke-width="1.2" />
<line x1="206.70" y1="369.80" x2="212.50" y2="369.80" stroke="#141414" stroke-width="1.2" />
<line x1="223.10" y1="365.00" x2="223.10" y2="372.50" stroke="#141414" stroke-width="1.2" />
<line x1="220.20" y1="365.00" x2="226.00" y2="365.00" stroke="#141414" stroke-width="1.2" />
<line x1="220.20" y1="372.50" x2="226.00" y2="372.50" stroke="#141414" stroke-width="1.2" />
<line x1="230.80" y1="372.00" x2="230.80" y2="383.90" stroke="#141414" stroke-width="1.2" />
<line x1="227.90" y1="372.00" x2="233.70" y2="372.00" stroke="#141414" stroke-width="1.2" />
<line x1="227.90" y1="383.90" x2="233.70" y2="383.90" stroke="#141414" stroke-width="1.2" />
<line x1="243.60" y1="375.20" x2="243.60" y2="401.30" stroke="#141414" stroke-width="1.2" />
<line x1="240.70" y1="375.20" x2="246.50" y2="375.20" stroke="#141414" stroke-width="1.2" />
<line x1="240.70" y1="401.30" x2="246.50" y2="401.30" stroke="#141414" stroke-width="1.2" />
<line x1="256.30" y1="383.70" x2="256.30" y2="404.40" stroke="#141414" stroke-width="1.2" />
<line x1="253.40" y1="383.70" x2="259.20" y2="383.70" stroke="#141414" stroke-width="1.2" />
<line x1="253.40" y1="404.40" x2="259.20" y2="404.40" stroke="#141414" stroke-width="1.2" />
<line x1="262.70" y1="386.40" x2="262.70" y2="411.80" stroke="#141414" stroke-width="1.2" />
<line x1="259.80" y1="386.40" x2="265.60" y2="386.40" stroke="#141414" stroke-width="1.2" />
<line x1="259.80" y1="411.80" x2="265.60" y2="411.80" stroke="#141414" stroke-width="1.2" />
<line x1="270.50" y1="395.50" x2="270.50" y2="422.00" stroke="#141414" stroke-width="1.2" />
<line x1="267.60" y1="395.50" x2="273.40" y2="395.50" stroke="#141414" stroke-width="1.2" />
<line x1="267.60" y1="422.00" x2="273.40" y2="422.00" stroke="#141414" stroke-width="1.2" />
<line x1="276.40" y1="398.70" x2="276.40" y2="434.50" stroke="#141414" stroke-width="1.2" />
<line x1="273.50" y1="398.70" x2="279.30" y2="398.70" stroke="#141414" stroke-width="1.2" />
<line x1="273.50" y1="434.50" x2="279.30" y2="434.50" stroke="#141414" stroke-width="1.2" />
<line x1="286.80" y1="405.50" x2="286.80" y2="428.30" stroke="#141414" stroke-width="1.2" />
<line x1="283.90" y1="405.50" x2="289.70" y2="405.50" stroke="#141414" stroke-width="1.2" />
<line x1="283.90" y1="428.30" x2="289.70" y2="428.30" stroke="#141414" stroke-width="1.2" />
<line x1="292.30" y1="401.70" x2="292.30" y2="432.30" stroke="#141414" stroke-width="1.2" />
<line x1="289.40" y1="401.70" x2="295.20" y2="401.70" stroke="#141414" stroke-width="1.2" />
<line x1="289.40" y1="432.30" x2="295.20" y2="432.30" stroke="#141414" stroke-width="1.2" />
<line x1="304.30" y1="416.50" x2="304.30" y2="446.10" stroke="#141414" stroke-width="1.2" />
<line x1="301.40" y1="416.50" x2="307.20" y2="416.50" stroke="#141414" stroke-width="1.2" />
<line x1="301.40" y1="446.10" x2="307.20" y2="446.10" stroke="#141414" stroke-width="1.2" />
<line x1="312.80" y1="425.20" x2="312.80" y2="456.30" stroke="#141414" stroke-width="1.2" />
<line x1="309.90" y1="425.20" x2="315.70" y2="425.20" stroke="#141414" stroke-width="1.2" />
<line x1="309.90" y1="456.30" x2="315.70" y2="456.30" stroke="#141414" stroke-width="1.2" />
<line x1="322.30" y1="434.50" x2="322.30" y2="466.80" stroke="#141414" stroke-width="1.2" />
<line x1="319.40" y1="434.50" x2="325.20" y2="434.50" stroke="#141414" stroke-width="1.2" />
<line x1="319.40" y1="466.80" x2="325.20" y2="466.80" stroke="#141414" stroke-width="1.2" />
<circle cx="64.5" cy="285.5" r="2.55" fill="#f01010"/>
<circle cx="71.2" cy="292.2" r="2.7" fill="#7a0e0e" stroke="#2a0404" stroke-width="0.8"/>
<circle cx="80.5" cy="296.5" r="2.7" fill="#7a0e0e" stroke="#2a0404" stroke-width="0.8"/>
<circle cx="87.6" cy="300.8" r="2.7" fill="#7a0e0e" stroke="#2a0404" stroke-width="0.8"/>
<circle cx="92.2" cy="304.2" r="2.7" fill="#7a0e0e" stroke="#2a0404" stroke-width="0.8"/>
<circle cx="99.6" cy="306.2" r="2.7" fill="#7a0e0e" stroke="#2a0404" stroke-width="0.8"/>
<circle cx="105.8" cy="309.6" r="2.55" fill="#f01010"/>
<circle cx="109.2" cy="312.4" r="2.7" fill="#7a0e0e" stroke="#2a0404" stroke-width="0.8"/>
<circle cx="118.4" cy="315.5" r="2.7" fill="#7a0e0e" stroke="#2a0404" stroke-width="0.8"/>
<circle cx="131.9" cy="319.6" r="2.7" fill="#7a0e0e" stroke="#2a0404" stroke-width="0.8"/>
<circle cx="145.8" cy="326.5" r="2.7" fill="#7a0e0e" stroke="#2a0404" stroke-width="0.8"/>
<circle cx="150.6" cy="330.8" r="2.7" fill="#7a0e0e" stroke="#2a0404" stroke-width="0.8"/>
<circle cx="161.5" cy="334.2" r="2.55" fill="#f01010"/>
<circle cx="169.8" cy="338.1" r="2.7" fill="#7a0e0e" stroke="#2a0404" stroke-width="0.8"/>
<circle cx="178.1" cy="344.8" r="2.55" fill="#f01010"/>
<circle cx="190.6" cy="348.3" r="2.7" fill="#7a0e0e" stroke="#2a0404" stroke-width="0.8"/>
<circle cx="197.7" cy="352.9" r="2.7" fill="#7a0e0e" stroke="#2a0404" stroke-width="0.8"/>
<circle cx="209.6" cy="361.7" r="2.55" fill="#f01010"/>
<circle cx="223.1" cy="368.8" r="2.55" fill="#f01010"/>
<circle cx="230.8" cy="378.0" r="2.55" fill="#f01010"/>
<circle cx="243.6" cy="387.9" r="2.55" fill="#f01010"/>
<circle cx="256.3" cy="393.8" r="2.55" fill="#f01010"/>
<circle cx="262.7" cy="399.1" r="2.55" fill="#f01010"/>
<circle cx="270.5" cy="409.1" r="2.55" fill="#f01010"/>
<circle cx="276.4" cy="416.7" r="2.55" fill="#f01010"/>
<circle cx="286.8" cy="416.7" r="2.55" fill="#f01010"/>
<circle cx="292.3" cy="416.7" r="2.55" fill="#f01010"/>
<circle cx="304.3" cy="431.3" r="2.55" fill="#f01010"/>
<circle cx="312.8" cy="440.8" r="2.55" fill="#f01010"/>
<circle cx="322.3" cy="451" r="2.55" fill="#f01010"/>
<path d="M65.1,285.5 L69.0,287.2 L72.8,289.0 L76.6,290.7 L80.5,292.5 L84.3,294.4 L88.1,296.2 L92.0,298.1 L95.8,299.9 L99.6,301.8 L103.5,303.8 L107.3,305.7 L111.1,307.6 L115.0,309.6 L118.8,311.6 L122.6,313.6 L126.4,315.7 L130.3,317.7 L134.1,319.8 L137.9,321.9 L141.8,324.0 L145.6,326.1 L149.4,328.3 L153.3,330.5 L157.1,332.7 L160.9,334.9 L164.8,337.1 L168.6,339.4 L172.4,341.6 L176.3,343.9 L180.1,346.2 L183.9,348.6 L187.8,350.9 L191.6,353.3 L195.4,355.7 L199.3,358.1 L203.1,360.5 L206.9,362.9 L210.8,365.4 L214.6,367.9 L218.4,370.4 L222.3,372.9 L226.1,375.5 L229.9,378.0 L233.8,380.6 L237.6,383.2 L241.4,385.9 L245.3,388.5 L249.1,391.2 L252.9,393.8 L256.8,396.5 L260.6,399.3 L264.4,402.0 L268.2,404.8 L272.1,407.5 L275.9,410.3 L279.7,413.2 L283.6,416.0 L287.4,418.9 L291.2,421.7 L295.1,424.6 L298.9,427.6 L302.7,430.5 L306.6,433.5 L310.4,436.4 L314.2,439.4 L318.1,442.4 L321.9,445.5" stroke="#1010c8" stroke-width="1.85" fill="none"/>
<rect x="169.2" y="288.2" width="161.1" height="31.5" fill="#fff" stroke="#9a9a9a" stroke-width="0.9"/>
<circle cx="190.3" cy="298.1" r="2.6" fill="#ee1111"/>
<line x1="177.40" y1="311.00" x2="202.00" y2="311.00" stroke="#1010c0" stroke-width="1.6" />
<text x="204.80" y="302.00" font-family="'Liberation Sans', sans-serif" font-size="10.6" font-weight="bold" text-anchor="start" >Measured values</text>
<text x="204.80" y="314.90" font-family="'Liberation Sans', sans-serif" font-size="10.6" font-weight="bold" text-anchor="start" >Polynomial fitted curve</text>
<text x="82.40" y="402.40" font-family="'Liberation Serif', serif" font-size="14.6" font-weight="bold" text-anchor="start" textLength="141" lengthAdjust="spacingAndGlyphs"><tspan font-style="italic">&#916;f</tspan> = -0.316&#215;<tspan font-style="italic">S</tspan>-0.358&#215;<tspan font-style="italic">S</tspan><tspan font-size="8.5" dy="-5.5">2</tspan></text>
<rect x="407.35" y="383.63" width="7.2" height="92.74" fill="#ff0000" stroke="#3a0000" stroke-width="0.7"/>
<rect x="416.37" y="326.81" width="7.2" height="56.82" fill="#ff0000" stroke="#3a0000" stroke-width="0.7"/>
<rect x="425.39" y="332.69" width="7.2" height="50.94" fill="#ff0000" stroke="#3a0000" stroke-width="0.7"/>
<rect x="434.40" y="342.81" width="7.2" height="40.82" fill="#ff0000" stroke="#3a0000" stroke-width="0.7"/>
<rect x="443.42" y="275.47" width="7.2" height="108.16" fill="#ff0000" stroke="#3a0000" stroke-width="0.7"/>
<rect x="452.44" y="288.93" width="7.2" height="94.70" fill="#ff0000" stroke="#3a0000" stroke-width="0.7"/>
<rect x="461.46" y="318.32" width="7.2" height="65.31" fill="#ff0000" stroke="#3a0000" stroke-width="0.7"/>
<rect x="470.48" y="313.75" width="7.2" height="69.88" fill="#ff0000" stroke="#3a0000" stroke-width="0.7"/>
<rect x="479.50" y="306.56" width="7.2" height="77.07" fill="#ff0000" stroke="#3a0000" stroke-width="0.7"/>
<rect x="488.52" y="335.63" width="7.2" height="48.00" fill="#ff0000" stroke="#3a0000" stroke-width="0.7"/>
<rect x="497.54" y="363.38" width="7.2" height="20.25" fill="#ff0000" stroke="#3a0000" stroke-width="0.7"/>
<rect x="506.56" y="367.96" width="7.2" height="15.68" fill="#ff0000" stroke="#3a0000" stroke-width="0.7"/>
<rect x="515.58" y="367.30" width="7.2" height="16.33" fill="#ff0000" stroke="#3a0000" stroke-width="0.7"/>
<rect x="524.60" y="383.63" width="7.2" height="13.06" fill="#ff0000" stroke="#3a0000" stroke-width="0.7"/>
<rect x="533.61" y="372.53" width="7.2" height="11.10" fill="#ff0000" stroke="#3a0000" stroke-width="0.7"/>
<rect x="542.63" y="376.45" width="7.2" height="7.18" fill="#ff0000" stroke="#3a0000" stroke-width="0.7"/>
<rect x="551.65" y="383.63" width="7.2" height="16.33" fill="#ff0000" stroke="#3a0000" stroke-width="0.7"/>
<rect x="569.69" y="383.63" width="7.2" height="32.00" fill="#ff0000" stroke="#3a0000" stroke-width="0.7"/>
<rect x="578.71" y="383.63" width="7.2" height="34.94" fill="#ff0000" stroke="#3a0000" stroke-width="0.7"/>
<rect x="587.73" y="383.63" width="7.2" height="16.33" fill="#ff0000" stroke="#3a0000" stroke-width="0.7"/>
<rect x="596.75" y="383.63" width="7.2" height="17.31" fill="#ff0000" stroke="#3a0000" stroke-width="0.7"/>
<rect x="605.77" y="383.63" width="7.2" height="27.10" fill="#ff0000" stroke="#3a0000" stroke-width="0.7"/>
<rect x="614.79" y="383.63" width="7.2" height="39.19" fill="#ff0000" stroke="#3a0000" stroke-width="0.7"/>
<rect x="632.82" y="363.71" width="7.2" height="19.92" fill="#ff0000" stroke="#3a0000" stroke-width="0.7"/>
<rect x="641.84" y="370.90" width="7.2" height="12.74" fill="#ff0000" stroke="#3a0000" stroke-width="0.7"/>
<rect x="650.86" y="376.45" width="7.2" height="7.18" fill="#ff0000" stroke="#3a0000" stroke-width="0.7"/>
<rect x="659.88" y="367.63" width="7.2" height="16.00" fill="#ff0000" stroke="#3a0000" stroke-width="0.7"/>
<line x1="388.40" y1="383.63" x2="672.50" y2="383.63" stroke="#000" stroke-width="1.6" />
<rect x="388.4" y="272.6" width="284.1" height="209.0" fill="none" stroke="#000" stroke-width="1.6"/>
<line x1="392.91" y1="481.60" x2="392.91" y2="477.10" stroke="#000" stroke-width="1.6" />
<line x1="438.00" y1="481.60" x2="438.00" y2="477.10" stroke="#000" stroke-width="1.6" />
<line x1="483.10" y1="481.60" x2="483.10" y2="477.10" stroke="#000" stroke-width="1.6" />
<line x1="528.20" y1="481.60" x2="528.20" y2="477.10" stroke="#000" stroke-width="1.6" />
<line x1="573.29" y1="481.60" x2="573.29" y2="477.10" stroke="#000" stroke-width="1.6" />
<line x1="618.39" y1="481.60" x2="618.39" y2="477.10" stroke="#000" stroke-width="1.6" />
<line x1="663.48" y1="481.60" x2="663.48" y2="477.10" stroke="#000" stroke-width="1.6" />
<line x1="415.46" y1="481.60" x2="415.46" y2="478.80" stroke="#000" stroke-width="1.6" />
<line x1="460.55" y1="481.60" x2="460.55" y2="478.80" stroke="#000" stroke-width="1.6" />
<line x1="505.65" y1="481.60" x2="505.65" y2="478.80" stroke="#000" stroke-width="1.6" />
<line x1="550.74" y1="481.60" x2="550.74" y2="478.80" stroke="#000" stroke-width="1.6" />
<line x1="595.84" y1="481.60" x2="595.84" y2="478.80" stroke="#000" stroke-width="1.6" />
<line x1="640.93" y1="481.60" x2="640.93" y2="478.80" stroke="#000" stroke-width="1.6" />
<text x="392.91" y="495.60" font-family="'Liberation Serif', serif" font-size="12.5" font-weight="bold" text-anchor="middle" >0</text>
<text x="438.00" y="495.60" font-family="'Liberation Serif', serif" font-size="12.5" font-weight="bold" text-anchor="middle" >5</text>
<text x="483.10" y="495.60" font-family="'Liberation Serif', serif" font-size="12.5" font-weight="bold" text-anchor="middle" >10</text>
<text x="528.20" y="495.60" font-family="'Liberation Serif', serif" font-size="12.5" font-weight="bold" text-anchor="middle" >15</text>
<text x="573.29" y="495.60" font-family="'Liberation Serif', serif" font-size="12.5" font-weight="bold" text-anchor="middle" >20</text>
<text x="618.39" y="495.60" font-family="'Liberation Serif', serif" font-size="12.5" font-weight="bold" text-anchor="middle" >25</text>
<text x="663.48" y="495.60" font-family="'Liberation Serif', serif" font-size="12.5" font-weight="bold" text-anchor="middle" >30</text>
<line x1="388.40" y1="285.66" x2="392.90" y2="285.66" stroke="#000" stroke-width="1.6" />
<line x1="388.40" y1="318.32" x2="392.90" y2="318.32" stroke="#000" stroke-width="1.6" />
<line x1="388.40" y1="350.98" x2="392.90" y2="350.98" stroke="#000" stroke-width="1.6" />
<line x1="388.40" y1="383.63" x2="392.90" y2="383.63" stroke="#000" stroke-width="1.6" />
<line x1="388.40" y1="416.29" x2="392.90" y2="416.29" stroke="#000" stroke-width="1.6" />
<line x1="388.40" y1="448.94" x2="392.90" y2="448.94" stroke="#000" stroke-width="1.6" />
<line x1="388.40" y1="481.60" x2="392.90" y2="481.60" stroke="#000" stroke-width="1.6" />
<line x1="388.40" y1="301.99" x2="391.20" y2="301.99" stroke="#000" stroke-width="1.6" />
<line x1="388.40" y1="334.65" x2="391.20" y2="334.65" stroke="#000" stroke-width="1.6" />
<line x1="388.40" y1="367.30" x2="391.20" y2="367.30" stroke="#000" stroke-width="1.6" />
<line x1="388.40" y1="399.96" x2="391.20" y2="399.96" stroke="#000" stroke-width="1.6" />
<line x1="388.40" y1="432.62" x2="391.20" y2="432.62" stroke="#000" stroke-width="1.6" />
<line x1="388.40" y1="465.27" x2="391.20" y2="465.27" stroke="#000" stroke-width="1.6" />
<text x="383.30" y="289.66" font-family="'Liberation Serif', serif" font-size="12.5" font-weight="bold" text-anchor="end" >15</text>
<text x="383.30" y="322.32" font-family="'Liberation Serif', serif" font-size="12.5" font-weight="bold" text-anchor="end" >10</text>
<text x="383.30" y="354.98" font-family="'Liberation Serif', serif" font-size="12.5" font-weight="bold" text-anchor="end" >5</text>
<text x="383.30" y="387.63" font-family="'Liberation Serif', serif" font-size="12.5" font-weight="bold" text-anchor="end" >0</text>
<text x="383.30" y="420.29" font-family="'Liberation Serif', serif" font-size="12.5" font-weight="bold" text-anchor="end" >-5</text>
<text x="383.30" y="452.94" font-family="'Liberation Serif', serif" font-size="12.5" font-weight="bold" text-anchor="end" >-10</text>
<text x="383.30" y="485.60" font-family="'Liberation Serif', serif" font-size="12.5" font-weight="bold" text-anchor="end" >-15</text>
<text x="530.20" y="517.80" font-family="'Liberation Serif', serif" font-size="13.0" font-weight="bold" text-anchor="middle" >Data number</text>
<text x="358.70" y="387.50" font-family="'Liberation Serif', serif" font-size="13.5" font-weight="bold" text-anchor="middle" transform="rotate(-90 358.7 387.5)">Force fitting error (%)</text>
<text x="346.60" y="272.00" font-family="'Liberation Serif', serif" font-size="19" font-weight="normal" text-anchor="start" >(d)</text>
</svg>
</body></html>
